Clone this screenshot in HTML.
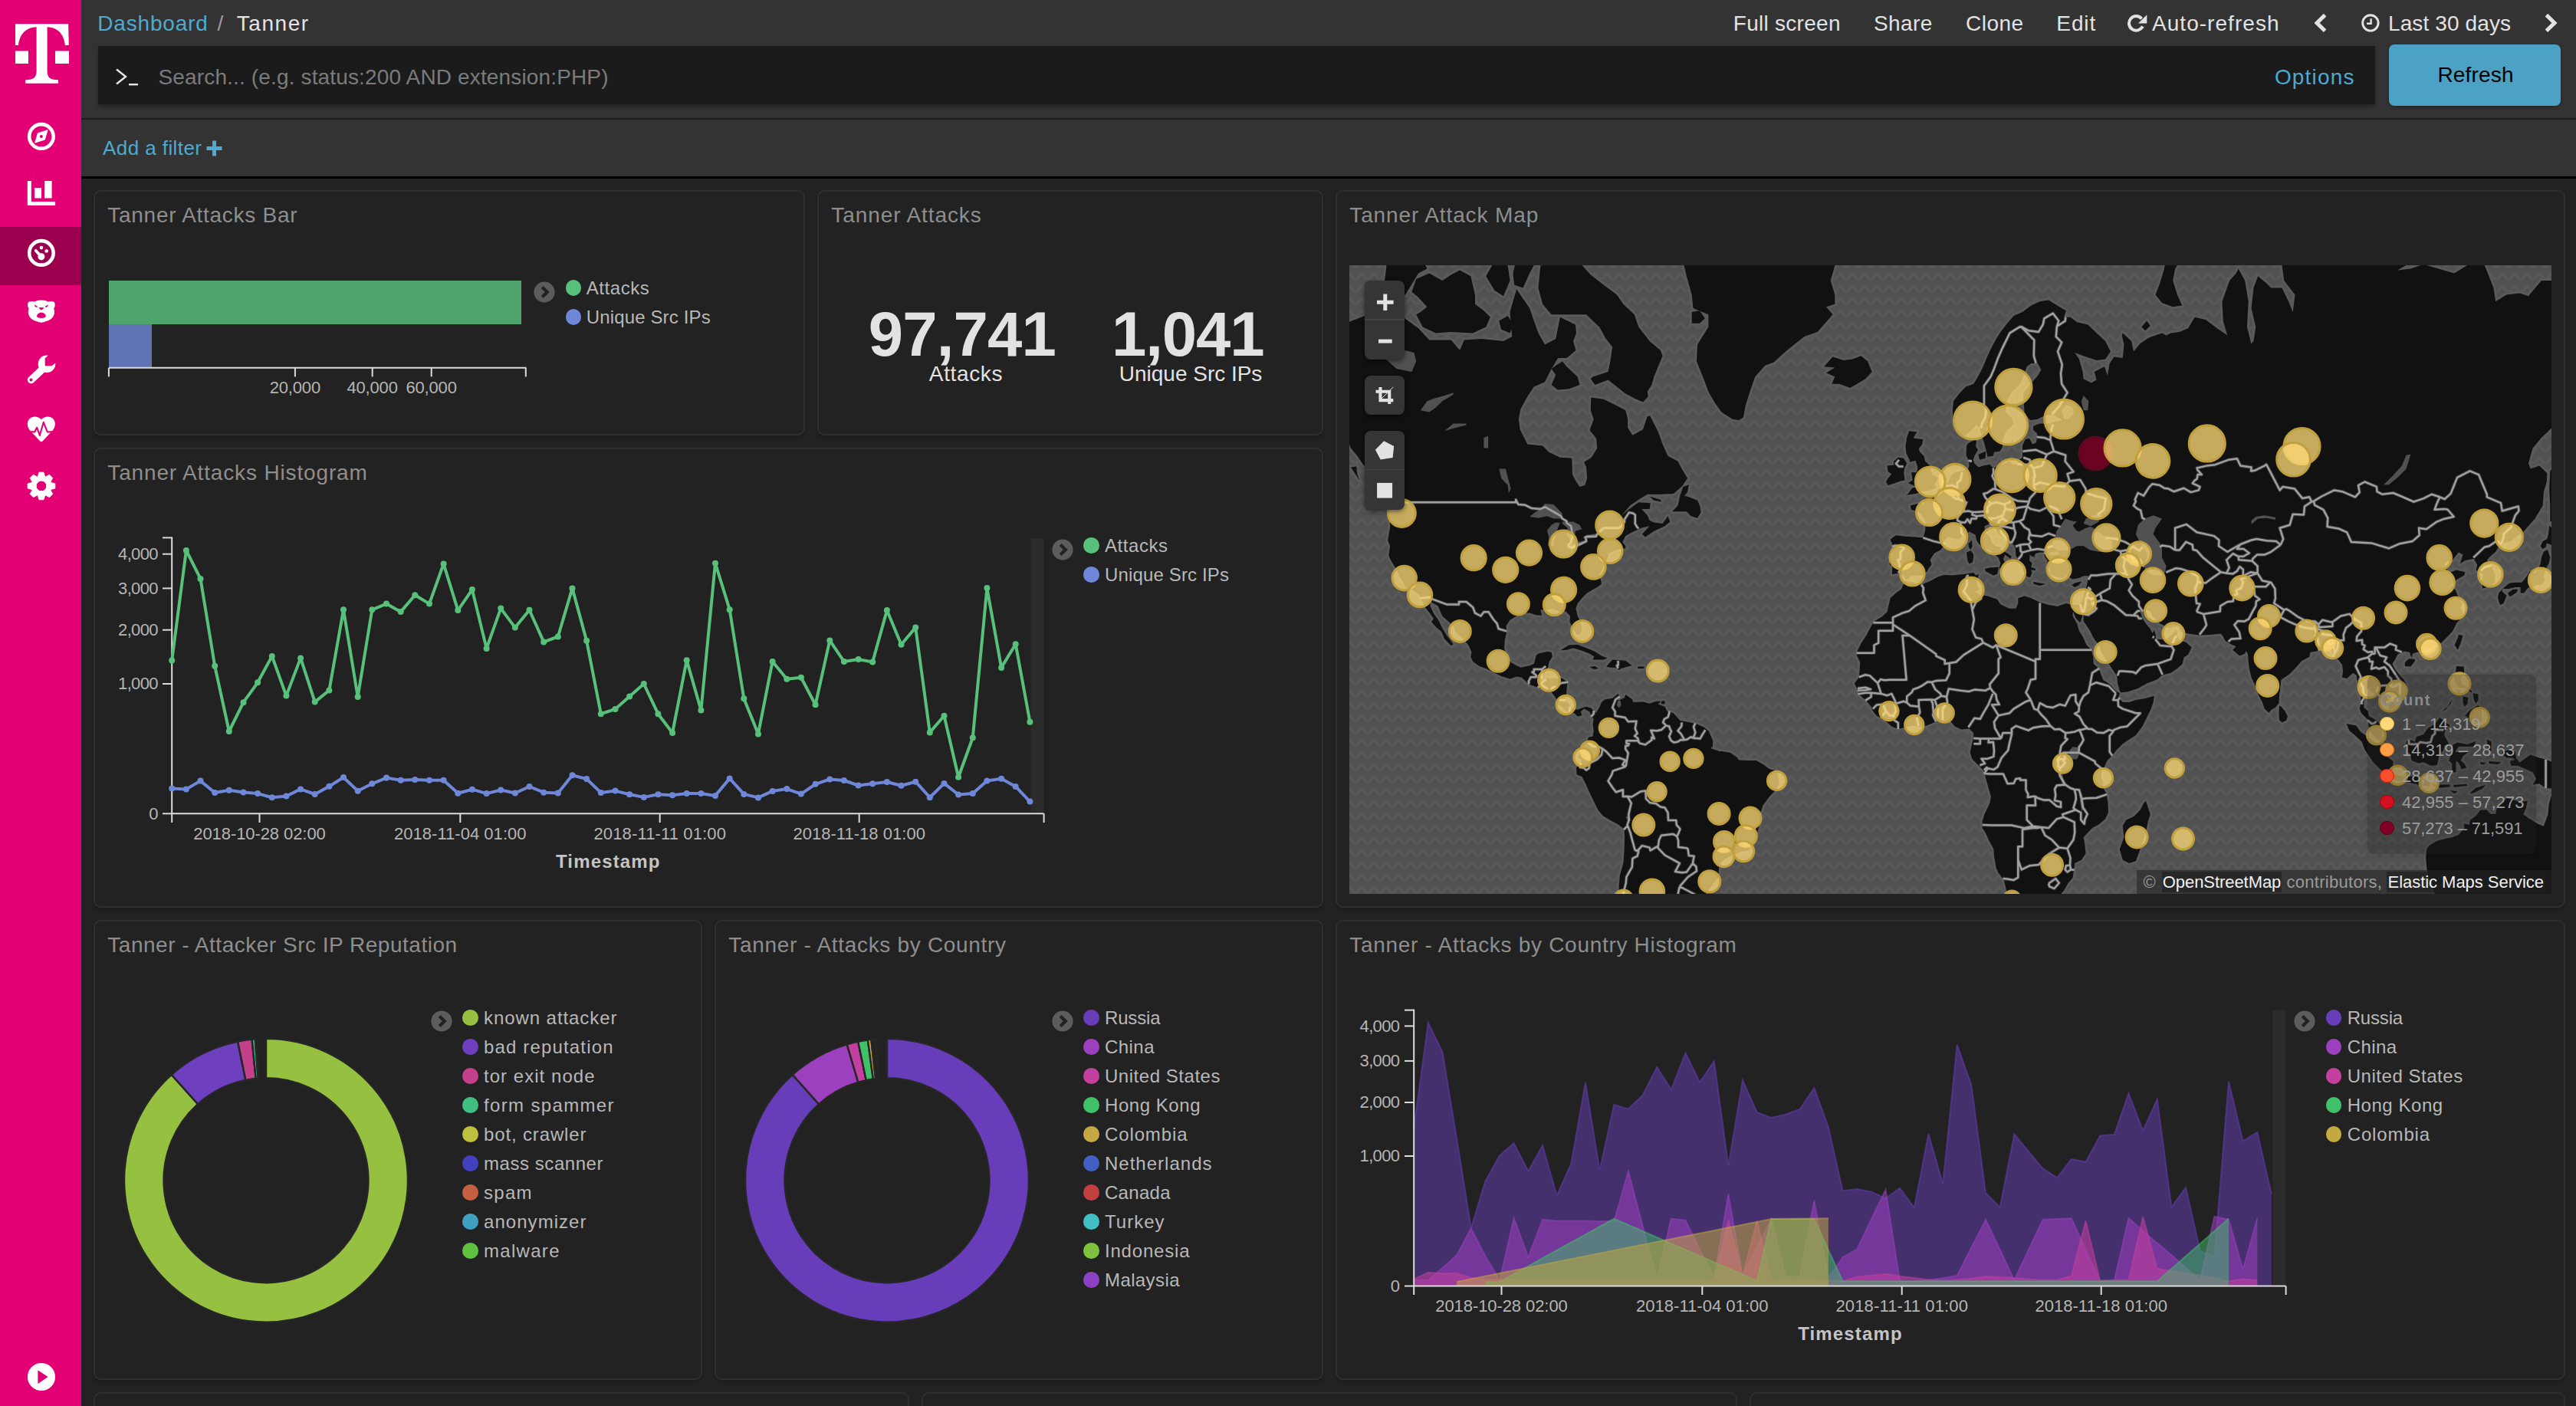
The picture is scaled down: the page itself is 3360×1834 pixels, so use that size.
<!DOCTYPE html>
<html><head><meta charset="utf-8"><title>Tanner - Kibana</title>
<style>
html,body{margin:0;padding:0;background:#222;}
body{width:3360px;height:1834px;overflow:hidden;position:relative;font-family:"Liberation Sans", sans-serif;}
div{box-sizing:content-box;}
</style></head><body>
<div style="position:absolute;left:0px;top:0px;width:106px;height:1834px;background:#e20074;"></div>
<div style="position:absolute;left:0px;top:296px;width:106px;height:75.8px;background:#9b004f;"></div>
<svg style="position:absolute;left:0;top:0" width="3360" height="1834" viewBox="0 0 3360 1834"><path d="M20,31.2 H89.1 L89.8,58.8 L85,59.3 C83.5,46 77,36 61.6,35.3 V92 C61.6,100 64,104.3 76,104.3 V108.8 H33.1 V104.3 C45,104.3 47.6,100 47.6,92 V35.3 C32,36 25.5,46 23.9,59.3 L20,58.8 Z" fill="#fff"/><path d="M20,66.6 h17 v16.3 h-17z M72,66.6 h18 v16.3 h-18z" fill="#fff"/><circle cx="53.9" cy="177.9" r="15.75" fill="none" stroke="#fff" stroke-width="4.6"/><path d="M62.8,169 L58.7,182.4 L45.1,186.8 L49,173.6 Z M53.9,175.9 a2,2 0 1 0 0.01,0Z" fill="#fff" fill-rule="evenodd"/><path d="M35.8,236 h5 v27 h31.3 v4.9 h-36.3z M45.1,244.9 h8.9 v13.5 h-8.9z M58.2,236 h9.4 v22.4 h-9.4z" fill="#fff"/><circle cx="53.9" cy="329.9" r="15.75" fill="none" stroke="#fff" stroke-width="4.6"/><circle cx="53.9" cy="334.7" r="4.5" fill="#fff"/><path d="M53.9,334.7 L46.7,327" stroke="#fff" stroke-width="3.8" stroke-linecap="round"/><circle cx="53.9" cy="323.1" r="2.3" fill="#fff"/><circle cx="60.7" cy="327.5" r="2.3" fill="#fff"/><path d="M53.9,391.5 C50,391.5 47,392.3 45,393.6 C42.5,392.6 39,392.8 36.8,394.2 C35.5,397 36.2,400.5 37.6,402.5 C36.2,406 36.5,410 38.5,413 C41,417 45,418.5 48.5,419.3 C50,420.3 52,420.7 53.9,420.7 C55.8,420.7 57.8,420.3 59.3,419.3 C62.8,418.5 66.8,417 69.3,413 C71.3,410 71.6,406 70.2,402.5 C71.6,400.5 72.3,397 71,394.2 C68.8,392.8 65.3,392.6 62.8,393.6 C60.8,392.3 57.8,391.5 53.9,391.5 Z" fill="#fff"/><path d="M44.9,397.6 L48.9,399.5 L48.3,400.9 L45.6,399.9 Z M62.9,397.6 L58.9,399.5 L59.5,400.9 L62.2,399.9 Z" fill="#e20074"/><path d="M50.5,401.3 Q53.9,400.6 57.3,401.3 Q56.5,403.8 53.9,404.6 Q51.3,403.8 50.5,401.3Z" fill="#e20074"/><path d="M48.1,412.3 C48.3,409.5 51,407.8 53.9,407.8 C56.8,407.8 59.5,409.5 59.7,412.3 C59.8,414 57.5,414.9 53.9,414.9 C50.3,414.9 48,414 48.1,412.3Z" fill="#e20074"/><path d="M40.6,495.4 L57,480" stroke="#fff" stroke-width="9.6" stroke-linecap="round"/><circle cx="61" cy="474.7" r="11.3" fill="#fff"/><path d="M58.7,477.3 V467.6 L62.9,463.2 L76,460 V470 L71.9,473.7 L67.5,477.3Z" fill="#e20074"/><circle cx="40.5" cy="495.5" r="2" fill="#e20074"/><path d="M53.9,547.3 C51.5,544.5 48.5,543.4 45.5,543.4 C40,543.4 35.8,547.5 35.8,553 C35.8,557.5 38,560.5 41,563.5 L52.3,575.4 C53.2,576.4 54.6,576.4 55.5,575.4 L66.8,563.5 C69.8,560.5 71.9,557.5 71.9,553 C71.9,547.5 67.8,543.4 62.3,543.4 C59.3,543.4 56.3,544.5 53.9,547.3 Z" fill="#fff"/><path d="M33,563.4 H45.2 L48.2,557.6 L51.8,568 L56.8,550.8 L61.8,563.4 H75" fill="none" stroke="#e20074" stroke-width="2.1" stroke-linejoin="round"/><path d="M49.43,621.46L51.06,616.15L56.90,616.15L58.53,621.46L59.60,621.91L64.51,619.30L68.64,623.43L66.03,628.34L66.48,629.41L71.79,631.04L71.79,636.88L66.48,638.51L66.03,639.58L68.64,644.49L64.51,648.62L59.60,646.01L58.53,646.46L56.90,651.77L51.06,651.77L49.43,646.46L48.36,646.01L43.45,648.62L39.32,644.49L41.93,639.58L41.48,638.51L36.17,636.88L36.17,631.04L41.48,629.41L41.93,628.34L39.32,623.43L43.45,619.30L48.36,621.91Z M47.13,633.96 a6.85,6.85 0 1 0 13.70,0 a6.85,6.85 0 1 0 -13.70,0Z" fill="#fff" fill-rule="evenodd" stroke="#fff" stroke-width="1" stroke-linejoin="round"/><circle cx="53.98" cy="1796" r="18.05" fill="#fff"/><path d="M49.4,1787.2 V1804.9 L62.6,1796Z" fill="#e20074"/></svg>
<div style="position:absolute;left:106px;top:0px;width:3254px;height:230px;background:#333;"></div>
<div style="position:absolute;left:106px;top:153.5px;width:3254px;height:2.5px;background:#1d1d1d;"></div>
<div style="position:absolute;left:106px;top:229.5px;width:3254px;height:3px;background:#000;"></div>
<div id="t1" style="position:absolute;top:16.7px;font-size:28px;line-height:28px;color:#4eaad0;white-space:nowrap;letter-spacing:0.814px;left:127.3px;">Dashboard</div>
<div id="t2" style="position:absolute;top:16.7px;font-size:28px;line-height:28px;color:#9a9a9a;white-space:nowrap;left:283.5px;">/</div>
<div id="t3" style="position:absolute;top:16.7px;font-size:28px;line-height:28px;color:#e4e4e4;white-space:nowrap;letter-spacing:1.576px;left:308.7px;">Tanner</div>
<div id="t4" style="position:absolute;top:16.6px;font-size:28px;line-height:28px;color:#e2e2e2;white-space:nowrap;letter-spacing:0.275px;left:2260.8px;">Full screen</div>
<div id="t5" style="position:absolute;top:16.6px;font-size:28px;line-height:28px;color:#e2e2e2;white-space:nowrap;letter-spacing:0.396px;left:2444.0px;">Share</div>
<div id="t6" style="position:absolute;top:16.6px;font-size:28px;line-height:28px;color:#e2e2e2;white-space:nowrap;letter-spacing:0.532px;left:2563.9px;">Clone</div>
<div id="t7" style="position:absolute;top:16.6px;font-size:28px;line-height:28px;color:#e2e2e2;white-space:nowrap;letter-spacing:0.915px;left:2682.3px;">Edit</div>
<div id="t8" style="position:absolute;top:16.6px;font-size:28px;line-height:28px;color:#e2e2e2;white-space:nowrap;letter-spacing:1.039px;left:2807.0px;">Auto-refresh</div>
<div id="t9" style="position:absolute;top:16.6px;font-size:28px;line-height:28px;color:#e2e2e2;white-space:nowrap;letter-spacing:0.111px;left:3115.0px;">Last 30 days</div>
<svg style="position:absolute;left:0;top:0" width="3360" height="1834" viewBox="0 0 3360 1834"><path d="M2793.42,24.42 A9.3,9.3 0 1 0 2794.73,34.33" fill="none" stroke="#e2e2e2" stroke-width="4"/><path d="M2800.3,19.2 V30.6 H2788.9 Z" fill="#e2e2e2"/><path d="M3032.6,19.6 L3022,29.9 L3032.6,40.2" fill="none" stroke="#e2e2e2" stroke-width="5"/><path d="M3321.4,19.6 L3332,29.9 L3321.4,40.2" fill="none" stroke="#e2e2e2" stroke-width="5"/><circle cx="3091.9" cy="29.9" r="10.2" fill="none" stroke="#e2e2e2" stroke-width="2.9"/><path d="M3092.6,24.2 V30.8 H3087" fill="none" stroke="#e2e2e2" stroke-width="2.4"/></svg>
<div style="position:absolute;left:128px;top:60px;width:2969.5px;height:75.5px;background:#1b1b1b;box-shadow:0 3px 5px rgba(0,0,0,0.35);"></div>
<svg style="position:absolute;left:150px;top:88px" width="34" height="26" viewBox="0 0 34 26"><path d="M2,2.5 L14,12 L2,21.5" fill="none" stroke="#e6e6e6" stroke-width="2.4"/><path d="M18,22.2 L30,22.2" stroke="#e6e6e6" stroke-width="2.4"/></svg>
<div id="t10" style="position:absolute;top:86.5px;font-size:28px;line-height:28px;color:#7b7b7b;white-space:nowrap;letter-spacing:0.148px;left:206.5px;">Search... (e.g. status:200 AND extension:PHP)</div>
<div id="t11" style="position:absolute;top:86.5px;font-size:28px;line-height:28px;color:#4eaad0;white-space:nowrap;letter-spacing:1.166px;left:2966.9px;">Options</div>
<div style="position:absolute;left:3116px;top:57.5px;width:224px;height:80px;background:#4ba2c4;border-radius:7px;box-shadow:0 2px 4px rgba(0,0,0,0.3);"></div>
<div id="t12" style="position:absolute;top:84.3px;font-size:28px;line-height:28px;color:#000;white-space:nowrap;letter-spacing:0.175px;left:3179.4px;">Refresh</div>
<div id="t13" style="position:absolute;top:180.0px;font-size:26px;line-height:26px;color:#4eaad0;white-space:nowrap;letter-spacing:0.427px;left:134.0px;">Add a filter</div>
<svg style="position:absolute;left:268.5px;top:182.5px" width="21" height="21" viewBox="0 0 21 21"><path d="M8,0.5h5v7.5h7.5v5h-7.5v7.5h-5v-7.5h-7.5v-5h7.5z" fill="#4eaad0"/></svg>
<div style="position:absolute;left:106px;top:232.5px;width:3254px;height:1602px;background:#222;"></div>
<div style="position:absolute;left:122px;top:248px;width:924px;height:316px;border:2px solid #2f2f2f;border-radius:9px;background:#222;box-shadow:0 2px 4px rgba(0,0,0,0.25);"></div><div id="t14" style="position:absolute;top:266.7px;font-size:28px;line-height:28px;color:#8e8e8e;white-space:nowrap;letter-spacing:0.717px;left:140.3px;">Tanner Attacks Bar</div>
<div style="position:absolute;left:1066px;top:248px;width:656px;height:316px;border:2px solid #2f2f2f;border-radius:9px;background:#222;box-shadow:0 2px 4px rgba(0,0,0,0.25);"></div><div id="t15" style="position:absolute;top:266.7px;font-size:28px;line-height:28px;color:#8e8e8e;white-space:nowrap;letter-spacing:0.910px;left:1084.3px;">Tanner Attacks</div>
<div style="position:absolute;left:1742px;top:248px;width:1600px;height:932px;border:2px solid #2f2f2f;border-radius:9px;background:#222;box-shadow:0 2px 4px rgba(0,0,0,0.25);"></div><div id="t16" style="position:absolute;top:266.7px;font-size:28px;line-height:28px;color:#8e8e8e;white-space:nowrap;letter-spacing:0.875px;left:1760.3px;">Tanner Attack Map</div>
<div style="position:absolute;left:122px;top:584px;width:1600px;height:596px;border:2px solid #2f2f2f;border-radius:9px;background:#222;box-shadow:0 2px 4px rgba(0,0,0,0.25);"></div><div id="t17" style="position:absolute;top:602.7px;font-size:28px;line-height:28px;color:#8e8e8e;white-space:nowrap;letter-spacing:0.847px;left:140.3px;">Tanner Attacks Histogram</div>
<div style="position:absolute;left:122px;top:1200px;width:790px;height:596px;border:2px solid #2f2f2f;border-radius:9px;background:#222;box-shadow:0 2px 4px rgba(0,0,0,0.25);"></div><div id="t18" style="position:absolute;top:1218.7px;font-size:28px;line-height:28px;color:#8e8e8e;white-space:nowrap;letter-spacing:0.512px;left:140.3px;">Tanner - Attacker Src IP Reputation</div>
<div style="position:absolute;left:932px;top:1200px;width:790px;height:596px;border:2px solid #2f2f2f;border-radius:9px;background:#222;box-shadow:0 2px 4px rgba(0,0,0,0.25);"></div><div id="t19" style="position:absolute;top:1218.7px;font-size:28px;line-height:28px;color:#8e8e8e;white-space:nowrap;letter-spacing:0.687px;left:950.3px;">Tanner - Attacks by Country</div>
<div style="position:absolute;left:1742px;top:1200px;width:1600px;height:596px;border:2px solid #2f2f2f;border-radius:9px;background:#222;box-shadow:0 2px 4px rgba(0,0,0,0.25);"></div><div id="t20" style="position:absolute;top:1218.7px;font-size:28px;line-height:28px;color:#8e8e8e;white-space:nowrap;letter-spacing:0.700px;left:1760.3px;">Tanner - Attacks by Country Histogram</div>
<div style="position:absolute;left:122px;top:1816px;width:1060px;height:100px;border:2px solid #2f2f2f;border-radius:9px;background:#222;"></div>
<div style="position:absolute;left:1202px;top:1816px;width:1060px;height:100px;border:2px solid #2f2f2f;border-radius:9px;background:#222;"></div>
<div style="position:absolute;left:2282px;top:1816px;width:1060px;height:100px;border:2px solid #2f2f2f;border-radius:9px;background:#222;"></div>
<div style="position:absolute;left:141.9px;top:365.8px;width:538.1px;height:57.3px;background:#4ea46b;"></div>
<div style="position:absolute;left:141.9px;top:423.1px;width:55.8px;height:56.1px;background:#6073b4;"></div>
<svg style="position:absolute;left:0;top:0" width="3360" height="1834" viewBox="0 0 3360 1834"><g stroke="#dcdcdc" stroke-width="2" fill="none"><path d="M141.9,479.8 H686.4"/><path d="M141.9,479.8 V491.4"/><path d="M384.9,479.8 V491.4"/><path d="M485.7,479.8 V491.4"/><path d="M562.7,479.8 V491.4"/><path d="M685.8,479.8 V491.4"/></g><g stroke="#dcdcdc" stroke-width="2" fill="none"><path d="M224.2,700.4 V1061.3 H1361.6"/><path d="M212,701.4 H224.2"/><path d="M212,722.7 H224.2"/><path d="M212,767.4 H224.2"/><path d="M212,821.7 H224.2"/><path d="M212,892.0 H224.2"/><path d="M212,1061.3 H224.2"/><path d="M224.2,1061.3 V1073"/><path d="M338.5,1061.3 V1073"/><path d="M600.3,1061.3 V1073"/><path d="M860.7,1061.3 V1073"/><path d="M1120.7,1061.3 V1073"/><path d="M1361.6,1061.3 V1073"/></g><rect x="1344.5" y="702" width="17.1" height="358" fill="#2b2b2b"/><path d="M224.2,861.5 L242.9,717.9 L261.5,754.9 L280.2,868.7 L298.8,954.0 L317.5,916.2 L336.1,890.3 L354.8,855.9 L373.4,907.6 L392.1,858.4 L410.7,915.6 L429.4,900.5 L448.0,795.3 L466.7,909.0 L485.3,795.3 L504.0,787.6 L522.7,798.1 L541.3,776.2 L560.0,787.6 L578.6,735.5 L597.3,796.1 L615.9,769.1 L634.6,845.9 L653.2,793.6 L671.9,818.6 L690.5,795.8 L709.2,837.4 L727.8,830.5 L746.5,767.4 L765.1,835.7 L783.8,931.2 L802.5,925.0 L821.1,908.5 L839.8,892.0 L858.4,931.2 L877.1,956.0 L895.7,861.2 L914.4,926.4 L933.0,734.7 L951.7,795.2 L970.3,911.3 L989.0,957.4 L1007.6,862.9 L1026.3,885.7 L1044.9,883.7 L1063.6,919.3 L1082.3,835.4 L1100.9,862.9 L1119.6,860.1 L1138.2,863.5 L1156.9,796.1 L1175.5,840.8 L1194.2,818.6 L1212.8,955.4 L1231.5,933.8 L1250.1,1013.7 L1268.8,962.2 L1287.4,767.1 L1306.1,870.9 L1324.7,840.2 L1343.4,941.7" fill="none" stroke="#57c17b" stroke-width="4" stroke-linejoin="round"/><path d="M224.2,1028.5 L242.9,1029.4 L261.5,1018.6 L280.2,1034.0 L298.8,1030.8 L317.5,1033.4 L336.1,1035.1 L354.8,1040.2 L373.4,1038.5 L392.1,1029.4 L410.7,1036.0 L429.4,1025.7 L448.0,1014.0 L466.7,1031.7 L485.3,1022.3 L504.0,1014.6 L522.7,1017.7 L541.3,1016.9 L560.0,1017.7 L578.6,1017.7 L597.3,1034.8 L615.9,1029.7 L634.6,1035.1 L653.2,1030.5 L671.9,1034.5 L690.5,1026.0 L709.2,1033.7 L727.8,1034.5 L746.5,1011.2 L765.1,1016.0 L783.8,1033.9 L802.5,1031.6 L821.1,1036.2 L839.8,1039.9 L858.4,1036.2 L877.1,1037.3 L895.7,1035.0 L914.4,1035.0 L933.0,1037.9 L951.7,1015.4 L970.3,1035.9 L989.0,1040.4 L1007.6,1031.9 L1026.3,1029.1 L1044.9,1035.6 L1063.6,1022.8 L1082.3,1016.5 L1100.9,1018.0 L1119.6,1024.5 L1138.2,1022.2 L1156.9,1020.0 L1175.5,1024.8 L1194.2,1019.7 L1212.8,1040.2 L1231.5,1021.9 L1250.1,1036.5 L1268.8,1035.0 L1287.4,1018.5 L1306.1,1015.7 L1324.7,1025.9 L1343.4,1045.6" fill="none" stroke="#6f87d8" stroke-width="4" stroke-linejoin="round"/><circle cx="224.2" cy="861.5" r="4" fill="#57c17b"/><circle cx="242.9" cy="717.9" r="4" fill="#57c17b"/><circle cx="261.5" cy="754.9" r="4" fill="#57c17b"/><circle cx="280.2" cy="868.7" r="4" fill="#57c17b"/><circle cx="298.8" cy="954.0" r="4" fill="#57c17b"/><circle cx="317.5" cy="916.2" r="4" fill="#57c17b"/><circle cx="336.1" cy="890.3" r="4" fill="#57c17b"/><circle cx="354.8" cy="855.9" r="4" fill="#57c17b"/><circle cx="373.4" cy="907.6" r="4" fill="#57c17b"/><circle cx="392.1" cy="858.4" r="4" fill="#57c17b"/><circle cx="410.7" cy="915.6" r="4" fill="#57c17b"/><circle cx="429.4" cy="900.5" r="4" fill="#57c17b"/><circle cx="448.0" cy="795.3" r="4" fill="#57c17b"/><circle cx="466.7" cy="909.0" r="4" fill="#57c17b"/><circle cx="485.3" cy="795.3" r="4" fill="#57c17b"/><circle cx="504.0" cy="787.6" r="4" fill="#57c17b"/><circle cx="522.7" cy="798.1" r="4" fill="#57c17b"/><circle cx="541.3" cy="776.2" r="4" fill="#57c17b"/><circle cx="560.0" cy="787.6" r="4" fill="#57c17b"/><circle cx="578.6" cy="735.5" r="4" fill="#57c17b"/><circle cx="597.3" cy="796.1" r="4" fill="#57c17b"/><circle cx="615.9" cy="769.1" r="4" fill="#57c17b"/><circle cx="634.6" cy="845.9" r="4" fill="#57c17b"/><circle cx="653.2" cy="793.6" r="4" fill="#57c17b"/><circle cx="671.9" cy="818.6" r="4" fill="#57c17b"/><circle cx="690.5" cy="795.8" r="4" fill="#57c17b"/><circle cx="709.2" cy="837.4" r="4" fill="#57c17b"/><circle cx="727.8" cy="830.5" r="4" fill="#57c17b"/><circle cx="746.5" cy="767.4" r="4" fill="#57c17b"/><circle cx="765.1" cy="835.7" r="4" fill="#57c17b"/><circle cx="783.8" cy="931.2" r="4" fill="#57c17b"/><circle cx="802.5" cy="925.0" r="4" fill="#57c17b"/><circle cx="821.1" cy="908.5" r="4" fill="#57c17b"/><circle cx="839.8" cy="892.0" r="4" fill="#57c17b"/><circle cx="858.4" cy="931.2" r="4" fill="#57c17b"/><circle cx="877.1" cy="956.0" r="4" fill="#57c17b"/><circle cx="895.7" cy="861.2" r="4" fill="#57c17b"/><circle cx="914.4" cy="926.4" r="4" fill="#57c17b"/><circle cx="933.0" cy="734.7" r="4" fill="#57c17b"/><circle cx="951.7" cy="795.2" r="4" fill="#57c17b"/><circle cx="970.3" cy="911.3" r="4" fill="#57c17b"/><circle cx="989.0" cy="957.4" r="4" fill="#57c17b"/><circle cx="1007.6" cy="862.9" r="4" fill="#57c17b"/><circle cx="1026.3" cy="885.7" r="4" fill="#57c17b"/><circle cx="1044.9" cy="883.7" r="4" fill="#57c17b"/><circle cx="1063.6" cy="919.3" r="4" fill="#57c17b"/><circle cx="1082.3" cy="835.4" r="4" fill="#57c17b"/><circle cx="1100.9" cy="862.9" r="4" fill="#57c17b"/><circle cx="1119.6" cy="860.1" r="4" fill="#57c17b"/><circle cx="1138.2" cy="863.5" r="4" fill="#57c17b"/><circle cx="1156.9" cy="796.1" r="4" fill="#57c17b"/><circle cx="1175.5" cy="840.8" r="4" fill="#57c17b"/><circle cx="1194.2" cy="818.6" r="4" fill="#57c17b"/><circle cx="1212.8" cy="955.4" r="4" fill="#57c17b"/><circle cx="1231.5" cy="933.8" r="4" fill="#57c17b"/><circle cx="1250.1" cy="1013.7" r="4" fill="#57c17b"/><circle cx="1268.8" cy="962.2" r="4" fill="#57c17b"/><circle cx="1287.4" cy="767.1" r="4" fill="#57c17b"/><circle cx="1306.1" cy="870.9" r="4" fill="#57c17b"/><circle cx="1324.7" cy="840.2" r="4" fill="#57c17b"/><circle cx="1343.4" cy="941.7" r="4" fill="#57c17b"/><circle cx="224.2" cy="1028.5" r="4" fill="#6f87d8"/><circle cx="242.9" cy="1029.4" r="4" fill="#6f87d8"/><circle cx="261.5" cy="1018.6" r="4" fill="#6f87d8"/><circle cx="280.2" cy="1034.0" r="4" fill="#6f87d8"/><circle cx="298.8" cy="1030.8" r="4" fill="#6f87d8"/><circle cx="317.5" cy="1033.4" r="4" fill="#6f87d8"/><circle cx="336.1" cy="1035.1" r="4" fill="#6f87d8"/><circle cx="354.8" cy="1040.2" r="4" fill="#6f87d8"/><circle cx="373.4" cy="1038.5" r="4" fill="#6f87d8"/><circle cx="392.1" cy="1029.4" r="4" fill="#6f87d8"/><circle cx="410.7" cy="1036.0" r="4" fill="#6f87d8"/><circle cx="429.4" cy="1025.7" r="4" fill="#6f87d8"/><circle cx="448.0" cy="1014.0" r="4" fill="#6f87d8"/><circle cx="466.7" cy="1031.7" r="4" fill="#6f87d8"/><circle cx="485.3" cy="1022.3" r="4" fill="#6f87d8"/><circle cx="504.0" cy="1014.6" r="4" fill="#6f87d8"/><circle cx="522.7" cy="1017.7" r="4" fill="#6f87d8"/><circle cx="541.3" cy="1016.9" r="4" fill="#6f87d8"/><circle cx="560.0" cy="1017.7" r="4" fill="#6f87d8"/><circle cx="578.6" cy="1017.7" r="4" fill="#6f87d8"/><circle cx="597.3" cy="1034.8" r="4" fill="#6f87d8"/><circle cx="615.9" cy="1029.7" r="4" fill="#6f87d8"/><circle cx="634.6" cy="1035.1" r="4" fill="#6f87d8"/><circle cx="653.2" cy="1030.5" r="4" fill="#6f87d8"/><circle cx="671.9" cy="1034.5" r="4" fill="#6f87d8"/><circle cx="690.5" cy="1026.0" r="4" fill="#6f87d8"/><circle cx="709.2" cy="1033.7" r="4" fill="#6f87d8"/><circle cx="727.8" cy="1034.5" r="4" fill="#6f87d8"/><circle cx="746.5" cy="1011.2" r="4" fill="#6f87d8"/><circle cx="765.1" cy="1016.0" r="4" fill="#6f87d8"/><circle cx="783.8" cy="1033.9" r="4" fill="#6f87d8"/><circle cx="802.5" cy="1031.6" r="4" fill="#6f87d8"/><circle cx="821.1" cy="1036.2" r="4" fill="#6f87d8"/><circle cx="839.8" cy="1039.9" r="4" fill="#6f87d8"/><circle cx="858.4" cy="1036.2" r="4" fill="#6f87d8"/><circle cx="877.1" cy="1037.3" r="4" fill="#6f87d8"/><circle cx="895.7" cy="1035.0" r="4" fill="#6f87d8"/><circle cx="914.4" cy="1035.0" r="4" fill="#6f87d8"/><circle cx="933.0" cy="1037.9" r="4" fill="#6f87d8"/><circle cx="951.7" cy="1015.4" r="4" fill="#6f87d8"/><circle cx="970.3" cy="1035.9" r="4" fill="#6f87d8"/><circle cx="989.0" cy="1040.4" r="4" fill="#6f87d8"/><circle cx="1007.6" cy="1031.9" r="4" fill="#6f87d8"/><circle cx="1026.3" cy="1029.1" r="4" fill="#6f87d8"/><circle cx="1044.9" cy="1035.6" r="4" fill="#6f87d8"/><circle cx="1063.6" cy="1022.8" r="4" fill="#6f87d8"/><circle cx="1082.3" cy="1016.5" r="4" fill="#6f87d8"/><circle cx="1100.9" cy="1018.0" r="4" fill="#6f87d8"/><circle cx="1119.6" cy="1024.5" r="4" fill="#6f87d8"/><circle cx="1138.2" cy="1022.2" r="4" fill="#6f87d8"/><circle cx="1156.9" cy="1020.0" r="4" fill="#6f87d8"/><circle cx="1175.5" cy="1024.8" r="4" fill="#6f87d8"/><circle cx="1194.2" cy="1019.7" r="4" fill="#6f87d8"/><circle cx="1212.8" cy="1040.2" r="4" fill="#6f87d8"/><circle cx="1231.5" cy="1021.9" r="4" fill="#6f87d8"/><circle cx="1250.1" cy="1036.5" r="4" fill="#6f87d8"/><circle cx="1268.8" cy="1035.0" r="4" fill="#6f87d8"/><circle cx="1287.4" cy="1018.5" r="4" fill="#6f87d8"/><circle cx="1306.1" cy="1015.7" r="4" fill="#6f87d8"/><circle cx="1324.7" cy="1025.9" r="4" fill="#6f87d8"/><circle cx="1343.4" cy="1045.6" r="4" fill="#6f87d8"/><path d="M347.00,1354.70 A185.0,185.0 0 1 1 223.69,1401.79 L258.08,1440.25 A133.4,133.4 0 1 0 347.00,1406.30 Z" fill="#96c040" stroke="#262626" stroke-width="2.5"/><path d="M223.69,1401.79 A185.0,185.0 0 0 1 310.12,1358.41 L320.40,1408.98 A133.4,133.4 0 0 0 258.08,1440.25 Z" fill="#6e40c0" stroke="#262626" stroke-width="2.5"/><path d="M310.12,1358.41 A185.0,185.0 0 0 1 328.63,1355.61 L333.75,1406.96 A133.4,133.4 0 0 0 320.40,1408.98 Z" fill="#c4408a" stroke="#262626" stroke-width="2.5"/><path d="M328.63,1355.61 A185.0,185.0 0 0 1 332.81,1355.25 L336.77,1406.69 A133.4,133.4 0 0 0 333.75,1406.96 Z" fill="#40c080" stroke="#262626" stroke-width="2.5"/><path d="M332.81,1355.25 A185.0,185.0 0 0 1 334.10,1355.15 L337.69,1406.62 A133.4,133.4 0 0 0 336.77,1406.69 Z" fill="#c0c040" stroke="#262626" stroke-width="2.5"/><path d="M1157.00,1354.70 A185.0,185.0 0 1 1 1033.69,1401.79 L1068.08,1440.25 A133.4,133.4 0 1 0 1157.00,1406.30 Z" fill="#673db9" stroke="#262626" stroke-width="2.5"/><path d="M1033.69,1401.79 A185.0,185.0 0 0 1 1104.77,1362.23 L1119.34,1411.73 A133.4,133.4 0 0 0 1068.08,1440.25 Z" fill="#9c40c0" stroke="#262626" stroke-width="2.5"/><path d="M1104.77,1362.23 A185.0,185.0 0 0 1 1119.17,1358.61 L1129.72,1409.12 A133.4,133.4 0 0 0 1119.34,1411.73 Z" fill="#c440a0" stroke="#262626" stroke-width="2.5"/><path d="M1119.17,1358.61 A185.0,185.0 0 0 1 1131.89,1356.41 L1138.90,1407.53 A133.4,133.4 0 0 0 1129.72,1409.12 Z" fill="#40c068" stroke="#262626" stroke-width="2.5"/><path d="M1131.89,1356.41 A185.0,185.0 0 0 1 1136.38,1355.85 L1142.13,1407.13 A133.4,133.4 0 0 0 1138.90,1407.53 Z" fill="#c4a840" stroke="#262626" stroke-width="2.5"/><path d="M1136.38,1355.85 A185.0,185.0 0 0 1 1140.55,1355.43 L1145.14,1406.83 A133.4,133.4 0 0 0 1142.13,1407.13 Z" fill="#222" stroke="#262626" stroke-width="2.5"/><path d="M1140.55,1355.43 A185.0,185.0 0 0 1 1142.49,1355.27 L1146.53,1406.71 A133.4,133.4 0 0 0 1145.14,1406.83 Z" fill="#4060c4" stroke="#262626" stroke-width="2.5"/><rect x="2964.5" y="1317.6" width="17.1" height="358.5" fill="#2b2b2b"/><path d="M1844.2,1677.5 L1844.2,1470.7 L1862.8,1333.6 L1881.5,1372.0 L1900.1,1484.9 L1918.8,1601.5 L1937.4,1540.4 L1956.1,1507.1 L1974.7,1491.1 L1993.4,1527.6 L2012.0,1494.0 L2030.7,1559.4 L2049.3,1517.6 L2067.9,1411.8 L2086.6,1526.1 L2105.2,1441.1 L2123.9,1446.5 L2142.5,1428.6 L2161.2,1391.9 L2179.8,1420.9 L2198.5,1373.4 L2217.1,1411.5 L2235.8,1383.9 L2254.4,1520.4 L2273.0,1408.7 L2291.7,1450.8 L2310.3,1457.9 L2329.0,1453.6 L2347.6,1446.8 L2366.3,1418.9 L2384.9,1470.1 L2403.6,1553.2 L2422.2,1550.9 L2440.9,1554.6 L2459.5,1563.1 L2478.1,1549.7 L2496.8,1575.3 L2515.4,1478.6 L2534.1,1544.1 L2552.7,1362.6 L2571.4,1415.2 L2590.0,1556.0 L2608.7,1574.5 L2627.3,1479.2 L2646.0,1502.0 L2664.6,1524.1 L2683.2,1536.1 L2701.9,1511.9 L2720.5,1515.6 L2739.2,1481.5 L2757.8,1479.8 L2776.5,1426.0 L2795.1,1474.9 L2813.8,1433.7 L2832.4,1574.5 L2851.1,1548.9 L2869.7,1631.4 L2888.3,1639.9 L2907.0,1410.4 L2925.6,1488.3 L2944.3,1476.9 L2962.9,1557.4 L2962.9,1677.5 Z" fill="#673db9" fill-opacity="0.5"/><path d="M1844.2,1470.7 L1862.8,1333.6 L1881.5,1372.0 L1900.1,1484.9 L1918.8,1601.5 L1937.4,1540.4 L1956.1,1507.1 L1974.7,1491.1 L1993.4,1527.6 L2012.0,1494.0 L2030.7,1559.4 L2049.3,1517.6 L2067.9,1411.8 L2086.6,1526.1 L2105.2,1441.1 L2123.9,1446.5 L2142.5,1428.6 L2161.2,1391.9 L2179.8,1420.9 L2198.5,1373.4 L2217.1,1411.5 L2235.8,1383.9 L2254.4,1520.4 L2273.0,1408.7 L2291.7,1450.8 L2310.3,1457.9 L2329.0,1453.6 L2347.6,1446.8 L2366.3,1418.9 L2384.9,1470.1 L2403.6,1553.2 L2422.2,1550.9 L2440.9,1554.6 L2459.5,1563.1 L2478.1,1549.7 L2496.8,1575.3 L2515.4,1478.6 L2534.1,1544.1 L2552.7,1362.6 L2571.4,1415.2 L2590.0,1556.0 L2608.7,1574.5 L2627.3,1479.2 L2646.0,1502.0 L2664.6,1524.1 L2683.2,1536.1 L2701.9,1511.9 L2720.5,1515.6 L2739.2,1481.5 L2757.8,1479.8 L2776.5,1426.0 L2795.1,1474.9 L2813.8,1433.7 L2832.4,1574.5 L2851.1,1548.9 L2869.7,1631.4 L2888.3,1639.9 L2907.0,1410.4 L2925.6,1488.3 L2944.3,1476.9 L2962.9,1557.4" fill="none" stroke="#673db9" stroke-opacity="0.5" stroke-width="2"/><path d="M1844.2,1677.5 L1844.2,1669.8 L1862.8,1669.8 L1881.5,1654.1 L1900.1,1637.1 L1918.8,1602.1 L1937.4,1638.5 L1956.1,1669.8 L1974.7,1588.7 L1993.4,1639.9 L2012.0,1590.7 L2030.7,1592.4 L2049.3,1592.4 L2067.9,1592.4 L2086.6,1593.0 L2105.2,1593.0 L2123.9,1527.6 L2142.5,1598.7 L2161.2,1668.4 L2179.8,1589.6 L2198.5,1591.8 L2217.1,1629.4 L2235.8,1666.9 L2254.4,1557.4 L2273.0,1664.1 L2291.7,1627.1 L2310.3,1590.1 L2329.0,1665.5 L2347.6,1665.5 L2366.3,1566.0 L2384.9,1666.9 L2403.6,1639.9 L2422.2,1629.4 L2440.9,1590.1 L2459.5,1551.7 L2478.1,1671.2 L2496.8,1671.2 L2515.4,1669.8 L2534.1,1666.9 L2552.7,1664.1 L2571.4,1627.1 L2590.0,1590.7 L2608.7,1630.0 L2627.3,1669.8 L2646.0,1630.0 L2664.6,1590.7 L2683.2,1590.1 L2701.9,1589.3 L2720.5,1630.0 L2739.2,1671.2 L2757.8,1669.8 L2776.5,1588.7 L2795.1,1605.8 L2813.8,1621.4 L2832.4,1637.1 L2851.1,1654.1 L2869.7,1669.8 L2888.3,1586.7 L2907.0,1590.7 L2925.6,1655.6 L2944.3,1588.7 L2944.3,1677.5 Z" fill="#9c40c0" fill-opacity="0.55"/><path d="M1844.2,1669.8 L1862.8,1669.8 L1881.5,1654.1 L1900.1,1637.1 L1918.8,1602.1 L1937.4,1638.5 L1956.1,1669.8 L1974.7,1588.7 L1993.4,1639.9 L2012.0,1590.7 L2030.7,1592.4 L2049.3,1592.4 L2067.9,1592.4 L2086.6,1593.0 L2105.2,1593.0 L2123.9,1527.6 L2142.5,1598.7 L2161.2,1668.4 L2179.8,1589.6 L2198.5,1591.8 L2217.1,1629.4 L2235.8,1666.9 L2254.4,1557.4 L2273.0,1664.1 L2291.7,1627.1 L2310.3,1590.1 L2329.0,1665.5 L2347.6,1665.5 L2366.3,1566.0 L2384.9,1666.9 L2403.6,1639.9 L2422.2,1629.4 L2440.9,1590.1 L2459.5,1551.7 L2478.1,1671.2 L2496.8,1671.2 L2515.4,1669.8 L2534.1,1666.9 L2552.7,1664.1 L2571.4,1627.1 L2590.0,1590.7 L2608.7,1630.0 L2627.3,1669.8 L2646.0,1630.0 L2664.6,1590.7 L2683.2,1590.1 L2701.9,1589.3 L2720.5,1630.0 L2739.2,1671.2 L2757.8,1669.8 L2776.5,1588.7 L2795.1,1605.8 L2813.8,1621.4 L2832.4,1637.1 L2851.1,1654.1 L2869.7,1669.8 L2888.3,1586.7 L2907.0,1590.7 L2925.6,1655.6 L2944.3,1588.7" fill="none" stroke="#9c40c0" stroke-opacity="0.5" stroke-width="2"/><path d="M1844.2,1677.5 L1844.2,1668.4 L1862.8,1659.8 L1881.5,1661.2 L1900.1,1660.4 L1918.8,1666.9 L1937.4,1668.9 L1956.1,1669.2 L1974.7,1669.2 L1993.4,1669.2 L2012.0,1669.2 L2030.7,1669.2 L2049.3,1669.2 L2067.9,1669.2 L2086.6,1669.2 L2105.2,1669.2 L2123.9,1669.2 L2142.5,1669.2 L2161.2,1669.2 L2179.8,1669.2 L2198.5,1669.2 L2217.1,1669.2 L2235.8,1669.8 L2254.4,1591.6 L2273.0,1664.1 L2291.7,1592.4 L2310.3,1669.8 L2329.0,1669.2 L2347.6,1669.2 L2366.3,1669.2 L2384.9,1669.8 L2403.6,1671.2 L2422.2,1665.5 L2440.9,1663.5 L2459.5,1661.8 L2478.1,1664.7 L2496.8,1666.9 L2515.4,1669.2 L2534.1,1670.3 L2552.7,1669.2 L2571.4,1667.8 L2590.0,1664.9 L2608.7,1665.8 L2627.3,1666.9 L2646.0,1668.4 L2664.6,1669.8 L2683.2,1669.8 L2701.9,1664.1 L2720.5,1592.4 L2739.2,1670.3 L2757.8,1669.8 L2776.5,1669.2 L2795.1,1587.3 L2813.8,1655.0 L2832.4,1657.8 L2851.1,1660.7 L2869.7,1663.5 L2888.3,1666.9 L2907.0,1671.2 L2925.6,1668.4 L2944.3,1669.8 L2944.3,1677.5 Z" fill="#c440a0" fill-opacity="0.55"/><path d="M1844.2,1668.4 L1862.8,1659.8 L1881.5,1661.2 L1900.1,1660.4 L1918.8,1666.9 L1937.4,1668.9 L1956.1,1669.2 L1974.7,1669.2 L1993.4,1669.2 L2012.0,1669.2 L2030.7,1669.2 L2049.3,1669.2 L2067.9,1669.2 L2086.6,1669.2 L2105.2,1669.2 L2123.9,1669.2 L2142.5,1669.2 L2161.2,1669.2 L2179.8,1669.2 L2198.5,1669.2 L2217.1,1669.2 L2235.8,1669.8 L2254.4,1591.6 L2273.0,1664.1 L2291.7,1592.4 L2310.3,1669.8 L2329.0,1669.2 L2347.6,1669.2 L2366.3,1669.2 L2384.9,1669.8 L2403.6,1671.2 L2422.2,1665.5 L2440.9,1663.5 L2459.5,1661.8 L2478.1,1664.7 L2496.8,1666.9 L2515.4,1669.2 L2534.1,1670.3 L2552.7,1669.2 L2571.4,1667.8 L2590.0,1664.9 L2608.7,1665.8 L2627.3,1666.9 L2646.0,1668.4 L2664.6,1669.8 L2683.2,1669.8 L2701.9,1664.1 L2720.5,1592.4 L2739.2,1670.3 L2757.8,1669.8 L2776.5,1669.2 L2795.1,1587.3 L2813.8,1655.0 L2832.4,1657.8 L2851.1,1660.7 L2869.7,1663.5 L2888.3,1666.9 L2907.0,1671.2 L2925.6,1668.4 L2944.3,1669.8" fill="none" stroke="#c440a0" stroke-opacity="0.5" stroke-width="2"/><path d="M1937.4,1677.5 L1937.4,1672.1 L1956.1,1672.1 L2105.2,1589.6 L2291.7,1670.6 L2310.3,1590.1 L2366.3,1590.1 L2403.6,1671.2 L2813.8,1671.2 L2907.0,1589.6 L2907.0,1677.5 Z" fill="#40c068" fill-opacity="0.5"/><path d="M1937.4,1672.1 L1956.1,1672.1 L2105.2,1589.6 L2291.7,1670.6 L2310.3,1590.1 L2366.3,1590.1 L2403.6,1671.2 L2813.8,1671.2 L2907.0,1589.6" fill="none" stroke="#40c068" stroke-opacity="0.5" stroke-width="2"/><path d="M1900.1,1677.5 L1900.1,1672.1 L2310.3,1590.1 L2384.9,1589.3 L2384.9,1677.5 Z" fill="#c4a840" fill-opacity="0.52"/><path d="M1900.1,1672.1 L2310.3,1590.1 L2384.9,1589.3" fill="none" stroke="#c4a840" stroke-opacity="0.5" stroke-width="2"/><g stroke="#dcdcdc" stroke-width="2" fill="none"><path d="M1844.2,1316.6 V1677.5 H2981.6"/><path d="M1832,1317.6 H1844.2"/><path d="M1832,1338.4 H1844.2"/><path d="M1832,1383.9 H1844.2"/><path d="M1832,1438.0 H1844.2"/><path d="M1832,1508.0 H1844.2"/><path d="M1832,1677.5 H1844.2"/><path d="M1844.2,1677.5 V1689"/><path d="M1958.5,1677.5 V1689"/><path d="M2220.3,1677.5 V1689"/><path d="M2480.7,1677.5 V1689"/><path d="M2740.7,1677.5 V1689"/><path d="M2981.6,1677.5 V1689"/></g></svg>
<div id="t21" style="position:absolute;top:494.7px;font-size:22px;line-height:22px;color:#b5b5b5;white-space:nowrap;letter-spacing:-0.159px;left:384.8px;transform:translateX(-50%);">20,000</div>
<div id="t22" style="position:absolute;top:494.7px;font-size:22px;line-height:22px;color:#b5b5b5;white-space:nowrap;letter-spacing:-0.159px;left:485.6px;transform:translateX(-50%);">40,000</div>
<div id="t23" style="position:absolute;top:494.7px;font-size:22px;line-height:22px;color:#b5b5b5;white-space:nowrap;letter-spacing:-0.159px;left:562.6px;transform:translateX(-50%);">60,000</div>
<svg style="position:absolute;left:696.0px;top:366.9px" width="28" height="28" viewBox="0 0 28 28"><circle cx="14" cy="14" r="13.6" fill="#5c5c5c"/><path d="M11.2,7.6 L17.8,14 L11.2,20.4" fill="none" stroke="#222" stroke-width="4.2" stroke-linejoin="miter"/></svg>
<div style="position:absolute;left:737.7px;top:365.1px;width:20.6px;height:20.6px;border-radius:50%;background:#57c17b;"></div><div id="t24" style="position:absolute;top:363.9px;font-size:24px;line-height:24px;color:#b8b8b8;white-space:nowrap;letter-spacing:0.566px;left:764.7px;">Attacks</div><div style="position:absolute;left:737.7px;top:403.1px;width:20.6px;height:20.6px;border-radius:50%;background:#6f87d8;"></div><div id="t25" style="position:absolute;top:401.9px;font-size:24px;line-height:24px;color:#b8b8b8;white-space:nowrap;letter-spacing:0.149px;left:764.7px;">Unique Src IPs</div>
<div id="t26" style="position:absolute;top:395.3px;font-size:81.5px;line-height:81.5px;color:#e2e2e2;white-space:nowrap;font-weight:bold;letter-spacing:-0.856px;left:1254.8px;transform:translateX(-50%);">97,741</div>
<div id="t27" style="position:absolute;top:474.4px;font-size:28px;line-height:28px;color:#e2e2e2;white-space:nowrap;letter-spacing:0.648px;left:1260.0px;transform:translateX(-50%);">Attacks</div>
<div id="t28" style="position:absolute;top:395.3px;font-size:81.5px;line-height:81.5px;color:#e2e2e2;white-space:nowrap;font-weight:bold;letter-spacing:-1.114px;left:1549.3px;transform:translateX(-50%);">1,041</div>
<div id="t29" style="position:absolute;top:474.4px;font-size:28px;line-height:28px;color:#e2e2e2;white-space:nowrap;letter-spacing:-0.019px;left:1553.1px;transform:translateX(-50%);">Unique Src IPs</div>
<div id="t30" style="position:absolute;top:711.9px;font-size:22px;line-height:22px;color:#b5b5b5;white-space:nowrap;letter-spacing:-0.641px;right:3154.1px;">4,000</div>
<div id="t31" style="position:absolute;top:756.6px;font-size:22px;line-height:22px;color:#b5b5b5;white-space:nowrap;letter-spacing:-0.641px;right:3154.1px;">3,000</div>
<div id="t32" style="position:absolute;top:810.9px;font-size:22px;line-height:22px;color:#b5b5b5;white-space:nowrap;letter-spacing:-0.641px;right:3154.1px;">2,000</div>
<div id="t33" style="position:absolute;top:881.2px;font-size:22px;line-height:22px;color:#b5b5b5;white-space:nowrap;letter-spacing:-0.641px;right:3154.1px;">1,000</div>
<div id="t34" style="position:absolute;top:1050.5px;font-size:22px;line-height:22px;color:#b5b5b5;white-space:nowrap;right:3153.5px;">0</div>
<div id="t35" style="position:absolute;top:1077.0px;font-size:22px;line-height:22px;color:#b5b5b5;white-space:nowrap;letter-spacing:-0.080px;left:338.5px;transform:translateX(-50%);">2018-10-28 02:00</div>
<div id="t36" style="position:absolute;top:1077.0px;font-size:22px;line-height:22px;color:#b5b5b5;white-space:nowrap;letter-spacing:0.028px;left:600.3px;transform:translateX(-50%);">2018-11-04 01:00</div>
<div id="t37" style="position:absolute;top:1077.0px;font-size:22px;line-height:22px;color:#b5b5b5;white-space:nowrap;letter-spacing:0.137px;left:860.8px;transform:translateX(-50%);">2018-11-11 01:00</div>
<div id="t38" style="position:absolute;top:1077.0px;font-size:22px;line-height:22px;color:#b5b5b5;white-space:nowrap;letter-spacing:0.028px;left:1120.7px;transform:translateX(-50%);">2018-11-18 01:00</div>
<div id="t39" style="position:absolute;top:1112.2px;font-size:24px;line-height:24px;color:#c4c4c4;white-space:nowrap;font-weight:bold;letter-spacing:1.153px;left:793.3px;transform:translateX(-50%);">Timestamp</div>
<svg style="position:absolute;left:1371.6px;top:702.6px" width="28" height="28" viewBox="0 0 28 28"><circle cx="14" cy="14" r="13.6" fill="#5c5c5c"/><path d="M11.2,7.6 L17.8,14 L11.2,20.4" fill="none" stroke="#222" stroke-width="4.2" stroke-linejoin="miter"/></svg>
<div style="position:absolute;left:1413.3px;top:701.2px;width:20.6px;height:20.6px;border-radius:50%;background:#57c17b;"></div><div id="t40" style="position:absolute;top:700.0px;font-size:24px;line-height:24px;color:#b8b8b8;white-space:nowrap;letter-spacing:0.566px;left:1441.0px;">Attacks</div><div style="position:absolute;left:1413.3px;top:739.2px;width:20.6px;height:20.6px;border-radius:50%;background:#6f87d8;"></div><div id="t41" style="position:absolute;top:738.0px;font-size:24px;line-height:24px;color:#b8b8b8;white-space:nowrap;letter-spacing:0.149px;left:1441.0px;">Unique Src IPs</div>
<svg style="position:absolute;left:562.2px;top:1318.4px" width="28" height="28" viewBox="0 0 28 28"><circle cx="14" cy="14" r="13.6" fill="#5c5c5c"/><path d="M11.2,7.6 L17.8,14 L11.2,20.4" fill="none" stroke="#222" stroke-width="4.2" stroke-linejoin="miter"/></svg>
<div style="position:absolute;left:603.3px;top:1317px;width:20.6px;height:20.6px;border-radius:50%;background:#96c040;"></div><div id="t42" style="position:absolute;top:1315.8px;font-size:24px;line-height:24px;color:#b8b8b8;white-space:nowrap;letter-spacing:0.930px;left:631.0px;">known attacker</div><div style="position:absolute;left:603.3px;top:1355px;width:20.6px;height:20.6px;border-radius:50%;background:#6e40c0;"></div><div id="t43" style="position:absolute;top:1353.8px;font-size:24px;line-height:24px;color:#b8b8b8;white-space:nowrap;letter-spacing:1.156px;left:631.0px;">bad reputation</div><div style="position:absolute;left:603.3px;top:1393px;width:20.6px;height:20.6px;border-radius:50%;background:#c4408a;"></div><div id="t44" style="position:absolute;top:1391.8px;font-size:24px;line-height:24px;color:#b8b8b8;white-space:nowrap;letter-spacing:1.034px;left:631.0px;">tor exit node</div><div style="position:absolute;left:603.3px;top:1431px;width:20.6px;height:20.6px;border-radius:50%;background:#40c080;"></div><div id="t45" style="position:absolute;top:1429.8px;font-size:24px;line-height:24px;color:#b8b8b8;white-space:nowrap;letter-spacing:1.346px;left:631.0px;">form spammer</div><div style="position:absolute;left:603.3px;top:1469px;width:20.6px;height:20.6px;border-radius:50%;background:#c0c040;"></div><div id="t46" style="position:absolute;top:1467.8px;font-size:24px;line-height:24px;color:#b8b8b8;white-space:nowrap;letter-spacing:0.859px;left:631.0px;">bot, crawler</div><div style="position:absolute;left:603.3px;top:1507px;width:20.6px;height:20.6px;border-radius:50%;background:#4040c0;"></div><div id="t47" style="position:absolute;top:1505.8px;font-size:24px;line-height:24px;color:#b8b8b8;white-space:nowrap;letter-spacing:0.554px;left:631.0px;">mass scanner</div><div style="position:absolute;left:603.3px;top:1545px;width:20.6px;height:20.6px;border-radius:50%;background:#c46040;"></div><div id="t48" style="position:absolute;top:1543.8px;font-size:24px;line-height:24px;color:#b8b8b8;white-space:nowrap;letter-spacing:1.270px;left:631.0px;">spam</div><div style="position:absolute;left:603.3px;top:1583px;width:20.6px;height:20.6px;border-radius:50%;background:#40a0c0;"></div><div id="t49" style="position:absolute;top:1581.8px;font-size:24px;line-height:24px;color:#b8b8b8;white-space:nowrap;letter-spacing:1.049px;left:631.0px;">anonymizer</div><div style="position:absolute;left:603.3px;top:1621px;width:20.6px;height:20.6px;border-radius:50%;background:#60c040;"></div><div id="t50" style="position:absolute;top:1619.8px;font-size:24px;line-height:24px;color:#b8b8b8;white-space:nowrap;letter-spacing:1.299px;left:631.0px;">malware</div>
<svg style="position:absolute;left:1371.6px;top:1318.4px" width="28" height="28" viewBox="0 0 28 28"><circle cx="14" cy="14" r="13.6" fill="#5c5c5c"/><path d="M11.2,7.6 L17.8,14 L11.2,20.4" fill="none" stroke="#222" stroke-width="4.2" stroke-linejoin="miter"/></svg>
<div style="position:absolute;left:1413.3px;top:1317px;width:20.6px;height:20.6px;border-radius:50%;background:#673db9;"></div><div id="t51" style="position:absolute;top:1315.8px;font-size:24px;line-height:24px;color:#b8b8b8;white-space:nowrap;letter-spacing:-0.172px;left:1441.0px;">Russia</div><div style="position:absolute;left:1413.3px;top:1355px;width:20.6px;height:20.6px;border-radius:50%;background:#9c40c0;"></div><div id="t52" style="position:absolute;top:1353.8px;font-size:24px;line-height:24px;color:#b8b8b8;white-space:nowrap;letter-spacing:0.447px;left:1441.0px;">China</div><div style="position:absolute;left:1413.3px;top:1393px;width:20.6px;height:20.6px;border-radius:50%;background:#c440a0;"></div><div id="t53" style="position:absolute;top:1391.8px;font-size:24px;line-height:24px;color:#b8b8b8;white-space:nowrap;letter-spacing:0.534px;left:1441.0px;">United States</div><div style="position:absolute;left:1413.3px;top:1431px;width:20.6px;height:20.6px;border-radius:50%;background:#40c068;"></div><div id="t54" style="position:absolute;top:1429.8px;font-size:24px;line-height:24px;color:#b8b8b8;white-space:nowrap;letter-spacing:0.550px;left:1441.0px;">Hong Kong</div><div style="position:absolute;left:1413.3px;top:1469px;width:20.6px;height:20.6px;border-radius:50%;background:#c4a840;"></div><div id="t55" style="position:absolute;top:1467.8px;font-size:24px;line-height:24px;color:#b8b8b8;white-space:nowrap;letter-spacing:0.873px;left:1441.0px;">Colombia</div><div style="position:absolute;left:1413.3px;top:1507px;width:20.6px;height:20.6px;border-radius:50%;background:#4060c4;"></div><div id="t56" style="position:absolute;top:1505.8px;font-size:24px;line-height:24px;color:#b8b8b8;white-space:nowrap;letter-spacing:1.009px;left:1441.0px;">Netherlands</div><div style="position:absolute;left:1413.3px;top:1545px;width:20.6px;height:20.6px;border-radius:50%;background:#c44040;"></div><div id="t57" style="position:absolute;top:1543.8px;font-size:24px;line-height:24px;color:#b8b8b8;white-space:nowrap;letter-spacing:0.284px;left:1441.0px;">Canada</div><div style="position:absolute;left:1413.3px;top:1583px;width:20.6px;height:20.6px;border-radius:50%;background:#40c0c4;"></div><div id="t58" style="position:absolute;top:1581.8px;font-size:24px;line-height:24px;color:#b8b8b8;white-space:nowrap;letter-spacing:1.006px;left:1441.0px;">Turkey</div><div style="position:absolute;left:1413.3px;top:1621px;width:20.6px;height:20.6px;border-radius:50%;background:#80c040;"></div><div id="t59" style="position:absolute;top:1619.8px;font-size:24px;line-height:24px;color:#b8b8b8;white-space:nowrap;letter-spacing:0.802px;left:1441.0px;">Indonesia</div><div style="position:absolute;left:1413.3px;top:1659px;width:20.6px;height:20.6px;border-radius:50%;background:#8c40c4;"></div><div id="t60" style="position:absolute;top:1657.8px;font-size:24px;line-height:24px;color:#b8b8b8;white-space:nowrap;letter-spacing:0.399px;left:1441.0px;">Malaysia</div>
<div id="t61" style="position:absolute;top:1327.6px;font-size:22px;line-height:22px;color:#b5b5b5;white-space:nowrap;letter-spacing:-0.641px;right:1534.6px;">4,000</div>
<div id="t62" style="position:absolute;top:1373.1px;font-size:22px;line-height:22px;color:#b5b5b5;white-space:nowrap;letter-spacing:-0.641px;right:1534.6px;">3,000</div>
<div id="t63" style="position:absolute;top:1427.2px;font-size:22px;line-height:22px;color:#b5b5b5;white-space:nowrap;letter-spacing:-0.641px;right:1534.6px;">2,000</div>
<div id="t64" style="position:absolute;top:1497.2px;font-size:22px;line-height:22px;color:#b5b5b5;white-space:nowrap;letter-spacing:-0.641px;right:1534.6px;">1,000</div>
<div id="t65" style="position:absolute;top:1666.7px;font-size:22px;line-height:22px;color:#b5b5b5;white-space:nowrap;right:1534.0px;">0</div>
<div id="t66" style="position:absolute;top:1693.0px;font-size:22px;line-height:22px;color:#b5b5b5;white-space:nowrap;letter-spacing:-0.080px;left:1958.5px;transform:translateX(-50%);">2018-10-28 02:00</div>
<div id="t67" style="position:absolute;top:1693.0px;font-size:22px;line-height:22px;color:#b5b5b5;white-space:nowrap;letter-spacing:0.028px;left:2220.3px;transform:translateX(-50%);">2018-11-04 01:00</div>
<div id="t68" style="position:absolute;top:1693.0px;font-size:22px;line-height:22px;color:#b5b5b5;white-space:nowrap;letter-spacing:0.137px;left:2480.8px;transform:translateX(-50%);">2018-11-11 01:00</div>
<div id="t69" style="position:absolute;top:1693.0px;font-size:22px;line-height:22px;color:#b5b5b5;white-space:nowrap;letter-spacing:0.028px;left:2740.7px;transform:translateX(-50%);">2018-11-18 01:00</div>
<div id="t70" style="position:absolute;top:1728.2px;font-size:24px;line-height:24px;color:#c4c4c4;white-space:nowrap;font-weight:bold;letter-spacing:1.153px;left:2413.5px;transform:translateX(-50%);">Timestamp</div>
<svg style="position:absolute;left:2992.2px;top:1318.4px" width="28" height="28" viewBox="0 0 28 28"><circle cx="14" cy="14" r="13.6" fill="#5c5c5c"/><path d="M11.2,7.6 L17.8,14 L11.2,20.4" fill="none" stroke="#222" stroke-width="4.2" stroke-linejoin="miter"/></svg>
<div style="position:absolute;left:3033.9px;top:1317px;width:20.6px;height:20.6px;border-radius:50%;background:#673db9;"></div><div id="t71" style="position:absolute;top:1315.8px;font-size:24px;line-height:24px;color:#b8b8b8;white-space:nowrap;letter-spacing:-0.172px;left:3061.7px;">Russia</div><div style="position:absolute;left:3033.9px;top:1355px;width:20.6px;height:20.6px;border-radius:50%;background:#9c40c0;"></div><div id="t72" style="position:absolute;top:1353.8px;font-size:24px;line-height:24px;color:#b8b8b8;white-space:nowrap;letter-spacing:0.447px;left:3061.7px;">China</div><div style="position:absolute;left:3033.9px;top:1393px;width:20.6px;height:20.6px;border-radius:50%;background:#c440a0;"></div><div id="t73" style="position:absolute;top:1391.8px;font-size:24px;line-height:24px;color:#b8b8b8;white-space:nowrap;letter-spacing:0.534px;left:3061.7px;">United States</div><div style="position:absolute;left:3033.9px;top:1431px;width:20.6px;height:20.6px;border-radius:50%;background:#40c068;"></div><div id="t74" style="position:absolute;top:1429.8px;font-size:24px;line-height:24px;color:#b8b8b8;white-space:nowrap;letter-spacing:0.550px;left:3061.7px;">Hong Kong</div><div style="position:absolute;left:3033.9px;top:1469px;width:20.6px;height:20.6px;border-radius:50%;background:#c4a840;"></div><div id="t75" style="position:absolute;top:1467.8px;font-size:24px;line-height:24px;color:#b8b8b8;white-space:nowrap;letter-spacing:0.873px;left:3061.7px;">Colombia</div>
<svg width="1568" height="820" viewBox="0 0 1568 820" style="position:absolute;left:1760px;top:346px;overflow:hidden;background:#515151">
<defs><pattern id="wv" width="16" height="16" patternUnits="userSpaceOnUse" x="8" y="7"><path d="M-1,10.4 L2.8,10.4 L8,3 L13.1,10.4 L17,10.4" fill="none" stroke="#585858" stroke-width="3.2" stroke-linejoin="round"/></pattern></defs>
<rect width="1568" height="820" fill="url(#wv)"/>
<path d="M-43.6,70.9L-15.2,82.2L-1.0,74.2L24.6,64.3L47.4,74.2L70.1,67.7L90.1,82.2L104.3,97.6L132.7,97.6L144.1,111.0L149.8,97.6L172.5,96.1L201.0,99.1L212.4,93.1L209.5,61.0L218.1,31.2L235.1,55.9L240.8,72.6L246.5,88.4L255.0,103.6L269.3,96.1L274.9,67.7L294.9,77.4L296.0,88.4L292.0,99.1L295.4,111.0L283.5,121.0L272.1,121.0L263.6,134.9L255.0,152.2L240.8,158.6L232.3,171.2L223.2,188.0L220.9,200.7L222.6,214.2L232.3,233.4L252.2,235.5L260.2,243.7L274.9,250.8L290.3,251.8L290.9,273.1L294.9,280.6L300.5,288.9L307.4,287.1L310.2,277.8L309.1,263.6L306.2,256.7L315.9,250.8L323.3,238.6L322.2,226.0L313.6,215.2L318.7,200.7L314.8,189.2L315.3,172.4L331.8,174.8L348.9,183.3L360.3,189.2L363.1,200.7L363.1,211.9L369.4,221.8L383.0,214.2L388.7,197.3L392.1,196.2L402.9,217.4L408.6,233.4L415.5,248.8L428.5,255.8L434.2,266.5L441.1,277.8L434.2,288.0L422.9,297.9L405.8,298.8L388.7,298.8L377.3,305.8L366.0,313.6L354.6,327.2L363.1,319.6L377.3,309.3L392.7,310.2L391.6,317.9L381.3,317.9L388.7,326.3L391.6,333.0L397.3,335.4L408.6,337.1L415.5,327.2L418.3,334.6L411.5,340.3L397.3,346.7L385.9,354.6L381.9,350.7L391.6,340.3L383.0,341.9L377.3,344.3L368.8,348.3L360.3,353.1L356.3,360.9L360.3,366.3L360.3,369.3L353.5,370.1L346.1,372.3L338.7,375.4L337.5,379.1L335.8,385.0L331.8,390.2L330.7,396.0L326.1,403.1L327.9,410.2L329.0,415.8L323.3,420.0L315.9,424.1L309.1,428.2L303.4,434.3L297.7,441.0L295.4,447.7L297.7,457.5L300.5,462.7L303.4,471.7L302.3,479.9L297.7,482.4L293.1,476.7L287.5,465.3L288.0,457.5L281.8,451.0L274.9,452.9L266.4,448.3L257.9,449.0L249.3,449.6L251.1,456.8L243.7,456.2L235.1,453.6L223.7,453.6L218.1,457.5L209.5,462.7L204.4,470.4L205.5,477.4L202.7,489.3L202.1,499.8L205.0,509.0L210.7,518.1L218.1,522.3L223.7,524.7L235.1,522.3L240.8,519.9L243.7,509.0L246.5,506.5L257.9,504.1L263.6,504.7L264.7,510.8L260.7,516.9L259.0,524.7L256.2,528.9L253.3,537.8L257.9,539.0L269.3,538.4L277.8,539.0L284.6,543.7L283.5,552.5L282.9,561.2L281.8,567.0L286.3,572.8L292.0,578.6L297.7,579.7L303.4,577.4L309.1,575.7L314.8,577.4L318.7,580.9L321.6,584.3L326.1,576.9L329.0,569.9L333.0,566.5L343.2,564.7L350.6,558.9L352.9,562.4L350.0,567.0L351.7,567.6L359.1,564.1L360.3,560.1L368.8,565.9L370.5,569.9L383.0,569.4L391.6,571.7L400.1,568.8L406.4,568.8L402.9,572.8L411.5,575.7L414.3,581.5L422.9,584.3L431.4,594.1L445.6,596.4L454.1,598.7L462.7,602.7L468.4,607.2L474.1,619.8L474.1,627.2L471.2,630.0L482.6,634.0L485.4,634.0L496.8,635.7L505.3,641.4L508.2,645.4L519.6,645.9L530.9,645.9L539.5,651.1L548.0,657.3L557.7,659.6L559.4,667.1L560.5,675.7L556.5,684.3L548.0,693.0L539.5,704.6L536.6,713.4L536.6,725.2L533.8,734.1L530.9,745.0L526.4,755.3L520.7,763.3L511.0,764.5L502.5,768.8L494.0,772.0L485.4,778.8L482.0,786.4L481.5,798.0L474.1,807.7L465.5,819.0L459.8,825.7L454.1,835.9L428.5,864.0L348.9,864.0L340.4,856.9L346.1,835.9L351.7,822.3L351.7,809.0L352.9,796.0L357.4,780.1L358.6,764.5L359.1,746.2L358.6,735.9L351.7,729.9L340.4,724.0L330.7,718.1L324.4,710.4L319.3,699.9L313.1,687.2L307.9,675.7L303.4,667.1L296.6,664.2L296.0,655.6L301.7,649.4L303.4,644.8L298.3,642.5L300.5,635.1L303.4,630.0L303.4,625.4L310.2,621.5L311.9,615.8L317.6,614.6L318.7,607.2L317.6,598.7L318.7,591.2L315.3,588.9L313.6,582.6L306.2,578.6L301.7,582.6L303.4,587.2L297.7,588.4L293.7,584.3L286.9,583.2L282.3,580.9L276.7,575.1L270.4,572.8L271.0,567.0L263.6,556.6L259.6,554.2L252.2,553.1L243.7,550.1L234.0,546.6L224.9,537.8L218.1,536.6L209.5,539.5L198.1,536.0L189.6,531.8L178.2,525.9L169.7,522.9L161.2,516.9L158.3,510.8L159.5,504.7L155.5,495.5L146.9,486.2L138.4,478.6L135.6,470.4L129.9,465.3L121.3,457.5L115.7,444.4L106.0,439.0L105.4,444.4L110.0,454.2L116.8,464.0L121.3,473.6L127.0,483.0L131.0,488.0L135.6,494.3L132.7,496.1L124.2,487.4L120.2,478.0L112.8,471.7L107.1,465.3L110.0,460.7L104.3,452.9L98.6,445.7L92.9,434.3L91.2,429.6L84.9,425.5L81.5,423.4L73.0,420.7L70.1,413.0L64.5,404.6L61.6,397.4L58.8,392.4L54.2,385.0L51.4,378.4L53.1,366.3L50.2,358.5L53.1,342.7L53.1,332.1L49.1,315.4L58.8,316.2L61.6,322.1L59.9,309.3L55.9,305.0L48.5,298.8L36.0,291.6L31.5,279.7L24.6,268.4L17.2,258.7L10.4,248.8L1.9,238.6L-3.8,222.8L-18.0,219.6L-37.9,203.0L-66.4,200.7L-66.4,67.7Z M57.1,314.5L44.5,311.1L28.6,294.3L36.0,293.4L47.4,300.6L55.9,311.1Z M13.3,280.6L1.9,263.6L9.3,262.6L10.4,273.1Z M44.5,29.4L55.9,45.5L73.0,38.4L90.1,10.4L101.4,4.6L92.9,-13.7L70.1,-20.1L50.2,-15.8L47.4,10.4Z M87.2,64.3L95.7,80.6L112.8,88.4L132.7,86.9L161.2,88.4L178.2,80.6L183.9,67.7L175.4,59.3L164.0,50.8L164.0,38.4L158.3,14.3L144.1,6.5L132.7,12.4L121.3,20.0L104.3,10.4L87.2,18.1L81.5,34.8L90.1,42.0L101.4,54.2L92.9,61.0Z M195.3,72.6L206.7,66.0L214.1,77.4L209.5,88.4L198.1,83.8Z M189.6,33.0L178.2,14.3L189.6,-5.5L206.7,0.6L209.5,20.0L201.0,40.2Z M215.2,25.7L226.6,29.4L235.1,10.4L243.7,-5.5L218.1,-9.6L213.5,10.4Z M383.0,178.5L389.9,171.2L388.7,164.9L394.4,156.1L397.3,145.6L408.6,118.2L405.8,111.0L391.6,99.1L377.3,80.6L371.7,64.3L357.4,50.8L348.9,38.4L331.8,25.7L314.8,12.4L300.5,-3.5L274.9,-5.5L249.3,0.6L246.5,29.4L252.2,50.8L263.6,64.3L274.9,64.3L292.0,64.3L309.1,64.3L317.6,72.6L326.1,80.6L334.7,96.1L343.2,106.6L340.4,125.3L337.5,139.0L317.6,145.6L314.8,148.3L320.5,156.1L337.5,149.6L348.9,158.6L360.3,167.4L371.7,173.6Z M263.6,134.9L277.8,125.3L283.5,132.2L297.7,145.6L300.5,156.1L286.3,161.2L272.1,162.4L263.6,156.1L269.3,143.0Z M421.1,321.3L428.5,313.6L431.4,300.6L435.4,288.9L442.8,286.2L441.1,296.1L437.1,300.6L442.8,302.3L454.1,306.7L457.0,313.6L458.7,322.1L454.1,329.7L445.6,327.2L439.9,321.3L431.4,321.3Z M391.6,301.5L405.8,305.8L406.9,308.5L397.3,306.7Z M434.2,-9.6L439.9,14.3L446.7,38.4L448.5,55.9L468.4,64.3L468.4,80.6L454.1,103.6L453.0,125.3L462.7,149.6L468.4,164.9L476.9,179.7L485.4,191.5L499.7,200.7L508.2,201.9L513.9,198.5L516.7,183.3L522.4,164.9L529.2,145.6L542.3,130.8L553.7,126.6L570.8,111.0L593.5,93.1L610.6,86.9L630.5,64.3L622.0,54.2L633.3,50.8L633.3,38.4L627.7,20.0L633.3,0.6L644.7,-20.1L644.7,-164.1L417.2,-164.1L428.5,-30.9Z M446.7,75.8L457.0,75.8L463.8,69.3L457.0,59.3L446.7,61.0Z M619.1,132.2L630.5,119.6L644.7,123.9L656.1,122.4L667.5,118.2L676.0,125.3L681.7,139.0L673.2,148.3L653.3,159.9L639.0,154.8L629.4,154.8L633.3,145.6L622.0,140.3L633.3,133.5Z M275.5,502.3L286.3,495.5L297.7,494.9L309.1,499.2L320.5,504.1L329.0,509.6L336.4,512.6L331.8,514.4L317.6,514.4L319.3,510.2L311.9,505.9L300.5,501.7L292.0,499.2L283.5,501.7Z M335.2,523.5L343.2,514.4L350.6,515.0L360.3,515.7L368.8,522.3L363.1,523.5L354.6,525.9L351.7,527.7L346.1,524.7L340.4,524.7Z M313.1,524.1L320.5,522.9L325.0,525.9L319.3,527.1Z M376.2,523.5L384.7,523.5L384.2,525.9L376.2,525.9Z M406.9,568.8L411.5,568.2L411.5,572.2L406.9,572.2Z M724.9,411.6L747.1,416.5L758.5,411.6L767.0,406.7L775.6,403.9L786.9,404.6L801.2,403.1L814.3,401.0L817.1,404.6L821.1,403.1L818.2,413.7L821.1,424.1L815.4,425.5L823.9,430.3L832.5,431.6L845.0,435.7L849.5,442.4L860.9,447.7L869.4,447.7L872.3,441.0L872.3,434.3L880.8,431.6L889.3,434.3L900.7,439.7L912.1,443.0L923.5,445.0L934.9,441.0L942.3,443.0L953.1,442.4L957.0,454.2L954.2,464.0L953.1,465.9L947.9,460.7L944.0,451.6L943.4,457.5L949.1,467.2L951.9,476.7L957.6,486.2L961.6,495.5L967.9,501.7L970.1,510.8L970.7,519.9L977.5,525.9L983.2,540.7L991.7,546.6L1000.3,555.4L1004.8,558.3L1003.1,564.1L1008.8,569.9L1017.3,569.9L1025.9,567.0L1037.3,565.3L1049.8,561.8L1048.6,569.9L1045.8,578.6L1040.1,590.1L1034.4,601.5L1025.9,612.9L1017.3,618.6L1008.8,624.3L1000.3,632.8L994.6,640.2L988.9,645.4L984.9,653.9L981.5,661.3L980.4,667.1L983.2,672.8L983.2,681.4L987.8,690.1L989.5,701.7L990.0,713.4L986.1,722.2L977.5,729.4L969.0,734.1L963.3,740.1L957.6,746.2L959.3,755.3L960.5,767.6L954.8,775.7L946.2,780.1L945.1,789.6L943.4,799.3L937.7,805.8L932.0,815.6L923.5,825.7L912.1,835.9L872.3,842.8L860.9,835.9L860.9,825.7L856.9,815.6L854.1,802.5L846.7,792.8L843.8,786.4L841.0,770.7L840.4,761.4L835.3,752.2L829.6,740.1L825.6,734.1L825.6,725.2L828.5,716.3L835.3,701.7L837.0,693.0L833.6,681.4L829.6,667.1L826.8,658.5L821.1,652.8L812.5,644.2L809.7,635.7L811.4,627.2L813.7,618.6L814.3,610.1L808.6,604.4L798.3,605.5L789.8,601.5L784.1,594.7L772.7,594.1L764.2,595.8L752.8,600.4L744.3,602.1L735.7,600.4L724.4,602.7L715.8,604.9L707.3,601.5L698.8,594.1L693.1,590.7L687.4,587.2L682.8,581.5L680.6,575.7L674.9,568.8L672.0,565.9L664.6,559.5L662.9,553.6L658.9,545.4L664.6,537.8L665.8,525.9L666.3,518.1L661.8,508.4L662.4,503.5L668.0,492.4L674.3,483.0L681.7,469.1L685.7,464.0L694.2,458.8L701.6,452.3L703.3,444.4L705.6,434.3L713.0,427.5L719.8,422.7Z M1039.0,698.8L1044.7,716.3L1041.8,725.2L1040.1,734.1L1036.1,749.2L1030.4,764.5L1025.9,777.0L1017.3,780.1L1008.8,775.7L1004.8,761.4L1010.5,746.2L1008.8,731.1L1013.4,723.4L1023.0,719.3L1031.6,710.4L1036.1,701.7Z M726.6,410.2L722.7,404.6L716.4,401.7L707.9,403.1L708.4,392.4L704.5,390.2L707.3,381.3L709.0,370.1L707.9,362.4L705.6,357.8L713.0,352.3L724.4,353.8L738.6,354.6L748.3,355.4L751.1,346.7L751.7,336.2L751.1,333.0L746.0,324.7L741.4,321.3L732.9,318.8L731.8,313.6L741.4,311.1L749.4,311.9L748.8,304.1L751.7,305.8L759.1,305.0L767.0,298.8L767.6,292.5L772.7,290.7L778.4,287.1L782.4,280.6L785.8,273.1L789.8,270.3L798.3,268.4L806.9,266.5L808.6,261.6L807.4,253.8L804.6,247.8L805.1,235.5L806.9,232.4L814.3,228.2L818.2,226.0L817.1,236.5L819.9,240.7L815.4,248.8L813.7,253.8L815.4,258.7L821.1,263.6L826.8,261.6L835.3,259.7L839.9,264.5L849.5,260.7L860.9,255.8L864.9,259.7L871.1,259.7L872.3,254.8L878.0,250.8L878.0,235.5L881.9,227.1L887.1,226.0L891.1,233.4L896.2,231.3L897.3,219.6L892.2,215.2L892.2,209.7L900.7,206.4L912.1,206.4L920.6,204.1L930.3,201.9L923.5,198.5L917.8,195.0L906.4,196.2L897.9,200.7L888.2,201.9L880.8,193.8L879.7,179.7L879.1,167.4L886.5,157.3L897.9,144.3L902.4,136.3L897.9,128.0L889.3,128.0L883.7,132.2L879.7,143.0L875.1,154.8L863.7,166.2L857.5,177.3L856.3,191.5L864.9,200.7L866.0,207.5L858.1,215.2L852.9,225.0L851.8,237.6L848.4,242.7L841.0,243.7L839.9,248.8L832.5,249.8L830.7,241.7L827.9,231.3L825.1,222.8L822.2,211.9L818.2,207.5L812.5,214.2L804.0,221.8L797.2,221.8L790.4,213.1L787.5,200.7L786.9,189.2L788.1,177.3L795.5,167.4L804.0,158.6L814.3,154.8L819.9,145.6L826.8,132.2L832.5,118.2L838.1,106.6L843.8,96.1L849.5,86.9L858.1,75.8L866.6,66.0L878.0,61.0L889.3,52.5L900.7,47.3L912.1,45.5L920.6,50.8L929.2,55.9L934.9,59.3L932.0,67.7L940.5,67.7L949.1,74.2L963.3,77.4L974.7,88.4L986.1,99.1L992.9,112.4L986.1,122.4L974.7,123.9L957.6,118.2L946.2,113.9L943.4,109.5L951.9,122.4L956.5,139.0L957.6,148.3L967.9,153.5L974.7,149.6L971.8,139.0L984.9,132.2L988.9,144.3L991.7,128.0L997.4,119.6L1008.8,121.0L1010.5,103.6L1007.7,91.5L1008.8,88.4L1020.2,99.1L1023.0,112.4L1031.6,102.1L1042.9,94.6L1060.0,88.4L1065.7,91.5L1071.4,88.4L1082.8,86.9L1094.1,82.2L1102.7,67.7L1116.9,70.9L1134.0,83.8L1145.3,91.5L1139.7,72.6L1138.5,47.3L1148.2,20.0L1156.7,10.4L1159.6,4.6L1168.1,20.0L1172.7,47.3L1170.9,80.6L1176.6,103.6L1162.4,118.2L1179.5,99.1L1182.3,80.6L1176.6,55.9L1179.5,29.4L1185.2,14.3L1196.5,23.8L1202.2,29.4L1216.5,29.4L1225.0,47.3L1230.7,61.0L1233.5,38.4L1219.3,20.0L1216.5,0.6L1247.7,-20.1L1327.4,-78.0L1401.3,-9.6L1384.3,-3.5L1367.2,6.5L1384.3,4.6L1401.3,-1.4L1407.0,0.6L1441.2,10.4L1463.9,-3.5L1481.0,0.6L1492.4,29.4L1495.2,47.3L1509.4,38.4L1526.5,36.6L1537.9,40.2L1554.9,20.0L1583.4,20.0L1611.8,64.3L1611.8,206.4L1572.0,208.6L1554.9,225.0L1543.6,238.6L1537.9,258.7L1540.7,265.5L1552.1,261.6L1562.3,271.2L1561.8,282.5L1557.8,296.1L1556.7,313.6L1546.4,330.5L1532.2,346.7L1515.1,360.1L1503.7,362.4L1500.9,364.0L1495.2,373.8L1486.7,381.3L1483.8,385.0L1489.5,392.4L1494.6,403.1L1494.1,413.7L1489.5,418.6L1478.1,421.4L1477.0,413.7L1478.7,403.1L1469.6,397.4L1471.3,390.9L1466.8,382.8L1455.4,385.0L1448.6,389.4L1452.5,377.6L1446.9,374.6L1438.3,385.0L1429.8,387.2L1428.1,392.4L1435.5,401.0L1444.0,397.4L1455.4,400.3L1454.3,404.6L1444.0,410.2L1437.2,417.2L1442.9,424.1L1446.9,434.3L1451.4,441.0L1449.7,447.7L1452.5,452.3L1449.7,460.7L1444.0,467.2L1439.5,476.7L1432.6,484.3L1424.1,492.4L1415.6,496.7L1407.0,499.2L1401.3,501.7L1392.8,504.7L1387.1,506.5L1385.4,512.0L1383.1,504.7L1375.7,503.5L1367.2,507.8L1364.4,513.8L1360.4,519.9L1364.4,527.7L1370.1,534.8L1375.7,540.7L1379.7,549.6L1380.3,558.3L1378.6,564.1L1370.1,569.9L1365.5,572.8L1364.4,576.9L1355.8,580.3L1355.3,572.8L1347.3,569.4L1343.3,563.0L1338.8,559.5L1333.1,557.2L1330.2,552.5L1327.4,553.6L1326.3,561.2L1323.4,569.9L1323.4,576.9L1328.5,581.5L1330.2,588.4L1335.9,591.2L1341.6,595.8L1346.2,601.5L1347.3,607.2L1347.3,614.1L1351.3,621.5L1347.3,622.6L1338.8,616.9L1334.8,612.9L1331.4,607.2L1329.1,598.7L1329.1,592.9L1325.7,590.1L1320.0,584.3L1317.7,578.6L1319.4,569.9L1319.4,561.2L1317.1,549.6L1314.3,540.7L1313.7,534.8L1309.2,531.8L1301.2,539.0L1295.0,537.8L1296.1,528.9L1295.0,521.1L1290.4,515.0L1283.6,507.8L1280.7,499.8L1273.3,498.6L1264.8,502.9L1253.4,504.7L1252.3,510.8L1242.1,516.3L1233.5,525.9L1226.7,533.0L1215.3,540.7L1214.2,552.5L1213.0,561.2L1212.5,571.1L1207.9,576.9L1203.4,579.2L1199.4,583.8L1193.7,578.6L1190.9,569.9L1186.3,561.2L1182.3,549.6L1176.6,537.8L1173.8,525.9L1172.7,516.9L1172.1,507.8L1169.8,502.9L1168.1,506.5L1161.3,509.6L1152.2,501.7L1156.7,497.3L1149.9,494.3L1142.5,489.9L1139.7,484.3L1136.8,480.5L1125.4,481.8L1108.4,482.4L1094.1,480.5L1084.5,478.0L1081.6,470.4L1069.7,473.6L1057.2,467.2L1048.6,458.8L1044.1,451.0L1037.3,448.3L1031.6,451.0L1034.4,460.7L1040.1,469.1L1044.1,473.6L1047.5,479.9L1049.8,476.1L1052.0,483.0L1051.5,487.4L1057.2,488.0L1065.7,488.0L1074.2,480.5L1078.8,474.8L1079.9,483.0L1082.8,489.3L1091.3,491.8L1098.7,498.6L1094.1,507.8L1088.5,511.4L1086.7,519.9L1079.9,525.9L1071.4,531.8L1060.0,534.8L1054.3,540.1L1040.1,545.4L1028.7,551.9L1014.5,556.6L1006.0,557.2L1004.3,553.6L1002.0,544.9L1001.4,536.0L994.6,525.9L988.9,516.9L981.5,505.9L977.5,495.5L970.7,486.2L966.1,476.7L957.6,464.0L957.6,454.2L953.6,442.4L957.0,434.3L958.7,427.5L962.2,417.2L963.3,410.2L964.4,405.3L957.6,405.3L951.9,408.1L943.4,409.5L934.9,404.6L932.0,408.1L923.5,406.7L917.8,404.6L913.8,403.1L913.8,396.0L909.3,392.4L911.0,385.0L907.5,381.3L906.4,376.9L909.3,374.6L900.7,374.6L895.0,376.1L893.3,379.8L895.0,381.3L889.3,379.1L887.6,377.6L887.1,385.0L890.5,388.7L889.3,393.8L895.0,396.0L895.0,398.1L889.3,397.4L890.5,401.0L888.2,406.7L885.4,406.7L881.9,404.6L879.1,397.4L880.8,393.8L876.8,390.2L873.4,385.0L869.4,379.1L868.9,370.1L866.6,364.7L860.9,360.9L852.4,354.6L846.7,350.7L843.8,344.3L839.9,340.3L836.4,342.7L836.4,337.1L828.5,340.3L829.0,348.3L835.3,353.8L838.1,362.4L843.8,367.0L849.5,367.0L849.5,370.8L858.1,375.4L863.7,379.8L862.6,382.8L855.2,377.6L852.9,383.6L855.8,388.7L852.4,392.4L849.5,396.7L847.8,394.5L849.5,388.7L846.7,381.3L841.0,376.9L835.3,372.3L828.5,368.5L821.1,363.2L818.2,358.5L816.5,351.5L808.6,347.5L804.0,351.5L801.2,352.3L795.5,357.8L788.1,356.2L781.3,354.6L776.1,358.5L776.7,364.7L771.0,371.6L763.1,375.4L757.4,384.3L759.6,390.2L755.1,396.0L753.9,398.9L747.1,404.6L733.5,405.3L728.3,409.5Z M726.1,299.7L738.6,297.9L747.1,295.2L758.5,293.4L766.5,289.8L763.1,287.1L768.2,276.9L760.2,273.1L758.5,267.4L757.4,261.6L751.1,255.8L749.4,248.8L744.3,243.7L742.6,239.6L747.1,233.4L748.3,227.1L738.6,226.0L735.7,225.0L740.3,217.4L730.1,216.3L727.2,225.0L725.5,235.5L726.6,245.8L730.6,253.8L731.2,256.7L738.6,254.8L741.4,263.6L740.3,270.3L732.9,270.3L734.0,275.0L734.6,280.6L728.9,284.3L735.7,287.1L741.4,288.9L734.0,290.7L728.9,297.9Z M724.4,280.6L723.2,270.3L724.4,263.6L727.2,258.7L723.2,251.8L715.8,250.8L710.1,255.8L710.1,260.7L701.6,261.6L702.7,269.3L707.3,272.2L702.7,277.8L699.9,282.5L702.7,287.1L711.3,284.3L718.7,281.6Z M829.0,396.0L835.3,394.5L847.2,393.8L845.0,403.1L839.9,404.6L829.6,398.9Z M805.1,374.6L810.8,372.3L814.3,377.6L813.1,387.2L808.6,389.4L806.3,385.0Z M807.4,363.2L812.0,358.5L812.5,366.3L810.8,370.8L808.0,368.5Z M892.2,413.0L900.7,414.4L908.1,415.8L900.7,417.9L892.8,415.8Z M942.3,417.2L946.2,414.4L955.3,412.3L951.9,417.2L946.2,420.0Z M820.5,246.8L830.2,242.7L829.6,251.8L822.2,253.8Z M862.0,233.4L866.6,223.9L865.5,230.3Z M1051.5,38.4L1060.0,49.0L1074.2,54.2L1086.2,52.5L1079.9,38.4L1074.2,20.0L1077.1,4.6L1088.5,-13.7L1099.8,-42.1L1071.4,-42.1L1062.9,4.6L1057.2,23.8Z M1033.3,80.6L1040.1,72.6L1044.7,79.0L1038.4,85.3Z M1499.2,427.5L1498.1,434.3L1500.9,443.0L1505.5,441.0L1509.4,430.9L1503.7,425.5L1503.7,422.0L1512.3,422.0L1520.8,420.0L1527.6,420.0L1527.6,427.5L1532.2,427.5L1537.3,420.7L1544.7,420.0L1548.1,417.2L1553.8,417.2L1556.1,415.8L1559.5,411.6L1558.4,404.6L1560.6,396.0L1564.6,388.7L1566.3,381.3L1562.9,370.8L1557.8,373.8L1554.9,381.3L1553.8,388.7L1551.0,396.0L1546.4,401.0L1539.6,399.6L1536.7,404.6L1532.2,410.2L1529.3,413.7L1520.8,413.7L1513.4,414.4L1506.6,420.0L1503.2,423.4Z M1511.1,427.5L1518.0,422.7L1524.2,422.7L1522.5,426.8L1516.3,430.9L1513.4,432.3Z M1556.1,370.1L1560.6,367.8L1561.8,362.4L1572.0,366.3L1583.4,357.0L1583.4,350.7L1572.0,346.7L1565.2,339.5L1564.0,350.7L1562.3,357.0L1556.7,360.1L1553.8,366.3Z M1566.3,334.6L1574.9,330.5L1572.0,309.3L1577.7,305.0L1572.0,282.5L1572.0,261.6L1566.3,268.4L1565.2,291.6L1566.3,313.6Z M1446.9,481.8L1452.5,483.0L1449.7,492.4L1445.7,501.7L1441.7,495.5L1445.7,486.2Z M1376.9,518.1L1382.0,513.2L1389.4,513.8L1390.0,516.3L1384.3,523.5L1376.9,522.9Z M1213.0,574.6L1215.3,575.7L1220.4,581.5L1223.9,588.4L1222.1,593.5L1216.5,596.4L1213.0,592.9L1212.5,584.3Z M1444.0,522.9L1453.7,523.5L1454.3,531.8L1449.7,537.8L1451.4,546.6L1455.4,548.4L1463.9,555.4L1463.9,557.7L1459.4,554.2L1453.7,551.3L1446.9,551.3L1444.6,546.6L1442.3,543.7L1440.6,536.6L1443.4,528.9Z M1452.5,590.1L1461.1,580.9L1472.5,574.0L1477.0,581.5L1477.0,592.9L1472.5,597.5L1463.9,592.9L1455.4,587.2Z M1452.5,562.4L1459.4,564.1L1458.2,572.8L1454.3,575.7L1452.5,569.9Z M1465.6,558.3L1472.5,559.5L1472.5,567.0L1469.6,571.7L1466.8,567.0Z M1443.4,553.1L1449.1,553.6L1448.6,559.5L1445.7,558.9Z M1425.2,582.0L1432.6,575.7L1438.3,565.9L1436.6,571.7L1429.8,579.7Z M1378.6,621.5L1382.0,618.6L1390.0,621.5L1391.7,615.2L1401.3,611.8L1407.0,603.8L1415.6,598.7L1422.4,590.1L1428.1,594.7L1435.5,600.4L1429.8,605.5L1428.1,612.9L1434.3,624.3L1428.7,626.0L1426.9,632.8L1421.3,638.5L1420.1,647.1L1418.4,652.2L1410.4,652.8L1401.3,648.2L1394.5,649.4L1385.4,645.9L1384.3,638.5L1378.6,632.8L1378.6,625.4Z M1300.7,598.1L1313.2,600.4L1318.9,608.4L1329.1,615.8L1335.9,620.3L1344.5,626.0L1349.0,632.8L1353.0,640.2L1361.5,647.1L1360.4,663.1L1353.0,663.1L1344.5,657.3L1335.9,648.8L1330.2,640.2L1324.5,631.7L1320.6,621.5L1313.2,614.6L1304.6,607.2Z M1357.0,668.8L1364.4,664.2L1375.7,667.6L1388.8,666.5L1399.1,669.3L1409.9,673.9L1409.3,679.7L1395.7,678.0L1381.4,674.5L1364.4,672.2Z M1439.5,625.4L1445.7,622.6L1458.2,624.9L1469.6,620.9L1466.8,627.7L1458.2,627.7L1446.9,627.7L1442.3,634.6L1448.6,635.7L1459.9,635.1L1452.5,640.2L1449.7,645.9L1454.3,649.9L1457.1,655.6L1450.8,657.3L1446.9,648.8L1443.4,647.1L1443.4,661.3L1438.3,661.3L1438.3,649.9L1434.3,645.9L1437.2,637.4Z M1412.7,676.8L1422.4,677.4L1435.5,677.4L1435.5,680.3L1424.1,681.4L1413.9,680.3Z M1440.0,678.0L1457.1,676.8L1458.2,679.1L1441.2,680.8Z M1461.1,688.9L1469.6,681.4L1482.1,678.0L1478.1,682.6L1466.8,688.3Z M1435.5,684.9L1445.7,686.6L1441.2,688.9Z M1483.8,618.6L1489.5,621.5L1489.5,634.6L1485.0,630.0Z M1486.7,647.1L1502.6,648.2L1498.1,651.1L1486.7,649.9Z M1475.3,648.2L1482.1,648.8L1479.9,651.6L1475.3,650.5Z M1503.7,634.6L1512.3,632.3L1520.8,634.6L1521.9,643.1L1526.5,648.8L1535.0,642.5L1540.7,638.5L1552.1,642.5L1560.6,644.8L1583.4,652.8L1589.1,681.4L1572.0,682.6L1560.6,682.0L1552.1,676.2L1543.6,677.4L1548.1,669.9L1543.6,661.3L1532.2,656.2L1523.7,652.8L1515.1,652.8L1514.0,647.1L1520.8,644.8L1516.8,642.5L1509.4,642.5L1503.7,638.0Z M1405.3,786.4L1404.2,773.8L1405.3,761.4L1408.2,757.1L1418.4,751.0L1429.8,748.0L1438.3,746.2L1446.9,743.1L1454.3,734.1L1453.7,728.2L1461.1,729.9L1461.6,724.0L1469.6,718.1L1475.3,710.4L1483.8,710.4L1488.4,715.7L1495.2,715.7L1496.9,707.5L1502.6,701.1L1509.4,695.3L1513.4,695.9L1518.0,697.6L1526.5,699.9L1536.7,698.8L1535.0,707.5L1531.1,716.3L1537.9,721.0L1549.3,728.2L1557.8,731.7L1563.5,716.3L1564.6,703.4L1567.5,693.0L1570.3,691.8L1589.1,734.1L1611.8,764.5L1611.8,864.0L1418.4,864.0L1416.7,822.3L1412.7,812.3L1407.0,796.0Z" fill="#111" stroke="#5a5a5a" stroke-width="6" stroke-linejoin="round"/>
<path d="M-43.6,70.9L-15.2,82.2L-1.0,74.2L24.6,64.3L47.4,74.2L70.1,67.7L90.1,82.2L104.3,97.6L132.7,97.6L144.1,111.0L149.8,97.6L172.5,96.1L201.0,99.1L212.4,93.1L209.5,61.0L218.1,31.2L235.1,55.9L240.8,72.6L246.5,88.4L255.0,103.6L269.3,96.1L274.9,67.7L294.9,77.4L296.0,88.4L292.0,99.1L295.4,111.0L283.5,121.0L272.1,121.0L263.6,134.9L255.0,152.2L240.8,158.6L232.3,171.2L223.2,188.0L220.9,200.7L222.6,214.2L232.3,233.4L252.2,235.5L260.2,243.7L274.9,250.8L290.3,251.8L290.9,273.1L294.9,280.6L300.5,288.9L307.4,287.1L310.2,277.8L309.1,263.6L306.2,256.7L315.9,250.8L323.3,238.6L322.2,226.0L313.6,215.2L318.7,200.7L314.8,189.2L315.3,172.4L331.8,174.8L348.9,183.3L360.3,189.2L363.1,200.7L363.1,211.9L369.4,221.8L383.0,214.2L388.7,197.3L392.1,196.2L402.9,217.4L408.6,233.4L415.5,248.8L428.5,255.8L434.2,266.5L441.1,277.8L434.2,288.0L422.9,297.9L405.8,298.8L388.7,298.8L377.3,305.8L366.0,313.6L354.6,327.2L363.1,319.6L377.3,309.3L392.7,310.2L391.6,317.9L381.3,317.9L388.7,326.3L391.6,333.0L397.3,335.4L408.6,337.1L415.5,327.2L418.3,334.6L411.5,340.3L397.3,346.7L385.9,354.6L381.9,350.7L391.6,340.3L383.0,341.9L377.3,344.3L368.8,348.3L360.3,353.1L356.3,360.9L360.3,366.3L360.3,369.3L353.5,370.1L346.1,372.3L338.7,375.4L337.5,379.1L335.8,385.0L331.8,390.2L330.7,396.0L326.1,403.1L327.9,410.2L329.0,415.8L323.3,420.0L315.9,424.1L309.1,428.2L303.4,434.3L297.7,441.0L295.4,447.7L297.7,457.5L300.5,462.7L303.4,471.7L302.3,479.9L297.7,482.4L293.1,476.7L287.5,465.3L288.0,457.5L281.8,451.0L274.9,452.9L266.4,448.3L257.9,449.0L249.3,449.6L251.1,456.8L243.7,456.2L235.1,453.6L223.7,453.6L218.1,457.5L209.5,462.7L204.4,470.4L205.5,477.4L202.7,489.3L202.1,499.8L205.0,509.0L210.7,518.1L218.1,522.3L223.7,524.7L235.1,522.3L240.8,519.9L243.7,509.0L246.5,506.5L257.9,504.1L263.6,504.7L264.7,510.8L260.7,516.9L259.0,524.7L256.2,528.9L253.3,537.8L257.9,539.0L269.3,538.4L277.8,539.0L284.6,543.7L283.5,552.5L282.9,561.2L281.8,567.0L286.3,572.8L292.0,578.6L297.7,579.7L303.4,577.4L309.1,575.7L314.8,577.4L318.7,580.9L321.6,584.3L326.1,576.9L329.0,569.9L333.0,566.5L343.2,564.7L350.6,558.9L352.9,562.4L350.0,567.0L351.7,567.6L359.1,564.1L360.3,560.1L368.8,565.9L370.5,569.9L383.0,569.4L391.6,571.7L400.1,568.8L406.4,568.8L402.9,572.8L411.5,575.7L414.3,581.5L422.9,584.3L431.4,594.1L445.6,596.4L454.1,598.7L462.7,602.7L468.4,607.2L474.1,619.8L474.1,627.2L471.2,630.0L482.6,634.0L485.4,634.0L496.8,635.7L505.3,641.4L508.2,645.4L519.6,645.9L530.9,645.9L539.5,651.1L548.0,657.3L557.7,659.6L559.4,667.1L560.5,675.7L556.5,684.3L548.0,693.0L539.5,704.6L536.6,713.4L536.6,725.2L533.8,734.1L530.9,745.0L526.4,755.3L520.7,763.3L511.0,764.5L502.5,768.8L494.0,772.0L485.4,778.8L482.0,786.4L481.5,798.0L474.1,807.7L465.5,819.0L459.8,825.7L454.1,835.9L428.5,864.0L348.9,864.0L340.4,856.9L346.1,835.9L351.7,822.3L351.7,809.0L352.9,796.0L357.4,780.1L358.6,764.5L359.1,746.2L358.6,735.9L351.7,729.9L340.4,724.0L330.7,718.1L324.4,710.4L319.3,699.9L313.1,687.2L307.9,675.7L303.4,667.1L296.6,664.2L296.0,655.6L301.7,649.4L303.4,644.8L298.3,642.5L300.5,635.1L303.4,630.0L303.4,625.4L310.2,621.5L311.9,615.8L317.6,614.6L318.7,607.2L317.6,598.7L318.7,591.2L315.3,588.9L313.6,582.6L306.2,578.6L301.7,582.6L303.4,587.2L297.7,588.4L293.7,584.3L286.9,583.2L282.3,580.9L276.7,575.1L270.4,572.8L271.0,567.0L263.6,556.6L259.6,554.2L252.2,553.1L243.7,550.1L234.0,546.6L224.9,537.8L218.1,536.6L209.5,539.5L198.1,536.0L189.6,531.8L178.2,525.9L169.7,522.9L161.2,516.9L158.3,510.8L159.5,504.7L155.5,495.5L146.9,486.2L138.4,478.6L135.6,470.4L129.9,465.3L121.3,457.5L115.7,444.4L106.0,439.0L105.4,444.4L110.0,454.2L116.8,464.0L121.3,473.6L127.0,483.0L131.0,488.0L135.6,494.3L132.7,496.1L124.2,487.4L120.2,478.0L112.8,471.7L107.1,465.3L110.0,460.7L104.3,452.9L98.6,445.7L92.9,434.3L91.2,429.6L84.9,425.5L81.5,423.4L73.0,420.7L70.1,413.0L64.5,404.6L61.6,397.4L58.8,392.4L54.2,385.0L51.4,378.4L53.1,366.3L50.2,358.5L53.1,342.7L53.1,332.1L49.1,315.4L58.8,316.2L61.6,322.1L59.9,309.3L55.9,305.0L48.5,298.8L36.0,291.6L31.5,279.7L24.6,268.4L17.2,258.7L10.4,248.8L1.9,238.6L-3.8,222.8L-18.0,219.6L-37.9,203.0L-66.4,200.7L-66.4,67.7Z M57.1,314.5L44.5,311.1L28.6,294.3L36.0,293.4L47.4,300.6L55.9,311.1Z M13.3,280.6L1.9,263.6L9.3,262.6L10.4,273.1Z M44.5,29.4L55.9,45.5L73.0,38.4L90.1,10.4L101.4,4.6L92.9,-13.7L70.1,-20.1L50.2,-15.8L47.4,10.4Z M87.2,64.3L95.7,80.6L112.8,88.4L132.7,86.9L161.2,88.4L178.2,80.6L183.9,67.7L175.4,59.3L164.0,50.8L164.0,38.4L158.3,14.3L144.1,6.5L132.7,12.4L121.3,20.0L104.3,10.4L87.2,18.1L81.5,34.8L90.1,42.0L101.4,54.2L92.9,61.0Z M195.3,72.6L206.7,66.0L214.1,77.4L209.5,88.4L198.1,83.8Z M189.6,33.0L178.2,14.3L189.6,-5.5L206.7,0.6L209.5,20.0L201.0,40.2Z M215.2,25.7L226.6,29.4L235.1,10.4L243.7,-5.5L218.1,-9.6L213.5,10.4Z M383.0,178.5L389.9,171.2L388.7,164.9L394.4,156.1L397.3,145.6L408.6,118.2L405.8,111.0L391.6,99.1L377.3,80.6L371.7,64.3L357.4,50.8L348.9,38.4L331.8,25.7L314.8,12.4L300.5,-3.5L274.9,-5.5L249.3,0.6L246.5,29.4L252.2,50.8L263.6,64.3L274.9,64.3L292.0,64.3L309.1,64.3L317.6,72.6L326.1,80.6L334.7,96.1L343.2,106.6L340.4,125.3L337.5,139.0L317.6,145.6L314.8,148.3L320.5,156.1L337.5,149.6L348.9,158.6L360.3,167.4L371.7,173.6Z M263.6,134.9L277.8,125.3L283.5,132.2L297.7,145.6L300.5,156.1L286.3,161.2L272.1,162.4L263.6,156.1L269.3,143.0Z M421.1,321.3L428.5,313.6L431.4,300.6L435.4,288.9L442.8,286.2L441.1,296.1L437.1,300.6L442.8,302.3L454.1,306.7L457.0,313.6L458.7,322.1L454.1,329.7L445.6,327.2L439.9,321.3L431.4,321.3Z M391.6,301.5L405.8,305.8L406.9,308.5L397.3,306.7Z M434.2,-9.6L439.9,14.3L446.7,38.4L448.5,55.9L468.4,64.3L468.4,80.6L454.1,103.6L453.0,125.3L462.7,149.6L468.4,164.9L476.9,179.7L485.4,191.5L499.7,200.7L508.2,201.9L513.9,198.5L516.7,183.3L522.4,164.9L529.2,145.6L542.3,130.8L553.7,126.6L570.8,111.0L593.5,93.1L610.6,86.9L630.5,64.3L622.0,54.2L633.3,50.8L633.3,38.4L627.7,20.0L633.3,0.6L644.7,-20.1L644.7,-164.1L417.2,-164.1L428.5,-30.9Z M446.7,75.8L457.0,75.8L463.8,69.3L457.0,59.3L446.7,61.0Z M619.1,132.2L630.5,119.6L644.7,123.9L656.1,122.4L667.5,118.2L676.0,125.3L681.7,139.0L673.2,148.3L653.3,159.9L639.0,154.8L629.4,154.8L633.3,145.6L622.0,140.3L633.3,133.5Z M275.5,502.3L286.3,495.5L297.7,494.9L309.1,499.2L320.5,504.1L329.0,509.6L336.4,512.6L331.8,514.4L317.6,514.4L319.3,510.2L311.9,505.9L300.5,501.7L292.0,499.2L283.5,501.7Z M335.2,523.5L343.2,514.4L350.6,515.0L360.3,515.7L368.8,522.3L363.1,523.5L354.6,525.9L351.7,527.7L346.1,524.7L340.4,524.7Z M313.1,524.1L320.5,522.9L325.0,525.9L319.3,527.1Z M376.2,523.5L384.7,523.5L384.2,525.9L376.2,525.9Z M406.9,568.8L411.5,568.2L411.5,572.2L406.9,572.2Z M724.9,411.6L747.1,416.5L758.5,411.6L767.0,406.7L775.6,403.9L786.9,404.6L801.2,403.1L814.3,401.0L817.1,404.6L821.1,403.1L818.2,413.7L821.1,424.1L815.4,425.5L823.9,430.3L832.5,431.6L845.0,435.7L849.5,442.4L860.9,447.7L869.4,447.7L872.3,441.0L872.3,434.3L880.8,431.6L889.3,434.3L900.7,439.7L912.1,443.0L923.5,445.0L934.9,441.0L942.3,443.0L953.1,442.4L957.0,454.2L954.2,464.0L953.1,465.9L947.9,460.7L944.0,451.6L943.4,457.5L949.1,467.2L951.9,476.7L957.6,486.2L961.6,495.5L967.9,501.7L970.1,510.8L970.7,519.9L977.5,525.9L983.2,540.7L991.7,546.6L1000.3,555.4L1004.8,558.3L1003.1,564.1L1008.8,569.9L1017.3,569.9L1025.9,567.0L1037.3,565.3L1049.8,561.8L1048.6,569.9L1045.8,578.6L1040.1,590.1L1034.4,601.5L1025.9,612.9L1017.3,618.6L1008.8,624.3L1000.3,632.8L994.6,640.2L988.9,645.4L984.9,653.9L981.5,661.3L980.4,667.1L983.2,672.8L983.2,681.4L987.8,690.1L989.5,701.7L990.0,713.4L986.1,722.2L977.5,729.4L969.0,734.1L963.3,740.1L957.6,746.2L959.3,755.3L960.5,767.6L954.8,775.7L946.2,780.1L945.1,789.6L943.4,799.3L937.7,805.8L932.0,815.6L923.5,825.7L912.1,835.9L872.3,842.8L860.9,835.9L860.9,825.7L856.9,815.6L854.1,802.5L846.7,792.8L843.8,786.4L841.0,770.7L840.4,761.4L835.3,752.2L829.6,740.1L825.6,734.1L825.6,725.2L828.5,716.3L835.3,701.7L837.0,693.0L833.6,681.4L829.6,667.1L826.8,658.5L821.1,652.8L812.5,644.2L809.7,635.7L811.4,627.2L813.7,618.6L814.3,610.1L808.6,604.4L798.3,605.5L789.8,601.5L784.1,594.7L772.7,594.1L764.2,595.8L752.8,600.4L744.3,602.1L735.7,600.4L724.4,602.7L715.8,604.9L707.3,601.5L698.8,594.1L693.1,590.7L687.4,587.2L682.8,581.5L680.6,575.7L674.9,568.8L672.0,565.9L664.6,559.5L662.9,553.6L658.9,545.4L664.6,537.8L665.8,525.9L666.3,518.1L661.8,508.4L662.4,503.5L668.0,492.4L674.3,483.0L681.7,469.1L685.7,464.0L694.2,458.8L701.6,452.3L703.3,444.4L705.6,434.3L713.0,427.5L719.8,422.7Z M1039.0,698.8L1044.7,716.3L1041.8,725.2L1040.1,734.1L1036.1,749.2L1030.4,764.5L1025.9,777.0L1017.3,780.1L1008.8,775.7L1004.8,761.4L1010.5,746.2L1008.8,731.1L1013.4,723.4L1023.0,719.3L1031.6,710.4L1036.1,701.7Z M726.6,410.2L722.7,404.6L716.4,401.7L707.9,403.1L708.4,392.4L704.5,390.2L707.3,381.3L709.0,370.1L707.9,362.4L705.6,357.8L713.0,352.3L724.4,353.8L738.6,354.6L748.3,355.4L751.1,346.7L751.7,336.2L751.1,333.0L746.0,324.7L741.4,321.3L732.9,318.8L731.8,313.6L741.4,311.1L749.4,311.9L748.8,304.1L751.7,305.8L759.1,305.0L767.0,298.8L767.6,292.5L772.7,290.7L778.4,287.1L782.4,280.6L785.8,273.1L789.8,270.3L798.3,268.4L806.9,266.5L808.6,261.6L807.4,253.8L804.6,247.8L805.1,235.5L806.9,232.4L814.3,228.2L818.2,226.0L817.1,236.5L819.9,240.7L815.4,248.8L813.7,253.8L815.4,258.7L821.1,263.6L826.8,261.6L835.3,259.7L839.9,264.5L849.5,260.7L860.9,255.8L864.9,259.7L871.1,259.7L872.3,254.8L878.0,250.8L878.0,235.5L881.9,227.1L887.1,226.0L891.1,233.4L896.2,231.3L897.3,219.6L892.2,215.2L892.2,209.7L900.7,206.4L912.1,206.4L920.6,204.1L930.3,201.9L923.5,198.5L917.8,195.0L906.4,196.2L897.9,200.7L888.2,201.9L880.8,193.8L879.7,179.7L879.1,167.4L886.5,157.3L897.9,144.3L902.4,136.3L897.9,128.0L889.3,128.0L883.7,132.2L879.7,143.0L875.1,154.8L863.7,166.2L857.5,177.3L856.3,191.5L864.9,200.7L866.0,207.5L858.1,215.2L852.9,225.0L851.8,237.6L848.4,242.7L841.0,243.7L839.9,248.8L832.5,249.8L830.7,241.7L827.9,231.3L825.1,222.8L822.2,211.9L818.2,207.5L812.5,214.2L804.0,221.8L797.2,221.8L790.4,213.1L787.5,200.7L786.9,189.2L788.1,177.3L795.5,167.4L804.0,158.6L814.3,154.8L819.9,145.6L826.8,132.2L832.5,118.2L838.1,106.6L843.8,96.1L849.5,86.9L858.1,75.8L866.6,66.0L878.0,61.0L889.3,52.5L900.7,47.3L912.1,45.5L920.6,50.8L929.2,55.9L934.9,59.3L932.0,67.7L940.5,67.7L949.1,74.2L963.3,77.4L974.7,88.4L986.1,99.1L992.9,112.4L986.1,122.4L974.7,123.9L957.6,118.2L946.2,113.9L943.4,109.5L951.9,122.4L956.5,139.0L957.6,148.3L967.9,153.5L974.7,149.6L971.8,139.0L984.9,132.2L988.9,144.3L991.7,128.0L997.4,119.6L1008.8,121.0L1010.5,103.6L1007.7,91.5L1008.8,88.4L1020.2,99.1L1023.0,112.4L1031.6,102.1L1042.9,94.6L1060.0,88.4L1065.7,91.5L1071.4,88.4L1082.8,86.9L1094.1,82.2L1102.7,67.7L1116.9,70.9L1134.0,83.8L1145.3,91.5L1139.7,72.6L1138.5,47.3L1148.2,20.0L1156.7,10.4L1159.6,4.6L1168.1,20.0L1172.7,47.3L1170.9,80.6L1176.6,103.6L1162.4,118.2L1179.5,99.1L1182.3,80.6L1176.6,55.9L1179.5,29.4L1185.2,14.3L1196.5,23.8L1202.2,29.4L1216.5,29.4L1225.0,47.3L1230.7,61.0L1233.5,38.4L1219.3,20.0L1216.5,0.6L1247.7,-20.1L1327.4,-78.0L1401.3,-9.6L1384.3,-3.5L1367.2,6.5L1384.3,4.6L1401.3,-1.4L1407.0,0.6L1441.2,10.4L1463.9,-3.5L1481.0,0.6L1492.4,29.4L1495.2,47.3L1509.4,38.4L1526.5,36.6L1537.9,40.2L1554.9,20.0L1583.4,20.0L1611.8,64.3L1611.8,206.4L1572.0,208.6L1554.9,225.0L1543.6,238.6L1537.9,258.7L1540.7,265.5L1552.1,261.6L1562.3,271.2L1561.8,282.5L1557.8,296.1L1556.7,313.6L1546.4,330.5L1532.2,346.7L1515.1,360.1L1503.7,362.4L1500.9,364.0L1495.2,373.8L1486.7,381.3L1483.8,385.0L1489.5,392.4L1494.6,403.1L1494.1,413.7L1489.5,418.6L1478.1,421.4L1477.0,413.7L1478.7,403.1L1469.6,397.4L1471.3,390.9L1466.8,382.8L1455.4,385.0L1448.6,389.4L1452.5,377.6L1446.9,374.6L1438.3,385.0L1429.8,387.2L1428.1,392.4L1435.5,401.0L1444.0,397.4L1455.4,400.3L1454.3,404.6L1444.0,410.2L1437.2,417.2L1442.9,424.1L1446.9,434.3L1451.4,441.0L1449.7,447.7L1452.5,452.3L1449.7,460.7L1444.0,467.2L1439.5,476.7L1432.6,484.3L1424.1,492.4L1415.6,496.7L1407.0,499.2L1401.3,501.7L1392.8,504.7L1387.1,506.5L1385.4,512.0L1383.1,504.7L1375.7,503.5L1367.2,507.8L1364.4,513.8L1360.4,519.9L1364.4,527.7L1370.1,534.8L1375.7,540.7L1379.7,549.6L1380.3,558.3L1378.6,564.1L1370.1,569.9L1365.5,572.8L1364.4,576.9L1355.8,580.3L1355.3,572.8L1347.3,569.4L1343.3,563.0L1338.8,559.5L1333.1,557.2L1330.2,552.5L1327.4,553.6L1326.3,561.2L1323.4,569.9L1323.4,576.9L1328.5,581.5L1330.2,588.4L1335.9,591.2L1341.6,595.8L1346.2,601.5L1347.3,607.2L1347.3,614.1L1351.3,621.5L1347.3,622.6L1338.8,616.9L1334.8,612.9L1331.4,607.2L1329.1,598.7L1329.1,592.9L1325.7,590.1L1320.0,584.3L1317.7,578.6L1319.4,569.9L1319.4,561.2L1317.1,549.6L1314.3,540.7L1313.7,534.8L1309.2,531.8L1301.2,539.0L1295.0,537.8L1296.1,528.9L1295.0,521.1L1290.4,515.0L1283.6,507.8L1280.7,499.8L1273.3,498.6L1264.8,502.9L1253.4,504.7L1252.3,510.8L1242.1,516.3L1233.5,525.9L1226.7,533.0L1215.3,540.7L1214.2,552.5L1213.0,561.2L1212.5,571.1L1207.9,576.9L1203.4,579.2L1199.4,583.8L1193.7,578.6L1190.9,569.9L1186.3,561.2L1182.3,549.6L1176.6,537.8L1173.8,525.9L1172.7,516.9L1172.1,507.8L1169.8,502.9L1168.1,506.5L1161.3,509.6L1152.2,501.7L1156.7,497.3L1149.9,494.3L1142.5,489.9L1139.7,484.3L1136.8,480.5L1125.4,481.8L1108.4,482.4L1094.1,480.5L1084.5,478.0L1081.6,470.4L1069.7,473.6L1057.2,467.2L1048.6,458.8L1044.1,451.0L1037.3,448.3L1031.6,451.0L1034.4,460.7L1040.1,469.1L1044.1,473.6L1047.5,479.9L1049.8,476.1L1052.0,483.0L1051.5,487.4L1057.2,488.0L1065.7,488.0L1074.2,480.5L1078.8,474.8L1079.9,483.0L1082.8,489.3L1091.3,491.8L1098.7,498.6L1094.1,507.8L1088.5,511.4L1086.7,519.9L1079.9,525.9L1071.4,531.8L1060.0,534.8L1054.3,540.1L1040.1,545.4L1028.7,551.9L1014.5,556.6L1006.0,557.2L1004.3,553.6L1002.0,544.9L1001.4,536.0L994.6,525.9L988.9,516.9L981.5,505.9L977.5,495.5L970.7,486.2L966.1,476.7L957.6,464.0L957.6,454.2L953.6,442.4L957.0,434.3L958.7,427.5L962.2,417.2L963.3,410.2L964.4,405.3L957.6,405.3L951.9,408.1L943.4,409.5L934.9,404.6L932.0,408.1L923.5,406.7L917.8,404.6L913.8,403.1L913.8,396.0L909.3,392.4L911.0,385.0L907.5,381.3L906.4,376.9L909.3,374.6L900.7,374.6L895.0,376.1L893.3,379.8L895.0,381.3L889.3,379.1L887.6,377.6L887.1,385.0L890.5,388.7L889.3,393.8L895.0,396.0L895.0,398.1L889.3,397.4L890.5,401.0L888.2,406.7L885.4,406.7L881.9,404.6L879.1,397.4L880.8,393.8L876.8,390.2L873.4,385.0L869.4,379.1L868.9,370.1L866.6,364.7L860.9,360.9L852.4,354.6L846.7,350.7L843.8,344.3L839.9,340.3L836.4,342.7L836.4,337.1L828.5,340.3L829.0,348.3L835.3,353.8L838.1,362.4L843.8,367.0L849.5,367.0L849.5,370.8L858.1,375.4L863.7,379.8L862.6,382.8L855.2,377.6L852.9,383.6L855.8,388.7L852.4,392.4L849.5,396.7L847.8,394.5L849.5,388.7L846.7,381.3L841.0,376.9L835.3,372.3L828.5,368.5L821.1,363.2L818.2,358.5L816.5,351.5L808.6,347.5L804.0,351.5L801.2,352.3L795.5,357.8L788.1,356.2L781.3,354.6L776.1,358.5L776.7,364.7L771.0,371.6L763.1,375.4L757.4,384.3L759.6,390.2L755.1,396.0L753.9,398.9L747.1,404.6L733.5,405.3L728.3,409.5Z M726.1,299.7L738.6,297.9L747.1,295.2L758.5,293.4L766.5,289.8L763.1,287.1L768.2,276.9L760.2,273.1L758.5,267.4L757.4,261.6L751.1,255.8L749.4,248.8L744.3,243.7L742.6,239.6L747.1,233.4L748.3,227.1L738.6,226.0L735.7,225.0L740.3,217.4L730.1,216.3L727.2,225.0L725.5,235.5L726.6,245.8L730.6,253.8L731.2,256.7L738.6,254.8L741.4,263.6L740.3,270.3L732.9,270.3L734.0,275.0L734.6,280.6L728.9,284.3L735.7,287.1L741.4,288.9L734.0,290.7L728.9,297.9Z M724.4,280.6L723.2,270.3L724.4,263.6L727.2,258.7L723.2,251.8L715.8,250.8L710.1,255.8L710.1,260.7L701.6,261.6L702.7,269.3L707.3,272.2L702.7,277.8L699.9,282.5L702.7,287.1L711.3,284.3L718.7,281.6Z M829.0,396.0L835.3,394.5L847.2,393.8L845.0,403.1L839.9,404.6L829.6,398.9Z M805.1,374.6L810.8,372.3L814.3,377.6L813.1,387.2L808.6,389.4L806.3,385.0Z M807.4,363.2L812.0,358.5L812.5,366.3L810.8,370.8L808.0,368.5Z M892.2,413.0L900.7,414.4L908.1,415.8L900.7,417.9L892.8,415.8Z M942.3,417.2L946.2,414.4L955.3,412.3L951.9,417.2L946.2,420.0Z M820.5,246.8L830.2,242.7L829.6,251.8L822.2,253.8Z M862.0,233.4L866.6,223.9L865.5,230.3Z M1051.5,38.4L1060.0,49.0L1074.2,54.2L1086.2,52.5L1079.9,38.4L1074.2,20.0L1077.1,4.6L1088.5,-13.7L1099.8,-42.1L1071.4,-42.1L1062.9,4.6L1057.2,23.8Z M1033.3,80.6L1040.1,72.6L1044.7,79.0L1038.4,85.3Z M1499.2,427.5L1498.1,434.3L1500.9,443.0L1505.5,441.0L1509.4,430.9L1503.7,425.5L1503.7,422.0L1512.3,422.0L1520.8,420.0L1527.6,420.0L1527.6,427.5L1532.2,427.5L1537.3,420.7L1544.7,420.0L1548.1,417.2L1553.8,417.2L1556.1,415.8L1559.5,411.6L1558.4,404.6L1560.6,396.0L1564.6,388.7L1566.3,381.3L1562.9,370.8L1557.8,373.8L1554.9,381.3L1553.8,388.7L1551.0,396.0L1546.4,401.0L1539.6,399.6L1536.7,404.6L1532.2,410.2L1529.3,413.7L1520.8,413.7L1513.4,414.4L1506.6,420.0L1503.2,423.4Z M1511.1,427.5L1518.0,422.7L1524.2,422.7L1522.5,426.8L1516.3,430.9L1513.4,432.3Z M1556.1,370.1L1560.6,367.8L1561.8,362.4L1572.0,366.3L1583.4,357.0L1583.4,350.7L1572.0,346.7L1565.2,339.5L1564.0,350.7L1562.3,357.0L1556.7,360.1L1553.8,366.3Z M1566.3,334.6L1574.9,330.5L1572.0,309.3L1577.7,305.0L1572.0,282.5L1572.0,261.6L1566.3,268.4L1565.2,291.6L1566.3,313.6Z M1446.9,481.8L1452.5,483.0L1449.7,492.4L1445.7,501.7L1441.7,495.5L1445.7,486.2Z M1376.9,518.1L1382.0,513.2L1389.4,513.8L1390.0,516.3L1384.3,523.5L1376.9,522.9Z M1213.0,574.6L1215.3,575.7L1220.4,581.5L1223.9,588.4L1222.1,593.5L1216.5,596.4L1213.0,592.9L1212.5,584.3Z M1444.0,522.9L1453.7,523.5L1454.3,531.8L1449.7,537.8L1451.4,546.6L1455.4,548.4L1463.9,555.4L1463.9,557.7L1459.4,554.2L1453.7,551.3L1446.9,551.3L1444.6,546.6L1442.3,543.7L1440.6,536.6L1443.4,528.9Z M1452.5,590.1L1461.1,580.9L1472.5,574.0L1477.0,581.5L1477.0,592.9L1472.5,597.5L1463.9,592.9L1455.4,587.2Z M1452.5,562.4L1459.4,564.1L1458.2,572.8L1454.3,575.7L1452.5,569.9Z M1465.6,558.3L1472.5,559.5L1472.5,567.0L1469.6,571.7L1466.8,567.0Z M1443.4,553.1L1449.1,553.6L1448.6,559.5L1445.7,558.9Z M1425.2,582.0L1432.6,575.7L1438.3,565.9L1436.6,571.7L1429.8,579.7Z M1378.6,621.5L1382.0,618.6L1390.0,621.5L1391.7,615.2L1401.3,611.8L1407.0,603.8L1415.6,598.7L1422.4,590.1L1428.1,594.7L1435.5,600.4L1429.8,605.5L1428.1,612.9L1434.3,624.3L1428.7,626.0L1426.9,632.8L1421.3,638.5L1420.1,647.1L1418.4,652.2L1410.4,652.8L1401.3,648.2L1394.5,649.4L1385.4,645.9L1384.3,638.5L1378.6,632.8L1378.6,625.4Z M1300.7,598.1L1313.2,600.4L1318.9,608.4L1329.1,615.8L1335.9,620.3L1344.5,626.0L1349.0,632.8L1353.0,640.2L1361.5,647.1L1360.4,663.1L1353.0,663.1L1344.5,657.3L1335.9,648.8L1330.2,640.2L1324.5,631.7L1320.6,621.5L1313.2,614.6L1304.6,607.2Z M1357.0,668.8L1364.4,664.2L1375.7,667.6L1388.8,666.5L1399.1,669.3L1409.9,673.9L1409.3,679.7L1395.7,678.0L1381.4,674.5L1364.4,672.2Z M1439.5,625.4L1445.7,622.6L1458.2,624.9L1469.6,620.9L1466.8,627.7L1458.2,627.7L1446.9,627.7L1442.3,634.6L1448.6,635.7L1459.9,635.1L1452.5,640.2L1449.7,645.9L1454.3,649.9L1457.1,655.6L1450.8,657.3L1446.9,648.8L1443.4,647.1L1443.4,661.3L1438.3,661.3L1438.3,649.9L1434.3,645.9L1437.2,637.4Z M1412.7,676.8L1422.4,677.4L1435.5,677.4L1435.5,680.3L1424.1,681.4L1413.9,680.3Z M1440.0,678.0L1457.1,676.8L1458.2,679.1L1441.2,680.8Z M1461.1,688.9L1469.6,681.4L1482.1,678.0L1478.1,682.6L1466.8,688.3Z M1435.5,684.9L1445.7,686.6L1441.2,688.9Z M1483.8,618.6L1489.5,621.5L1489.5,634.6L1485.0,630.0Z M1486.7,647.1L1502.6,648.2L1498.1,651.1L1486.7,649.9Z M1475.3,648.2L1482.1,648.8L1479.9,651.6L1475.3,650.5Z M1503.7,634.6L1512.3,632.3L1520.8,634.6L1521.9,643.1L1526.5,648.8L1535.0,642.5L1540.7,638.5L1552.1,642.5L1560.6,644.8L1583.4,652.8L1589.1,681.4L1572.0,682.6L1560.6,682.0L1552.1,676.2L1543.6,677.4L1548.1,669.9L1543.6,661.3L1532.2,656.2L1523.7,652.8L1515.1,652.8L1514.0,647.1L1520.8,644.8L1516.8,642.5L1509.4,642.5L1503.7,638.0Z M1405.3,786.4L1404.2,773.8L1405.3,761.4L1408.2,757.1L1418.4,751.0L1429.8,748.0L1438.3,746.2L1446.9,743.1L1454.3,734.1L1453.7,728.2L1461.1,729.9L1461.6,724.0L1469.6,718.1L1475.3,710.4L1483.8,710.4L1488.4,715.7L1495.2,715.7L1496.9,707.5L1502.6,701.1L1509.4,695.3L1513.4,695.9L1518.0,697.6L1526.5,699.9L1536.7,698.8L1535.0,707.5L1531.1,716.3L1537.9,721.0L1549.3,728.2L1557.8,731.7L1563.5,716.3L1564.6,703.4L1567.5,693.0L1570.3,691.8L1589.1,734.1L1611.8,764.5L1611.8,864.0L1418.4,864.0L1416.7,822.3L1412.7,812.3L1407.0,796.0Z" fill="#111"/>
<path d="M917.8,367.8L923.5,372.3L937.7,372.3L949.1,366.3L957.6,366.3L966.1,371.6L977.5,373.8L986.1,373.8L995.2,369.3L994.6,360.1L984.9,353.8L976.4,347.5L970.7,342.7L966.7,341.1L960.5,342.7L951.9,347.5L948.5,345.9L943.4,339.5L949.1,334.6L940.5,333.0L933.7,330.5L927.5,340.3L922.3,346.7L921.2,354.6L917.2,360.1Z M966.7,340.3L969.0,339.5L977.5,334.6L982.1,325.5L971.8,326.3L960.5,330.5L957.6,337.1Z M912.1,377.6L917.8,378.4L926.3,376.9L923.5,373.8L914.9,373.8Z M1040.1,399.6L1048.6,404.6L1062.9,403.9L1065.7,392.4L1060.0,381.3L1060.0,370.1L1057.2,362.4L1048.6,350.7L1051.5,342.7L1060.0,330.5L1048.6,326.3L1037.3,330.5L1028.7,338.7L1025.9,350.7L1030.4,360.1L1037.3,370.1L1041.8,379.1L1037.3,388.7L1037.3,396.0Z M1349.0,286.2L1355.8,286.2L1367.2,276.9L1378.6,265.5L1384.3,246.8L1378.6,247.8L1372.9,261.6L1361.5,274.1L1353.0,282.5Z M1176.6,337.9L1185.2,330.5L1196.5,329.7L1207.9,332.1L1207.9,328.8L1193.7,326.3L1182.3,328.0L1176.6,333.0Z M932.0,200.7L937.7,200.7L945.1,193.8L943.4,185.6L934.9,182.1L929.2,189.2Z M957.6,189.2L963.3,189.2L964.4,177.3L957.6,169.9L954.8,177.3Z M829.6,217.4L835.3,217.4L838.1,209.7L832.5,208.6Z M235.1,328.0L246.5,329.7L257.9,327.2L266.4,330.5L276.7,330.5L277.8,323.8L272.1,317.9L266.4,311.9L255.0,311.1L249.3,317.9L243.7,321.3Z M259.0,366.3L266.4,366.3L268.1,354.6L272.1,342.7L274.9,336.2L269.3,335.4L263.6,338.7L257.9,345.9L260.2,354.6Z M277.8,334.6L283.5,334.6L292.0,334.6L300.5,338.7L303.4,344.3L294.9,346.7L293.7,356.2L289.2,358.5L283.5,352.3L284.6,342.7L277.8,337.1Z M284.6,368.5L292.0,370.8L300.5,366.3L309.1,360.9L306.2,359.3L297.7,360.9L289.2,364.7Z M304.5,356.2L314.8,356.2L323.3,354.6L324.4,349.9L317.6,350.7L307.4,353.1Z M47.4,122.4L61.6,134.9L81.5,139.0L87.2,125.3L84.4,113.9L73.0,111.0L61.6,119.6Z M92.9,189.2L104.3,191.5L112.8,185.6L121.3,177.3L135.6,168.7L135.6,166.2L124.2,169.9L111.1,173.6L101.4,177.3Z M195.3,265.5L203.8,265.5L210.7,291.6L207.8,297.0L206.7,287.1L198.1,277.8Z M124.2,216.3L138.4,211.9L152.6,208.6L152.6,206.4L135.6,206.4Z M175.4,238.6L181.1,238.6L181.1,222.8L175.4,225.0Z M939.4,632.8L943.4,628.3L951.9,628.9L953.1,635.7L949.1,644.2L940.5,644.2L938.8,638.5Z M924.6,649.9L928.0,655.6L933.7,678.5L932.0,680.3L924.6,664.2Z M951.9,684.9L955.3,690.1L957.6,707.5L955.3,712.2L953.1,698.8Z M350.0,568.2L353.5,567.6L354.6,574.0L351.7,577.4L348.9,574.0Z M360.3,718.7L364.8,719.9L367.1,724.6L362.6,723.4Z" fill="#515151"/>
<path d="M57.1,309.3L217.2,309.3L217.2,305.8L220.3,311.9L229.4,312.8L238.0,317.1L249.3,317.9L255.6,315.4L276.1,327.2L277.8,330.5L283.5,333.8L283.5,336.2L289.2,340.3L291.4,353.8L289.7,358.5L289.2,361.6L285.8,364.7L285.8,366.3L289.2,368.5L300.5,364.0L309.1,360.1L308.5,356.2L307.9,354.6L310.8,353.8L321.6,353.8L324.4,349.1L331.8,342.7L351.7,342.7L355.2,340.3L358.6,335.4L359.1,331.3L364.8,322.6L369.9,323.4L372.8,325.5L372.8,337.1L375.1,341.1L377.3,343.5 M92.3,434.3L106.0,433.0L105.4,434.3L127.0,442.4L143.0,442.4L143.0,439.0L152.6,439.0L161.2,446.3L164.0,453.6L171.4,457.5L175.4,452.3L181.6,452.3L187.9,462.0L192.5,467.2L194.7,474.2L205.5,477.4 M234.0,546.6L234.0,542.5L236.8,537.2L243.7,537.2L244.2,535.4L238.5,530.6L240.8,530.3L240.8,527.1L251.3,527.1 M256.2,522.9L251.3,527.1L251.1,538.4L252.8,538.4 M256.7,539.5L251.1,544.3L250.2,547.2L245.9,551.0 M250.2,547.2L255.0,550.1L259.0,553.1 M261.9,555.4L265.3,550.7L270.4,550.1L276.1,544.9L285.2,543.7 M271.0,566.5L275.5,567.0L282.3,567.6 M286.9,583.8L287.5,578.6L288.6,575.7 M315.3,588.9L318.7,584.9L318.7,580.9 M350.6,515.7L350.6,521.7L348.9,522.3L350.6,525.9 M352.9,562.4L347.2,566.5L343.2,576.9L346.6,582.0L346.6,587.8L359.7,590.1L363.7,595.2L374.5,594.7L372.8,604.4L375.6,610.6L372.2,614.1L376.2,616.9L377.9,623.2 M377.9,623.2L376.8,620.3L361.4,620.3L361.4,623.7L364.8,624.3L363.7,626.6L360.3,626.9L360.3,631.1L363.7,636.3L360.6,653.9 M360.6,653.9L356.3,651.6L360.0,645.4L351.7,642.5L343.2,643.1L335.8,635.1L330.1,630.6 M330.1,630.6L324.4,627.7L318.2,627.7L310.2,622.0 M330.1,630.6L329.0,638.5L322.7,644.8L313.6,649.4L312.5,656.2L309.1,658.5L305.7,655.6L301.1,655.1L301.7,649.4 M360.6,653.9L343.8,659.6L342.1,664.8L337.5,672.8L343.8,682.0L347.8,687.2L356.9,684.3L356.9,693.0L362.6,692.7 M362.6,692.7L367.7,701.7L366.0,708.7L364.3,716.3L364.8,723.4L362.6,729.9L363.1,731.1 M363.1,731.1L358.0,736.2 M362.6,692.7L368.2,693.5L379.6,686.6L386.4,685.4L387.0,695.9L392.1,701.1L400.1,702.3L405.8,706.4L411.5,707.5L415.5,714.0L416.0,724.0L426.3,724.0L426.8,729.9L431.4,735.3L429.7,740.1L427.4,745.0 M363.1,731.1L366.5,740.1L368.8,749.2L370.5,755.3L372.8,763.3 M372.8,763.3L376.2,763.3L381.9,757.1L391.6,759.6L392.7,763.3L401.2,758.3L402.4,759.9 M402.4,759.9L404.1,749.2L406.9,743.7L422.3,741.9L427.4,745.0 M427.4,745.0L429.1,750.4L429.1,759.0L439.9,760.2L441.6,761.4L442.8,770.1L449.6,770.7L447.9,780.1 M402.4,759.9L411.5,769.5L422.9,775.7L430.8,780.1L425.1,790.9L434.2,792.2L439.9,791.5L447.9,780.1 M447.9,780.1L452.4,784.5L453.0,790.3L441.6,798.0L430.8,810.4 M430.8,810.4L439.9,815.0L451.3,821.0L454.7,833.8 M430.8,810.4L427.4,825.7 M372.8,763.3L377.3,764.5L375.6,770.7L369.4,773.8L368.8,785.2L365.4,790.9L361.4,798.0L360.8,805.8L357.4,819.0L358.6,829.1 M377.9,623.2L385.9,625.4L394.4,619.2L394.4,615.8L397.8,617.5L393.3,606.7L401.2,607.2L406.9,606.1L413.2,600.4 M413.2,600.4L409.2,596.4L410.9,591.8L415.5,589.5L417.2,584.3L417.2,581.5 M413.2,600.4L417.2,601.5L418.3,604.9L420.0,607.8L417.2,614.6L419.4,619.8L423.4,622.6L428.5,621.5L432.5,618.9L437.1,619.2 M437.1,619.2L432.5,611.2L428.5,607.2L433.1,601.5L433.7,596.4 M437.1,619.2L440.5,618.6L445.6,615.2L448.5,616.9 M448.5,616.9L451.3,609.5L449.0,602.1L451.3,597.5 M448.5,616.9L452.4,616.9L457.6,617.5L460.4,612.4L464.4,606.1 M746.0,416.5L748.8,420.7L748.3,427.5L751.7,437.0L738.0,444.4L730.1,451.0L721.5,453.6L709.0,459.4L709.0,466.2 M709.0,466.2L683.4,466.2 M709.0,466.2L709.0,476.7L690.2,476.7L690.2,492.7L684.5,495.5L684.5,505.8L661.8,505.8 M709.0,468.5L731.0,483.0L765.3,507.2L765.3,509.6L776.7,515.0L776.7,519.9L782.7,519.0L791.5,517.5L801.2,508.4L826.8,492.4 M731.0,483.0L721.5,483.0L726.6,540.7L705.6,540.7L697.6,541.3L693.1,540.1L689.1,544.9 M664.6,537.2L673.2,534.2L678.9,535.4L684.5,540.7L689.1,544.9 M689.1,544.9L693.6,558.9 M662.9,551.9L673.2,550.7L680.0,553.1L673.2,554.2L662.9,554.8 M663.5,559.2L673.2,557.7L680.6,557.7L693.6,558.9 M680.6,557.7L680.6,563.0L673.2,567.6 M682.8,578.6L688.0,573.4L695.9,572.8L699.9,581.5L698.2,584.3L693.1,590.7 M699.9,581.5L705.0,587.8L710.1,586.6L713.0,581.5L711.3,572.8L713.0,571.7L723.2,568.8L727.2,570.5L731.8,574.6L742.9,575.7 M693.6,558.9L701.6,561.2L707.3,558.9L711.3,567.0L713.0,571.7 M710.1,586.6L710.7,593.5L715.8,596.9L715.8,604.9 M742.9,575.7L744.3,583.2L740.3,591.2L742.6,600.9 M742.9,575.7L742.6,567.0L758.5,566.5 M758.5,566.5L760.8,571.1L761.9,583.2L761.3,587.2L765.3,595.2 M763.6,567.0L767.6,578.6L767.6,594.7 M779.0,563.0L780.1,569.9L773.9,578.6L773.9,593.5 M727.2,570.5L727.2,562.4L733.5,557.2L735.7,553.1L741.4,551.3L747.1,548.4L754.5,543.4L759.6,543.7 M759.6,543.7L764.2,553.1L771.0,558.9L772.2,561.8 M758.5,566.5L763.6,567.0L772.2,561.8L779.0,563.0 M782.7,519.0L782.7,532.4L778.4,541.3L765.9,541.9L759.6,543.7 M779.0,563.0L781.8,552.5L797.2,554.8L808.0,556.0L815.4,553.6L829.6,554.8L835.9,551.3 M835.9,551.3L835.3,546.6L846.7,532.4L846.7,513.8L849.5,511.4L843.8,495.5 M826.8,492.4L839.3,498.6L843.8,495.5L895.0,516.9 M826.8,492.4L824.5,487.4L817.1,485.5L812.5,474.8L814.8,462.0L812.5,449.6 M812.5,449.6L810.3,437.0L801.2,425.5L805.7,417.2L805.1,406.7L807.4,403.9 M812.5,449.6L817.1,439.7L823.9,435.0L824.5,429.6 M900.7,440.4L900.7,501.7 M900.7,501.7L968.4,501.7 M900.7,501.7L900.7,513.8L895.0,513.8L895.0,516.9 M895.0,516.9L895.0,539.5L888.8,540.7L884.8,552.5L882.5,557.2L888.8,567.0 M888.8,567.0L881.9,569.4L866.6,578.6L860.9,584.3L852.4,586.1L846.7,587.2 M835.9,551.3L839.3,556.0L843.3,560.1L844.4,567.0L847.8,572.8L838.1,573.4L846.7,587.2 M839.3,558.9L833.6,572.8L826.8,584.3L822.8,591.8L815.4,590.7L807.4,602.7 M846.7,587.2L841.0,595.8L842.1,603.8L850.1,617.5 M814.3,616.9L822.8,617.5L834.2,617.5L850.1,617.5 M814.3,624.3L822.8,624.3L822.8,617.5 M834.2,617.5L833.6,622.6L839.9,622.0L841.0,632.8L840.4,640.8L832.5,643.7L824.5,643.7L829.0,649.9L822.2,652.2 M850.1,617.5L852.4,610.1L864.3,610.1 M864.3,610.1L863.7,604.9L869.4,600.9L885.9,606.7L892.2,603.2L902.4,601.5L914.4,600.9 M888.8,567.0L893.3,578.6L897.9,580.3L901.9,585.5L908.7,592.4L914.4,600.9 M897.9,580.3L900.7,571.1L909.3,575.7L917.8,576.9L926.3,572.8L933.7,574.6L940.5,561.2L947.4,560.1L947.4,568.8L951.9,575.7 M951.9,575.7L953.6,569.4L957.6,561.8L963.9,557.2L966.1,547.8 M966.1,547.8L969.0,531.8L978.1,525.9 M966.1,547.8L974.1,544.3L980.4,546.0L990.6,549.0L999.7,558.3 M999.7,558.3L996.3,567.0L1002.6,567.2L1004.8,564.1 M1002.6,567.2L1003.1,575.1L1008.8,578.6L1025.9,584.3L1031.6,584.3L1014.5,601.5L1006.0,602.7L997.4,606.1L996.9,607.5 M996.9,607.5L990.6,606.1L983.8,610.1L975.2,609.5L968.4,604.9L963.3,604.7L962.7,603.8 M951.9,575.7L951.4,582.0L946.2,584.9L952.5,588.9L957.6,598.7L962.7,603.8 M996.9,607.5L991.7,614.1L991.7,634.6L995.2,639.7 M962.7,603.8L954.2,606.1L951.9,606.1L954.2,610.1L957.6,619.2L954.8,624.3L951.9,628.3L951.4,635.7 M951.4,635.7L972.4,647.1L973.0,649.9L981.5,656.8 M951.9,606.1L946.2,608.4L940.0,609.5L934.3,610.1 M934.3,610.1L933.7,616.9L936.6,618.1L928.6,626.6L926.9,635.1L926.9,638.0 M914.4,600.9L920.1,605.5L926.3,604.9L934.3,610.1 M926.9,638.0L932.0,635.7L951.4,635.7 M926.9,638.0L923.5,645.4L924.6,647.1L924.6,655.1 M932.0,635.7L933.7,643.7L931.4,646.5L933.7,648.8L929.2,654.5L925.8,655.3 M923.5,645.4L928.6,644.2L932.0,643.7 M925.8,655.3L926.9,665.9L933.7,677.4 M933.7,677.4L922.9,678.5L920.1,683.1L921.2,691.2L920.1,698.2L928.0,699.9L928.0,706.9L922.9,705.8L913.2,697.6L905.8,697.6L897.3,694.7L894.5,692.4 M894.5,692.4L884.8,694.1L885.4,690.1L882.5,684.3L882.5,671.6L875.1,671.6L875.1,669.3L869.4,669.9L866.6,675.7L858.6,676.2L852.9,663.6L834.7,663.6L827.9,663.1 M894.5,692.4L895.0,704.6L883.7,704.6L883.7,723.4L891.6,731.7 M825.6,729.9L838.1,730.5L863.7,730.5L880.2,734.1L891.6,731.7L902.4,732.9 M902.4,732.9L897.9,734.1L891.1,734.1L878.0,735.9L878.0,758.3L872.3,758.3L872.3,775.7 M872.3,775.7L872.3,798.6L866.6,801.9L858.1,800.6L852.4,799.9 M872.3,775.7L876.8,788.3L887.1,783.3L899.0,782.0L905.8,775.1L912.1,768.2L925.8,759.6 M902.4,732.9L907.5,743.7L916.1,749.2L925.8,759.6 M902.4,732.9L912.1,734.1L922.9,722.2L931.4,719.9 M931.4,719.9L936.6,722.2L945.7,726.4L946.2,740.1L944.5,749.2L936.6,760.8 M925.8,759.6L936.6,760.8 M936.6,760.8L940.5,773.2L940.0,782.6L941.1,788.3L945.7,788.7 M940.0,782.6L934.9,783.3L933.7,788.3L936.6,791.5L941.1,788.3 M912.1,806.4L921.2,799.9L925.8,805.8L919.5,813.0L913.2,810.4L912.1,806.4 M931.4,719.9L930.3,716.3L947.4,710.4L944.5,708.1L946.2,702.3L947.9,696.4L947.4,690.1L945.7,683.7 M933.7,677.4L940.5,682.0L945.7,683.7L951.9,684.3L955.3,695.9L962.2,695.3L974.7,694.7L988.3,690.1 M955.3,695.9L957.0,707.5L962.7,715.7L959.3,723.4L958.7,728.8L954.2,723.4L954.2,714.0L947.4,710.4 M827.9,658.5L831.3,655.1L833.0,656.2L827.9,663.1 M833.0,656.2L840.4,657.9L845.5,654.5L850.7,642.5L859.2,632.8L860.9,624.3L864.3,610.1 M707.9,367.0L711.9,365.5L721.5,367.0L723.2,369.3L719.2,373.8L718.7,383.6L715.8,384.3L718.7,394.5L716.4,401.7 M748.3,355.4L762.5,360.1L776.7,363.2 M801.2,352.3L798.3,349.1L798.3,342.7L797.2,336.2L798.3,335.4 M798.3,335.4L793.2,333.0L793.2,329.7L798.3,322.1L801.7,321.3 M801.7,321.3L801.7,317.1L805.1,309.3L794.9,305.0 M794.9,305.0L791.5,305.0L785.8,300.6L781.8,297.9L773.3,290.7 M777.8,288.0L786.9,287.1L791.5,289.8L792.6,293.4 M792.6,293.4L793.2,283.4L797.2,280.6L798.9,271.2L799.5,270.3 M792.6,293.4L794.9,297.9L793.2,299.7L794.9,305.0 M807.4,254.8L812.0,255.8 M839.9,264.5L840.4,270.3L838.7,275.0L842.1,281.6L842.7,291.6L843.8,292.5 M843.8,292.5L839.9,291.6L831.9,297.0L827.3,297.9L829.6,303.2L837.0,311.1 M837.0,311.1L832.5,315.4L832.5,322.1L827.9,321.3L818.2,322.1L813.1,322.1 M813.1,322.1L807.4,320.5L801.7,321.3 M813.1,322.1L812.5,325.5L818.2,327.2L817.7,330.5L811.4,330.5L809.7,336.2L806.3,331.3L803.4,335.4L798.3,335.4 M818.2,327.2L827.3,326.3L829.0,328.8L836.4,330.5 M837.0,311.1L843.8,309.3L854.6,311.9 M854.6,311.9L855.8,317.9L852.4,326.3L850.1,327.2 M836.4,330.5L843.8,329.7L850.1,327.2L852.4,330.5 M836.4,330.5L835.9,337.9 M835.9,338.7L845.5,338.7L847.8,333.0L852.4,330.5 M852.4,330.5L859.2,335.4L866.0,335.4 M855.8,317.9L865.5,319.6L872.3,316.2L884.2,314.5 M843.8,292.5L851.2,295.2L855.2,297.9L865.5,305.0 M865.5,305.0L872.3,307.6L886.5,308.5 M854.6,311.9L860.3,309.3L865.5,305.0 M884.2,314.5L886.5,308.5L887.6,304.1L895.0,296.1L892.8,287.1L892.8,276.9L894.5,276.0L892.2,264.5 M892.2,264.5L888.2,260.2L871.1,259.2 M888.2,260.2L887.6,253.8L879.1,250.8 M892.2,264.5L903.6,261.6L909.8,246.8 M878.3,242.7L895.0,240.7L909.8,246.8 M896.7,223.9L906.4,225.0L914.4,228.2 M914.4,228.2L914.9,218.5L917.8,207.5 M914.4,228.2L917.8,238.6L918.9,242.7L909.8,246.8 M918.9,242.7L934.3,247.8L933.7,255.8L944.5,269.3L936.6,272.2L939.4,281.6 M892.8,287.1L900.7,283.4L916.7,287.1L932.0,288.9L939.4,281.6 M939.4,281.6L953.1,279.7L960.5,291.6L961.0,297.0L974.7,301.5L986.6,304.1L984.3,318.8L975.8,325.5 M884.2,314.5L888.8,317.9L900.2,320.5L909.8,315.8L914.9,314.5L924.0,318.8L929.2,331.3 M909.8,315.8L918.4,327.2L918.9,338.7L927.5,341.1 M884.2,314.5L879.1,331.3L874.0,333.8L866.0,335.4 M874.0,333.8L880.8,341.9L886.5,345.1L887.6,349.1 M887.6,349.1L889.3,352.3L903.0,353.8L912.1,349.9L921.2,353.1 M887.6,349.1L885.9,357.0L889.3,360.9L885.9,364.0L889.3,371.6 M889.3,371.6L897.9,370.1L907.0,371.6L908.7,368.5L917.8,366.3 M907.0,371.6L908.7,374.6L906.4,376.1 M872.3,383.6L876.3,379.1L878.0,374.6L888.8,371.6L889.3,371.6 M868.9,367.0L875.1,364.7L875.7,373.1L878.0,374.6 M866.0,335.4L867.2,343.5L868.9,349.1L867.7,354.6L863.7,362.4 M866.6,343.5L854.6,341.1L848.4,341.1L850.7,349.1L858.6,358.5L863.7,362.4 M875.1,364.7L880.8,364.0L885.9,364.0 M916.7,194.4L926.3,183.3L936.6,166.2L929.2,154.8L928.0,141.7L929.7,129.4L924.0,112.4L929.2,100.6L921.8,93.1L922.9,79.8L933.7,72.6L934.3,67.7 M922.9,79.8L925.2,72.6L917.8,62.7L906.4,69.3L904.7,77.4L899.0,86.9L885.9,85.3L875.7,79.6 M875.7,79.6L893.3,97.6L892.8,118.2L895.6,128.0 M875.7,79.6L861.5,88.4L851.8,108.1L846.1,121.0L841.0,134.9L836.4,145.6L827.9,157.3L827.9,183.3L830.7,188.0L829.6,198.5L825.6,205.3L823.9,213.1 M717.0,253.8L713.0,258.7L717.0,262.6L722.7,262.6 M963.9,410.2L967.3,404.6L974.7,404.6L990.0,402.4L999.7,402.4L1013.4,402.1L1009.9,393.1L1011.7,383.6L1013.4,383.6 M994.9,370.1L1006.0,373.1L1007.1,379.8L1013.4,383.6 M986.1,355.4L1000.3,357.0L1011.7,360.9L1022.5,367.0L1030.4,372.3L1035.0,367.4 M1006.0,373.1L1014.5,371.6L1022.5,367.0 M1014.5,371.6L1017.9,375.4L1023.0,385.0L1020.8,389.4 M1013.4,383.6L1020.8,389.4L1031.6,384.3L1033.3,389.4L1036.7,393.1 M999.7,402.4L992.9,410.2L991.7,421.4L979.2,428.2 M979.2,428.2L967.9,435.7L962.2,433.0L962.7,428.9L966.7,422.7L963.3,420.0 M979.2,428.2L981.5,436.7L969.0,441.0L974.7,447.7L971.8,451.0L963.9,456.2L957.6,454.9 M961.0,433.0L960.5,441.0L957.6,454.2 M953.1,442.4L957.0,454.2 M981.5,436.7L988.3,438.3L998.0,443.7L1012.8,456.2L1022.5,456.8L1028.2,457.5L1029.9,460.7L1033.8,460.7 M1022.5,456.8L1028.2,451.0L1031.6,451.0 M1013.4,402.1L1016.8,410.2L1020.8,416.5L1016.8,424.1L1021.3,430.9L1029.9,439.0L1029.9,444.4L1035.0,451.6 M1065.1,400.6L1078.2,395.2L1084.5,396.0L1095.9,399.6L1106.7,406.0L1106.7,413.0 M1106.7,413.0L1103.2,422.0L1105.0,441.0L1109.5,441.7L1105.0,451.9 M1105.0,451.9L1114.1,454.9L1118.0,469.1L1115.8,472.9L1108.9,481.8 M1114.1,454.9L1135.7,451.6L1136.2,444.4L1145.3,439.0L1152.7,438.3L1153.9,430.9L1158.4,428.9L1156.7,424.1L1163.0,421.4L1165.8,413.7L1163.5,409.5L1178.3,403.9L1184.6,401.7 M1106.7,413.0L1116.9,414.4L1125.4,408.1L1136.8,400.3L1144.2,401.7L1152.7,402.4L1157.9,398.9L1161.3,393.1L1165.8,396.7L1165.8,405.3L1175.5,400.3L1184.6,401.7 M1136.8,400.3L1122.6,388.7L1113.5,381.3L1105.5,372.3L1100.4,370.8L1099.8,364.7L1091.3,360.9L1082.8,371.6L1077.1,371.6 M1077.1,371.6L1070.3,367.0L1060.0,365.5L1057.2,367.8 M1077.1,371.6L1077.1,342.7L1091.9,337.9L1105.5,348.3L1127.7,353.1L1134.5,358.5L1134.0,366.3L1145.3,373.8L1159.6,365.5L1162.4,364.0 M1162.4,364.0L1176.6,358.5L1183.5,357.0L1196.5,359.3L1209.1,360.1L1214.7,364.7 M1214.7,364.7L1202.2,373.8L1193.7,377.6L1184.0,377.6L1178.3,382.8L1177.8,385.8L1184.6,392.4L1184.6,401.7 M1162.4,364.0L1157.9,370.1L1166.4,370.1L1173.8,375.4L1166.4,379.8L1159.6,379.8L1160.1,384.3L1177.8,385.8 M1159.6,379.8L1152.7,376.1L1148.8,379.8L1144.2,384.3L1147.6,394.5L1144.2,401.7 M1037.8,331.3L1034.4,329.7L1032.1,319.6L1028.2,317.9L1023.0,313.6L1025.9,307.6L1024.7,305.8L1028.7,297.0L1036.1,300.6L1042.9,289.8L1047.5,285.2L1057.2,287.1L1062.9,290.7L1068.5,291.6L1075.4,295.2L1088.5,290.7L1097.6,296.1L1107.8,293.4L1109.5,288.9L1099.8,284.3L1102.7,280.6L1105.5,278.8L1106.7,273.1L1111.8,273.1L1106.7,267.4L1105.5,264.5L1118.0,261.6L1129.4,260.2L1146.5,253.8L1157.9,252.3L1162.4,261.6L1176.6,263.6L1176.1,268.4L1181.8,267.4L1193.7,261.6L1196.0,259.7L1201.7,270.3L1213.6,293.4L1217.6,288.9L1233.0,291.6L1243.2,304.1L1252.3,302.3L1255.1,308.5 M1255.1,308.5L1246.0,314.5L1244.9,325.5L1230.7,324.7L1226.7,338.7L1213.6,342.7L1218.2,357.0L1214.7,364.7 M1255.1,308.5L1258.0,307.6L1268.2,301.5L1284.7,293.4L1295.0,295.2L1312.0,302.3L1317.7,296.1L1316.0,287.1L1324.5,282.5L1339.9,288.9L1340.5,295.2L1347.3,298.8L1361.5,297.0L1372.3,301.5L1388.3,308.5L1401.3,304.1L1411.6,298.8L1422.4,302.3 M1258.0,307.6L1259.1,312.8L1270.5,318.8L1276.2,329.7L1275.6,341.1L1290.4,343.5L1301.2,348.3L1306.9,360.9L1333.1,362.4L1355.8,369.3L1370.1,363.2L1386.6,360.1L1395.7,352.3L1395.1,342.7L1404.8,344.3L1418.4,334.6L1426.4,331.3L1440.6,328.0L1432.6,318.8L1428.7,317.9L1415.6,318.8L1418.4,311.1L1422.4,302.3 M1422.4,302.3L1428.7,305.0L1436.6,297.9L1441.7,285.2L1445.1,276.9L1461.6,268.4L1473.0,273.1L1483.8,298.8L1483.8,302.3L1502.0,310.2L1503.7,320.5L1524.8,314.5L1525.4,320.5L1520.8,326.3L1515.1,341.9L1505.5,350.7L1505.5,355.4L1502.0,364.0 M1502.0,364.0L1496.9,359.3L1486.7,366.3L1480.4,367.8L1466.2,381.3 M1475.9,398.1L1481.0,393.8L1489.0,391.6 M1184.6,401.7L1190.9,411.6L1202.2,413.7L1207.4,422.0L1207.9,434.3L1206.2,441.0L1219.3,449.6L1222.1,448.3L1225.6,450.3L1236.4,458.1L1247.7,464.0L1259.7,464.6L1264.2,468.5L1269.4,462.7L1279.6,465.3L1282.4,465.3L1293.3,457.5L1304.6,454.9L1312.0,462.0 M1219.3,449.6L1214.2,458.8L1225.0,464.6L1232.4,467.8L1242.1,471.7L1247.7,472.9L1259.7,474.2L1259.7,464.6 M1264.2,468.5L1264.8,472.3L1282.4,471.0L1282.4,465.3 M1201.1,413.7L1195.4,419.3L1179.5,419.3L1181.2,430.9L1187.4,435.7L1182.9,438.3L1182.3,444.4L1178.9,450.3L1173.2,461.4L1167.5,464.6L1159.0,464.0L1154.4,469.1L1160.7,478.6L1162.4,486.8L1150.5,487.4L1146.5,491.2 M1259.7,474.2L1263.7,474.8L1269.4,476.7L1269.4,481.2L1284.2,483.0L1283.0,488.0L1277.3,488.7L1277.3,491.2L1278.5,494.9L1280.7,494.3L1283.6,491.2L1285.3,505.9L1283.6,509.6 M1259.7,474.2L1262.0,481.8L1259.7,483.7L1263.1,488.0L1263.7,494.3L1264.8,501.0L1265.4,502.9 M1312.0,462.0L1305.8,468.5L1300.1,472.9L1296.7,481.8L1297.2,489.3L1289.8,489.3L1289.3,495.5L1288.7,499.8L1285.3,505.9 M1312.0,462.0L1320.0,466.5L1320.0,477.4L1314.3,484.3L1313.7,489.9L1321.1,488.7L1321.1,494.3L1324.5,496.1L1322.8,501.0L1328.5,504.7L1334.2,504.1L1333.9,506.9L1328.0,511.7 M1328.0,511.7L1321.7,513.2L1316.0,515.0L1312.6,522.9L1319.4,537.2L1317.1,542.5L1322.3,550.7L1322.8,557.7L1325.1,562.4L1320.6,568.8L1320.3,572.8 M1333.9,506.9L1337.6,506.5L1337.6,498.6L1343.9,498.6L1350.1,498.6L1357.5,493.6L1365.5,496.7L1364.9,501.7L1372.9,504.7 M1339.3,499.2L1344.5,509.0L1353.0,511.4L1350.1,516.9L1357.0,522.3L1364.9,534.2L1370.1,542.5L1370.6,545.4 M1328.0,511.7L1330.2,513.2L1330.8,516.9L1334.8,516.9L1333.1,526.5L1339.3,524.7L1342.7,526.5L1350.1,524.1L1354.7,529.5L1354.7,535.4L1359.2,539.5L1359.2,547.2L1357.0,547.8 M1357.0,547.8L1361.5,550.1L1370.6,545.4 M1357.0,547.8L1344.5,548.4L1341.6,551.9L1340.5,555.4L1343.9,563.0 M1370.6,545.4L1370.1,559.5L1363.8,563.0L1360.4,563.6L1361.0,567.0L1352.4,570.5 M1328.0,593.5L1333.6,598.1L1337.6,596.9L1339.3,594.7 M1382.0,618.6L1382.0,624.3L1387.7,624.9L1394.5,624.3L1396.8,622.0L1404.8,623.2L1410.4,622.0L1412.7,614.1L1416.1,610.6L1416.1,606.1L1427.5,606.1 M1560.6,644.8L1560.6,682.0 M1002.0,535.4L1004.3,529.5L1009.4,529.5L1022.5,530.6L1025.9,532.4L1032.7,524.7L1037.8,522.3L1054.3,519.9L1071.4,513.8L1075.4,501.7L1072.5,497.3L1057.7,496.1L1052.0,488.7L1052.0,487.4 M1054.3,519.9L1060.6,533.9 M1072.5,497.3L1075.9,488.0L1077.6,484.9L1079.4,483.7 M1047.5,484.6L1049.8,485.5" fill="none" stroke="#6a6a6a" stroke-width="4.6" stroke-opacity="0.4" stroke-linejoin="round"/>
<path d="M57.1,309.3L217.2,309.3L217.2,305.8L220.3,311.9L229.4,312.8L238.0,317.1L249.3,317.9L255.6,315.4L276.1,327.2L277.8,330.5L283.5,333.8L283.5,336.2L289.2,340.3L291.4,353.8L289.7,358.5L289.2,361.6L285.8,364.7L285.8,366.3L289.2,368.5L300.5,364.0L309.1,360.1L308.5,356.2L307.9,354.6L310.8,353.8L321.6,353.8L324.4,349.1L331.8,342.7L351.7,342.7L355.2,340.3L358.6,335.4L359.1,331.3L364.8,322.6L369.9,323.4L372.8,325.5L372.8,337.1L375.1,341.1L377.3,343.5 M92.3,434.3L106.0,433.0L105.4,434.3L127.0,442.4L143.0,442.4L143.0,439.0L152.6,439.0L161.2,446.3L164.0,453.6L171.4,457.5L175.4,452.3L181.6,452.3L187.9,462.0L192.5,467.2L194.7,474.2L205.5,477.4 M234.0,546.6L234.0,542.5L236.8,537.2L243.7,537.2L244.2,535.4L238.5,530.6L240.8,530.3L240.8,527.1L251.3,527.1 M256.2,522.9L251.3,527.1L251.1,538.4L252.8,538.4 M256.7,539.5L251.1,544.3L250.2,547.2L245.9,551.0 M250.2,547.2L255.0,550.1L259.0,553.1 M261.9,555.4L265.3,550.7L270.4,550.1L276.1,544.9L285.2,543.7 M271.0,566.5L275.5,567.0L282.3,567.6 M286.9,583.8L287.5,578.6L288.6,575.7 M315.3,588.9L318.7,584.9L318.7,580.9 M350.6,515.7L350.6,521.7L348.9,522.3L350.6,525.9 M352.9,562.4L347.2,566.5L343.2,576.9L346.6,582.0L346.6,587.8L359.7,590.1L363.7,595.2L374.5,594.7L372.8,604.4L375.6,610.6L372.2,614.1L376.2,616.9L377.9,623.2 M377.9,623.2L376.8,620.3L361.4,620.3L361.4,623.7L364.8,624.3L363.7,626.6L360.3,626.9L360.3,631.1L363.7,636.3L360.6,653.9 M360.6,653.9L356.3,651.6L360.0,645.4L351.7,642.5L343.2,643.1L335.8,635.1L330.1,630.6 M330.1,630.6L324.4,627.7L318.2,627.7L310.2,622.0 M330.1,630.6L329.0,638.5L322.7,644.8L313.6,649.4L312.5,656.2L309.1,658.5L305.7,655.6L301.1,655.1L301.7,649.4 M360.6,653.9L343.8,659.6L342.1,664.8L337.5,672.8L343.8,682.0L347.8,687.2L356.9,684.3L356.9,693.0L362.6,692.7 M362.6,692.7L367.7,701.7L366.0,708.7L364.3,716.3L364.8,723.4L362.6,729.9L363.1,731.1 M363.1,731.1L358.0,736.2 M362.6,692.7L368.2,693.5L379.6,686.6L386.4,685.4L387.0,695.9L392.1,701.1L400.1,702.3L405.8,706.4L411.5,707.5L415.5,714.0L416.0,724.0L426.3,724.0L426.8,729.9L431.4,735.3L429.7,740.1L427.4,745.0 M363.1,731.1L366.5,740.1L368.8,749.2L370.5,755.3L372.8,763.3 M372.8,763.3L376.2,763.3L381.9,757.1L391.6,759.6L392.7,763.3L401.2,758.3L402.4,759.9 M402.4,759.9L404.1,749.2L406.9,743.7L422.3,741.9L427.4,745.0 M427.4,745.0L429.1,750.4L429.1,759.0L439.9,760.2L441.6,761.4L442.8,770.1L449.6,770.7L447.9,780.1 M402.4,759.9L411.5,769.5L422.9,775.7L430.8,780.1L425.1,790.9L434.2,792.2L439.9,791.5L447.9,780.1 M447.9,780.1L452.4,784.5L453.0,790.3L441.6,798.0L430.8,810.4 M430.8,810.4L439.9,815.0L451.3,821.0L454.7,833.8 M430.8,810.4L427.4,825.7 M372.8,763.3L377.3,764.5L375.6,770.7L369.4,773.8L368.8,785.2L365.4,790.9L361.4,798.0L360.8,805.8L357.4,819.0L358.6,829.1 M377.9,623.2L385.9,625.4L394.4,619.2L394.4,615.8L397.8,617.5L393.3,606.7L401.2,607.2L406.9,606.1L413.2,600.4 M413.2,600.4L409.2,596.4L410.9,591.8L415.5,589.5L417.2,584.3L417.2,581.5 M413.2,600.4L417.2,601.5L418.3,604.9L420.0,607.8L417.2,614.6L419.4,619.8L423.4,622.6L428.5,621.5L432.5,618.9L437.1,619.2 M437.1,619.2L432.5,611.2L428.5,607.2L433.1,601.5L433.7,596.4 M437.1,619.2L440.5,618.6L445.6,615.2L448.5,616.9 M448.5,616.9L451.3,609.5L449.0,602.1L451.3,597.5 M448.5,616.9L452.4,616.9L457.6,617.5L460.4,612.4L464.4,606.1 M746.0,416.5L748.8,420.7L748.3,427.5L751.7,437.0L738.0,444.4L730.1,451.0L721.5,453.6L709.0,459.4L709.0,466.2 M709.0,466.2L683.4,466.2 M709.0,466.2L709.0,476.7L690.2,476.7L690.2,492.7L684.5,495.5L684.5,505.8L661.8,505.8 M709.0,468.5L731.0,483.0L765.3,507.2L765.3,509.6L776.7,515.0L776.7,519.9L782.7,519.0L791.5,517.5L801.2,508.4L826.8,492.4 M731.0,483.0L721.5,483.0L726.6,540.7L705.6,540.7L697.6,541.3L693.1,540.1L689.1,544.9 M664.6,537.2L673.2,534.2L678.9,535.4L684.5,540.7L689.1,544.9 M689.1,544.9L693.6,558.9 M662.9,551.9L673.2,550.7L680.0,553.1L673.2,554.2L662.9,554.8 M663.5,559.2L673.2,557.7L680.6,557.7L693.6,558.9 M680.6,557.7L680.6,563.0L673.2,567.6 M682.8,578.6L688.0,573.4L695.9,572.8L699.9,581.5L698.2,584.3L693.1,590.7 M699.9,581.5L705.0,587.8L710.1,586.6L713.0,581.5L711.3,572.8L713.0,571.7L723.2,568.8L727.2,570.5L731.8,574.6L742.9,575.7 M693.6,558.9L701.6,561.2L707.3,558.9L711.3,567.0L713.0,571.7 M710.1,586.6L710.7,593.5L715.8,596.9L715.8,604.9 M742.9,575.7L744.3,583.2L740.3,591.2L742.6,600.9 M742.9,575.7L742.6,567.0L758.5,566.5 M758.5,566.5L760.8,571.1L761.9,583.2L761.3,587.2L765.3,595.2 M763.6,567.0L767.6,578.6L767.6,594.7 M779.0,563.0L780.1,569.9L773.9,578.6L773.9,593.5 M727.2,570.5L727.2,562.4L733.5,557.2L735.7,553.1L741.4,551.3L747.1,548.4L754.5,543.4L759.6,543.7 M759.6,543.7L764.2,553.1L771.0,558.9L772.2,561.8 M758.5,566.5L763.6,567.0L772.2,561.8L779.0,563.0 M782.7,519.0L782.7,532.4L778.4,541.3L765.9,541.9L759.6,543.7 M779.0,563.0L781.8,552.5L797.2,554.8L808.0,556.0L815.4,553.6L829.6,554.8L835.9,551.3 M835.9,551.3L835.3,546.6L846.7,532.4L846.7,513.8L849.5,511.4L843.8,495.5 M826.8,492.4L839.3,498.6L843.8,495.5L895.0,516.9 M826.8,492.4L824.5,487.4L817.1,485.5L812.5,474.8L814.8,462.0L812.5,449.6 M812.5,449.6L810.3,437.0L801.2,425.5L805.7,417.2L805.1,406.7L807.4,403.9 M812.5,449.6L817.1,439.7L823.9,435.0L824.5,429.6 M900.7,440.4L900.7,501.7 M900.7,501.7L968.4,501.7 M900.7,501.7L900.7,513.8L895.0,513.8L895.0,516.9 M895.0,516.9L895.0,539.5L888.8,540.7L884.8,552.5L882.5,557.2L888.8,567.0 M888.8,567.0L881.9,569.4L866.6,578.6L860.9,584.3L852.4,586.1L846.7,587.2 M835.9,551.3L839.3,556.0L843.3,560.1L844.4,567.0L847.8,572.8L838.1,573.4L846.7,587.2 M839.3,558.9L833.6,572.8L826.8,584.3L822.8,591.8L815.4,590.7L807.4,602.7 M846.7,587.2L841.0,595.8L842.1,603.8L850.1,617.5 M814.3,616.9L822.8,617.5L834.2,617.5L850.1,617.5 M814.3,624.3L822.8,624.3L822.8,617.5 M834.2,617.5L833.6,622.6L839.9,622.0L841.0,632.8L840.4,640.8L832.5,643.7L824.5,643.7L829.0,649.9L822.2,652.2 M850.1,617.5L852.4,610.1L864.3,610.1 M864.3,610.1L863.7,604.9L869.4,600.9L885.9,606.7L892.2,603.2L902.4,601.5L914.4,600.9 M888.8,567.0L893.3,578.6L897.9,580.3L901.9,585.5L908.7,592.4L914.4,600.9 M897.9,580.3L900.7,571.1L909.3,575.7L917.8,576.9L926.3,572.8L933.7,574.6L940.5,561.2L947.4,560.1L947.4,568.8L951.9,575.7 M951.9,575.7L953.6,569.4L957.6,561.8L963.9,557.2L966.1,547.8 M966.1,547.8L969.0,531.8L978.1,525.9 M966.1,547.8L974.1,544.3L980.4,546.0L990.6,549.0L999.7,558.3 M999.7,558.3L996.3,567.0L1002.6,567.2L1004.8,564.1 M1002.6,567.2L1003.1,575.1L1008.8,578.6L1025.9,584.3L1031.6,584.3L1014.5,601.5L1006.0,602.7L997.4,606.1L996.9,607.5 M996.9,607.5L990.6,606.1L983.8,610.1L975.2,609.5L968.4,604.9L963.3,604.7L962.7,603.8 M951.9,575.7L951.4,582.0L946.2,584.9L952.5,588.9L957.6,598.7L962.7,603.8 M996.9,607.5L991.7,614.1L991.7,634.6L995.2,639.7 M962.7,603.8L954.2,606.1L951.9,606.1L954.2,610.1L957.6,619.2L954.8,624.3L951.9,628.3L951.4,635.7 M951.4,635.7L972.4,647.1L973.0,649.9L981.5,656.8 M951.9,606.1L946.2,608.4L940.0,609.5L934.3,610.1 M934.3,610.1L933.7,616.9L936.6,618.1L928.6,626.6L926.9,635.1L926.9,638.0 M914.4,600.9L920.1,605.5L926.3,604.9L934.3,610.1 M926.9,638.0L932.0,635.7L951.4,635.7 M926.9,638.0L923.5,645.4L924.6,647.1L924.6,655.1 M932.0,635.7L933.7,643.7L931.4,646.5L933.7,648.8L929.2,654.5L925.8,655.3 M923.5,645.4L928.6,644.2L932.0,643.7 M925.8,655.3L926.9,665.9L933.7,677.4 M933.7,677.4L922.9,678.5L920.1,683.1L921.2,691.2L920.1,698.2L928.0,699.9L928.0,706.9L922.9,705.8L913.2,697.6L905.8,697.6L897.3,694.7L894.5,692.4 M894.5,692.4L884.8,694.1L885.4,690.1L882.5,684.3L882.5,671.6L875.1,671.6L875.1,669.3L869.4,669.9L866.6,675.7L858.6,676.2L852.9,663.6L834.7,663.6L827.9,663.1 M894.5,692.4L895.0,704.6L883.7,704.6L883.7,723.4L891.6,731.7 M825.6,729.9L838.1,730.5L863.7,730.5L880.2,734.1L891.6,731.7L902.4,732.9 M902.4,732.9L897.9,734.1L891.1,734.1L878.0,735.9L878.0,758.3L872.3,758.3L872.3,775.7 M872.3,775.7L872.3,798.6L866.6,801.9L858.1,800.6L852.4,799.9 M872.3,775.7L876.8,788.3L887.1,783.3L899.0,782.0L905.8,775.1L912.1,768.2L925.8,759.6 M902.4,732.9L907.5,743.7L916.1,749.2L925.8,759.6 M902.4,732.9L912.1,734.1L922.9,722.2L931.4,719.9 M931.4,719.9L936.6,722.2L945.7,726.4L946.2,740.1L944.5,749.2L936.6,760.8 M925.8,759.6L936.6,760.8 M936.6,760.8L940.5,773.2L940.0,782.6L941.1,788.3L945.7,788.7 M940.0,782.6L934.9,783.3L933.7,788.3L936.6,791.5L941.1,788.3 M912.1,806.4L921.2,799.9L925.8,805.8L919.5,813.0L913.2,810.4L912.1,806.4 M931.4,719.9L930.3,716.3L947.4,710.4L944.5,708.1L946.2,702.3L947.9,696.4L947.4,690.1L945.7,683.7 M933.7,677.4L940.5,682.0L945.7,683.7L951.9,684.3L955.3,695.9L962.2,695.3L974.7,694.7L988.3,690.1 M955.3,695.9L957.0,707.5L962.7,715.7L959.3,723.4L958.7,728.8L954.2,723.4L954.2,714.0L947.4,710.4 M827.9,658.5L831.3,655.1L833.0,656.2L827.9,663.1 M833.0,656.2L840.4,657.9L845.5,654.5L850.7,642.5L859.2,632.8L860.9,624.3L864.3,610.1 M707.9,367.0L711.9,365.5L721.5,367.0L723.2,369.3L719.2,373.8L718.7,383.6L715.8,384.3L718.7,394.5L716.4,401.7 M748.3,355.4L762.5,360.1L776.7,363.2 M801.2,352.3L798.3,349.1L798.3,342.7L797.2,336.2L798.3,335.4 M798.3,335.4L793.2,333.0L793.2,329.7L798.3,322.1L801.7,321.3 M801.7,321.3L801.7,317.1L805.1,309.3L794.9,305.0 M794.9,305.0L791.5,305.0L785.8,300.6L781.8,297.9L773.3,290.7 M777.8,288.0L786.9,287.1L791.5,289.8L792.6,293.4 M792.6,293.4L793.2,283.4L797.2,280.6L798.9,271.2L799.5,270.3 M792.6,293.4L794.9,297.9L793.2,299.7L794.9,305.0 M807.4,254.8L812.0,255.8 M839.9,264.5L840.4,270.3L838.7,275.0L842.1,281.6L842.7,291.6L843.8,292.5 M843.8,292.5L839.9,291.6L831.9,297.0L827.3,297.9L829.6,303.2L837.0,311.1 M837.0,311.1L832.5,315.4L832.5,322.1L827.9,321.3L818.2,322.1L813.1,322.1 M813.1,322.1L807.4,320.5L801.7,321.3 M813.1,322.1L812.5,325.5L818.2,327.2L817.7,330.5L811.4,330.5L809.7,336.2L806.3,331.3L803.4,335.4L798.3,335.4 M818.2,327.2L827.3,326.3L829.0,328.8L836.4,330.5 M837.0,311.1L843.8,309.3L854.6,311.9 M854.6,311.9L855.8,317.9L852.4,326.3L850.1,327.2 M836.4,330.5L843.8,329.7L850.1,327.2L852.4,330.5 M836.4,330.5L835.9,337.9 M835.9,338.7L845.5,338.7L847.8,333.0L852.4,330.5 M852.4,330.5L859.2,335.4L866.0,335.4 M855.8,317.9L865.5,319.6L872.3,316.2L884.2,314.5 M843.8,292.5L851.2,295.2L855.2,297.9L865.5,305.0 M865.5,305.0L872.3,307.6L886.5,308.5 M854.6,311.9L860.3,309.3L865.5,305.0 M884.2,314.5L886.5,308.5L887.6,304.1L895.0,296.1L892.8,287.1L892.8,276.9L894.5,276.0L892.2,264.5 M892.2,264.5L888.2,260.2L871.1,259.2 M888.2,260.2L887.6,253.8L879.1,250.8 M892.2,264.5L903.6,261.6L909.8,246.8 M878.3,242.7L895.0,240.7L909.8,246.8 M896.7,223.9L906.4,225.0L914.4,228.2 M914.4,228.2L914.9,218.5L917.8,207.5 M914.4,228.2L917.8,238.6L918.9,242.7L909.8,246.8 M918.9,242.7L934.3,247.8L933.7,255.8L944.5,269.3L936.6,272.2L939.4,281.6 M892.8,287.1L900.7,283.4L916.7,287.1L932.0,288.9L939.4,281.6 M939.4,281.6L953.1,279.7L960.5,291.6L961.0,297.0L974.7,301.5L986.6,304.1L984.3,318.8L975.8,325.5 M884.2,314.5L888.8,317.9L900.2,320.5L909.8,315.8L914.9,314.5L924.0,318.8L929.2,331.3 M909.8,315.8L918.4,327.2L918.9,338.7L927.5,341.1 M884.2,314.5L879.1,331.3L874.0,333.8L866.0,335.4 M874.0,333.8L880.8,341.9L886.5,345.1L887.6,349.1 M887.6,349.1L889.3,352.3L903.0,353.8L912.1,349.9L921.2,353.1 M887.6,349.1L885.9,357.0L889.3,360.9L885.9,364.0L889.3,371.6 M889.3,371.6L897.9,370.1L907.0,371.6L908.7,368.5L917.8,366.3 M907.0,371.6L908.7,374.6L906.4,376.1 M872.3,383.6L876.3,379.1L878.0,374.6L888.8,371.6L889.3,371.6 M868.9,367.0L875.1,364.7L875.7,373.1L878.0,374.6 M866.0,335.4L867.2,343.5L868.9,349.1L867.7,354.6L863.7,362.4 M866.6,343.5L854.6,341.1L848.4,341.1L850.7,349.1L858.6,358.5L863.7,362.4 M875.1,364.7L880.8,364.0L885.9,364.0 M916.7,194.4L926.3,183.3L936.6,166.2L929.2,154.8L928.0,141.7L929.7,129.4L924.0,112.4L929.2,100.6L921.8,93.1L922.9,79.8L933.7,72.6L934.3,67.7 M922.9,79.8L925.2,72.6L917.8,62.7L906.4,69.3L904.7,77.4L899.0,86.9L885.9,85.3L875.7,79.6 M875.7,79.6L893.3,97.6L892.8,118.2L895.6,128.0 M875.7,79.6L861.5,88.4L851.8,108.1L846.1,121.0L841.0,134.9L836.4,145.6L827.9,157.3L827.9,183.3L830.7,188.0L829.6,198.5L825.6,205.3L823.9,213.1 M717.0,253.8L713.0,258.7L717.0,262.6L722.7,262.6 M963.9,410.2L967.3,404.6L974.7,404.6L990.0,402.4L999.7,402.4L1013.4,402.1L1009.9,393.1L1011.7,383.6L1013.4,383.6 M994.9,370.1L1006.0,373.1L1007.1,379.8L1013.4,383.6 M986.1,355.4L1000.3,357.0L1011.7,360.9L1022.5,367.0L1030.4,372.3L1035.0,367.4 M1006.0,373.1L1014.5,371.6L1022.5,367.0 M1014.5,371.6L1017.9,375.4L1023.0,385.0L1020.8,389.4 M1013.4,383.6L1020.8,389.4L1031.6,384.3L1033.3,389.4L1036.7,393.1 M999.7,402.4L992.9,410.2L991.7,421.4L979.2,428.2 M979.2,428.2L967.9,435.7L962.2,433.0L962.7,428.9L966.7,422.7L963.3,420.0 M979.2,428.2L981.5,436.7L969.0,441.0L974.7,447.7L971.8,451.0L963.9,456.2L957.6,454.9 M961.0,433.0L960.5,441.0L957.6,454.2 M953.1,442.4L957.0,454.2 M981.5,436.7L988.3,438.3L998.0,443.7L1012.8,456.2L1022.5,456.8L1028.2,457.5L1029.9,460.7L1033.8,460.7 M1022.5,456.8L1028.2,451.0L1031.6,451.0 M1013.4,402.1L1016.8,410.2L1020.8,416.5L1016.8,424.1L1021.3,430.9L1029.9,439.0L1029.9,444.4L1035.0,451.6 M1065.1,400.6L1078.2,395.2L1084.5,396.0L1095.9,399.6L1106.7,406.0L1106.7,413.0 M1106.7,413.0L1103.2,422.0L1105.0,441.0L1109.5,441.7L1105.0,451.9 M1105.0,451.9L1114.1,454.9L1118.0,469.1L1115.8,472.9L1108.9,481.8 M1114.1,454.9L1135.7,451.6L1136.2,444.4L1145.3,439.0L1152.7,438.3L1153.9,430.9L1158.4,428.9L1156.7,424.1L1163.0,421.4L1165.8,413.7L1163.5,409.5L1178.3,403.9L1184.6,401.7 M1106.7,413.0L1116.9,414.4L1125.4,408.1L1136.8,400.3L1144.2,401.7L1152.7,402.4L1157.9,398.9L1161.3,393.1L1165.8,396.7L1165.8,405.3L1175.5,400.3L1184.6,401.7 M1136.8,400.3L1122.6,388.7L1113.5,381.3L1105.5,372.3L1100.4,370.8L1099.8,364.7L1091.3,360.9L1082.8,371.6L1077.1,371.6 M1077.1,371.6L1070.3,367.0L1060.0,365.5L1057.2,367.8 M1077.1,371.6L1077.1,342.7L1091.9,337.9L1105.5,348.3L1127.7,353.1L1134.5,358.5L1134.0,366.3L1145.3,373.8L1159.6,365.5L1162.4,364.0 M1162.4,364.0L1176.6,358.5L1183.5,357.0L1196.5,359.3L1209.1,360.1L1214.7,364.7 M1214.7,364.7L1202.2,373.8L1193.7,377.6L1184.0,377.6L1178.3,382.8L1177.8,385.8L1184.6,392.4L1184.6,401.7 M1162.4,364.0L1157.9,370.1L1166.4,370.1L1173.8,375.4L1166.4,379.8L1159.6,379.8L1160.1,384.3L1177.8,385.8 M1159.6,379.8L1152.7,376.1L1148.8,379.8L1144.2,384.3L1147.6,394.5L1144.2,401.7 M1037.8,331.3L1034.4,329.7L1032.1,319.6L1028.2,317.9L1023.0,313.6L1025.9,307.6L1024.7,305.8L1028.7,297.0L1036.1,300.6L1042.9,289.8L1047.5,285.2L1057.2,287.1L1062.9,290.7L1068.5,291.6L1075.4,295.2L1088.5,290.7L1097.6,296.1L1107.8,293.4L1109.5,288.9L1099.8,284.3L1102.7,280.6L1105.5,278.8L1106.7,273.1L1111.8,273.1L1106.7,267.4L1105.5,264.5L1118.0,261.6L1129.4,260.2L1146.5,253.8L1157.9,252.3L1162.4,261.6L1176.6,263.6L1176.1,268.4L1181.8,267.4L1193.7,261.6L1196.0,259.7L1201.7,270.3L1213.6,293.4L1217.6,288.9L1233.0,291.6L1243.2,304.1L1252.3,302.3L1255.1,308.5 M1255.1,308.5L1246.0,314.5L1244.9,325.5L1230.7,324.7L1226.7,338.7L1213.6,342.7L1218.2,357.0L1214.7,364.7 M1255.1,308.5L1258.0,307.6L1268.2,301.5L1284.7,293.4L1295.0,295.2L1312.0,302.3L1317.7,296.1L1316.0,287.1L1324.5,282.5L1339.9,288.9L1340.5,295.2L1347.3,298.8L1361.5,297.0L1372.3,301.5L1388.3,308.5L1401.3,304.1L1411.6,298.8L1422.4,302.3 M1258.0,307.6L1259.1,312.8L1270.5,318.8L1276.2,329.7L1275.6,341.1L1290.4,343.5L1301.2,348.3L1306.9,360.9L1333.1,362.4L1355.8,369.3L1370.1,363.2L1386.6,360.1L1395.7,352.3L1395.1,342.7L1404.8,344.3L1418.4,334.6L1426.4,331.3L1440.6,328.0L1432.6,318.8L1428.7,317.9L1415.6,318.8L1418.4,311.1L1422.4,302.3 M1422.4,302.3L1428.7,305.0L1436.6,297.9L1441.7,285.2L1445.1,276.9L1461.6,268.4L1473.0,273.1L1483.8,298.8L1483.8,302.3L1502.0,310.2L1503.7,320.5L1524.8,314.5L1525.4,320.5L1520.8,326.3L1515.1,341.9L1505.5,350.7L1505.5,355.4L1502.0,364.0 M1502.0,364.0L1496.9,359.3L1486.7,366.3L1480.4,367.8L1466.2,381.3 M1475.9,398.1L1481.0,393.8L1489.0,391.6 M1184.6,401.7L1190.9,411.6L1202.2,413.7L1207.4,422.0L1207.9,434.3L1206.2,441.0L1219.3,449.6L1222.1,448.3L1225.6,450.3L1236.4,458.1L1247.7,464.0L1259.7,464.6L1264.2,468.5L1269.4,462.7L1279.6,465.3L1282.4,465.3L1293.3,457.5L1304.6,454.9L1312.0,462.0 M1219.3,449.6L1214.2,458.8L1225.0,464.6L1232.4,467.8L1242.1,471.7L1247.7,472.9L1259.7,474.2L1259.7,464.6 M1264.2,468.5L1264.8,472.3L1282.4,471.0L1282.4,465.3 M1201.1,413.7L1195.4,419.3L1179.5,419.3L1181.2,430.9L1187.4,435.7L1182.9,438.3L1182.3,444.4L1178.9,450.3L1173.2,461.4L1167.5,464.6L1159.0,464.0L1154.4,469.1L1160.7,478.6L1162.4,486.8L1150.5,487.4L1146.5,491.2 M1259.7,474.2L1263.7,474.8L1269.4,476.7L1269.4,481.2L1284.2,483.0L1283.0,488.0L1277.3,488.7L1277.3,491.2L1278.5,494.9L1280.7,494.3L1283.6,491.2L1285.3,505.9L1283.6,509.6 M1259.7,474.2L1262.0,481.8L1259.7,483.7L1263.1,488.0L1263.7,494.3L1264.8,501.0L1265.4,502.9 M1312.0,462.0L1305.8,468.5L1300.1,472.9L1296.7,481.8L1297.2,489.3L1289.8,489.3L1289.3,495.5L1288.7,499.8L1285.3,505.9 M1312.0,462.0L1320.0,466.5L1320.0,477.4L1314.3,484.3L1313.7,489.9L1321.1,488.7L1321.1,494.3L1324.5,496.1L1322.8,501.0L1328.5,504.7L1334.2,504.1L1333.9,506.9L1328.0,511.7 M1328.0,511.7L1321.7,513.2L1316.0,515.0L1312.6,522.9L1319.4,537.2L1317.1,542.5L1322.3,550.7L1322.8,557.7L1325.1,562.4L1320.6,568.8L1320.3,572.8 M1333.9,506.9L1337.6,506.5L1337.6,498.6L1343.9,498.6L1350.1,498.6L1357.5,493.6L1365.5,496.7L1364.9,501.7L1372.9,504.7 M1339.3,499.2L1344.5,509.0L1353.0,511.4L1350.1,516.9L1357.0,522.3L1364.9,534.2L1370.1,542.5L1370.6,545.4 M1328.0,511.7L1330.2,513.2L1330.8,516.9L1334.8,516.9L1333.1,526.5L1339.3,524.7L1342.7,526.5L1350.1,524.1L1354.7,529.5L1354.7,535.4L1359.2,539.5L1359.2,547.2L1357.0,547.8 M1357.0,547.8L1361.5,550.1L1370.6,545.4 M1357.0,547.8L1344.5,548.4L1341.6,551.9L1340.5,555.4L1343.9,563.0 M1370.6,545.4L1370.1,559.5L1363.8,563.0L1360.4,563.6L1361.0,567.0L1352.4,570.5 M1328.0,593.5L1333.6,598.1L1337.6,596.9L1339.3,594.7 M1382.0,618.6L1382.0,624.3L1387.7,624.9L1394.5,624.3L1396.8,622.0L1404.8,623.2L1410.4,622.0L1412.7,614.1L1416.1,610.6L1416.1,606.1L1427.5,606.1 M1560.6,644.8L1560.6,682.0 M1002.0,535.4L1004.3,529.5L1009.4,529.5L1022.5,530.6L1025.9,532.4L1032.7,524.7L1037.8,522.3L1054.3,519.9L1071.4,513.8L1075.4,501.7L1072.5,497.3L1057.7,496.1L1052.0,488.7L1052.0,487.4 M1054.3,519.9L1060.6,533.9 M1072.5,497.3L1075.9,488.0L1077.6,484.9L1079.4,483.7 M1047.5,484.6L1049.8,485.5" fill="none" stroke="#a0a0a0" stroke-width="2.5" stroke-linejoin="round"/>
<circle cx="973.4" cy="245.5" r="21.5" fill="#800026" fill-opacity="0.82" stroke="#5a0a1e" stroke-width="3"/>
<circle cx="68.4" cy="323.5" r="17.9" fill="#fed976" fill-opacity="0.77" stroke="#bfa03c" stroke-width="3"/>
<circle cx="162.2" cy="381.7" r="16.1" fill="#fed976" fill-opacity="0.77" stroke="#bfa03c" stroke-width="3"/>
<circle cx="203.7" cy="397.3" r="16.1" fill="#fed976" fill-opacity="0.77" stroke="#bfa03c" stroke-width="3"/>
<circle cx="234.5" cy="375.1" r="16.1" fill="#fed976" fill-opacity="0.77" stroke="#bfa03c" stroke-width="3"/>
<circle cx="279.3" cy="363.5" r="17.6" fill="#fed976" fill-opacity="0.77" stroke="#bfa03c" stroke-width="3"/>
<circle cx="339.6" cy="339.0" r="17.9" fill="#fed976" fill-opacity="0.77" stroke="#bfa03c" stroke-width="3"/>
<circle cx="340.2" cy="372.8" r="15.8" fill="#fed976" fill-opacity="0.77" stroke="#bfa03c" stroke-width="3"/>
<circle cx="318.4" cy="393.4" r="15.8" fill="#fed976" fill-opacity="0.77" stroke="#bfa03c" stroke-width="3"/>
<circle cx="71.7" cy="408.1" r="15.8" fill="#fed976" fill-opacity="0.77" stroke="#bfa03c" stroke-width="3"/>
<circle cx="92.0" cy="429.9" r="15.8" fill="#fed976" fill-opacity="0.77" stroke="#bfa03c" stroke-width="3"/>
<circle cx="279.6" cy="423.3" r="16.1" fill="#fed976" fill-opacity="0.77" stroke="#bfa03c" stroke-width="3"/>
<circle cx="220.4" cy="441.8" r="14.0" fill="#fed976" fill-opacity="0.77" stroke="#bfa03c" stroke-width="3"/>
<circle cx="267.3" cy="442.7" r="14.0" fill="#fed976" fill-opacity="0.77" stroke="#bfa03c" stroke-width="3"/>
<circle cx="144.3" cy="477.4" r="14.0" fill="#fed976" fill-opacity="0.77" stroke="#bfa03c" stroke-width="3"/>
<circle cx="303.8" cy="477.4" r="14.0" fill="#fed976" fill-opacity="0.77" stroke="#bfa03c" stroke-width="3"/>
<circle cx="194.1" cy="516.2" r="14.0" fill="#fed976" fill-opacity="0.77" stroke="#bfa03c" stroke-width="3"/>
<circle cx="260.5" cy="541.3" r="14.0" fill="#fed976" fill-opacity="0.77" stroke="#bfa03c" stroke-width="3"/>
<circle cx="402.3" cy="529.0" r="14.0" fill="#fed976" fill-opacity="0.77" stroke="#bfa03c" stroke-width="3"/>
<circle cx="282.3" cy="573.5" r="12.2" fill="#fed976" fill-opacity="0.77" stroke="#bfa03c" stroke-width="3"/>
<circle cx="338.4" cy="603.4" r="12.2" fill="#fed976" fill-opacity="0.77" stroke="#bfa03c" stroke-width="3"/>
<circle cx="313.6" cy="633.0" r="11.9" fill="#fed976" fill-opacity="0.77" stroke="#bfa03c" stroke-width="3"/>
<circle cx="304.7" cy="641.9" r="11.9" fill="#fed976" fill-opacity="0.77" stroke="#bfa03c" stroke-width="3"/>
<circle cx="418.2" cy="647.3" r="12.2" fill="#fed976" fill-opacity="0.77" stroke="#bfa03c" stroke-width="3"/>
<circle cx="448.9" cy="643.4" r="12.2" fill="#fed976" fill-opacity="0.77" stroke="#bfa03c" stroke-width="3"/>
<circle cx="557.6" cy="672.4" r="12.2" fill="#fed976" fill-opacity="0.77" stroke="#bfa03c" stroke-width="3"/>
<circle cx="401.1" cy="686.7" r="12.2" fill="#fed976" fill-opacity="0.77" stroke="#bfa03c" stroke-width="3"/>
<circle cx="482.1" cy="715.4" r="14.0" fill="#fed976" fill-opacity="0.77" stroke="#bfa03c" stroke-width="3"/>
<circle cx="523.0" cy="721.1" r="14.0" fill="#fed976" fill-opacity="0.77" stroke="#bfa03c" stroke-width="3"/>
<circle cx="383.8" cy="730.0" r="14.0" fill="#fed976" fill-opacity="0.77" stroke="#bfa03c" stroke-width="3"/>
<circle cx="517.3" cy="744.4" r="14.0" fill="#fed976" fill-opacity="0.77" stroke="#bfa03c" stroke-width="3"/>
<circle cx="488.9" cy="751.9" r="13.4" fill="#fed976" fill-opacity="0.77" stroke="#bfa03c" stroke-width="3"/>
<circle cx="514.3" cy="764.4" r="13.4" fill="#fed976" fill-opacity="0.77" stroke="#bfa03c" stroke-width="3"/>
<circle cx="488.4" cy="771.3" r="13.4" fill="#fed976" fill-opacity="0.77" stroke="#bfa03c" stroke-width="3"/>
<circle cx="469.8" cy="803.8" r="14.0" fill="#fed976" fill-opacity="0.77" stroke="#bfa03c" stroke-width="3"/>
<circle cx="394.9" cy="816.7" r="15.8" fill="#fed976" fill-opacity="0.77" stroke="#bfa03c" stroke-width="3"/>
<circle cx="357.5" cy="827.1" r="12.2" fill="#fed976" fill-opacity="0.77" stroke="#bfa03c" stroke-width="3"/>
<circle cx="866.4" cy="158.9" r="23.6" fill="#fed976" fill-opacity="0.77" stroke="#bfa03c" stroke-width="3"/>
<circle cx="813.0" cy="202.5" r="24.5" fill="#fed976" fill-opacity="0.77" stroke="#bfa03c" stroke-width="3"/>
<circle cx="859.3" cy="208.5" r="25.4" fill="#fed976" fill-opacity="0.77" stroke="#bfa03c" stroke-width="3"/>
<circle cx="932.1" cy="200.7" r="25.4" fill="#fed976" fill-opacity="0.77" stroke="#bfa03c" stroke-width="3"/>
<circle cx="1008.6" cy="238.4" r="23.6" fill="#fed976" fill-opacity="0.77" stroke="#bfa03c" stroke-width="3"/>
<circle cx="1048.0" cy="255.4" r="21.8" fill="#fed976" fill-opacity="0.77" stroke="#bfa03c" stroke-width="3"/>
<circle cx="1118.8" cy="232.4" r="23.6" fill="#fed976" fill-opacity="0.77" stroke="#bfa03c" stroke-width="3"/>
<circle cx="790.0" cy="279.3" r="20.0" fill="#fed976" fill-opacity="0.77" stroke="#bfa03c" stroke-width="3"/>
<circle cx="757.7" cy="282.3" r="19.4" fill="#fed976" fill-opacity="0.77" stroke="#bfa03c" stroke-width="3"/>
<circle cx="864.0" cy="274.2" r="21.5" fill="#fed976" fill-opacity="0.77" stroke="#bfa03c" stroke-width="3"/>
<circle cx="901.1" cy="274.2" r="21.2" fill="#fed976" fill-opacity="0.77" stroke="#bfa03c" stroke-width="3"/>
<circle cx="782.8" cy="310.6" r="20.0" fill="#fed976" fill-opacity="0.77" stroke="#bfa03c" stroke-width="3"/>
<circle cx="756.5" cy="322.6" r="17.0" fill="#fed976" fill-opacity="0.77" stroke="#bfa03c" stroke-width="3"/>
<circle cx="848.5" cy="319.0" r="20.0" fill="#fed976" fill-opacity="0.77" stroke="#bfa03c" stroke-width="3"/>
<circle cx="926.2" cy="303.2" r="19.7" fill="#fed976" fill-opacity="0.77" stroke="#bfa03c" stroke-width="3"/>
<circle cx="974.3" cy="311.2" r="19.7" fill="#fed976" fill-opacity="0.77" stroke="#bfa03c" stroke-width="3"/>
<circle cx="788.2" cy="354.2" r="17.6" fill="#fed976" fill-opacity="0.77" stroke="#bfa03c" stroke-width="3"/>
<circle cx="841.9" cy="359.3" r="17.6" fill="#fed976" fill-opacity="0.77" stroke="#bfa03c" stroke-width="3"/>
<circle cx="987.4" cy="355.4" r="17.6" fill="#fed976" fill-opacity="0.77" stroke="#bfa03c" stroke-width="3"/>
<circle cx="923.8" cy="371.9" r="15.5" fill="#fed976" fill-opacity="0.77" stroke="#bfa03c" stroke-width="3"/>
<circle cx="1030.1" cy="376.3" r="15.5" fill="#fed976" fill-opacity="0.77" stroke="#bfa03c" stroke-width="3"/>
<circle cx="720.7" cy="380.8" r="15.8" fill="#fed976" fill-opacity="0.77" stroke="#bfa03c" stroke-width="3"/>
<circle cx="1015.8" cy="391.3" r="15.5" fill="#fed976" fill-opacity="0.77" stroke="#bfa03c" stroke-width="3"/>
<circle cx="925.6" cy="396.4" r="15.5" fill="#fed976" fill-opacity="0.77" stroke="#bfa03c" stroke-width="3"/>
<circle cx="734.4" cy="402.3" r="15.8" fill="#fed976" fill-opacity="0.77" stroke="#bfa03c" stroke-width="3"/>
<circle cx="865.8" cy="400.8" r="15.8" fill="#fed976" fill-opacity="0.77" stroke="#bfa03c" stroke-width="3"/>
<circle cx="1048.0" cy="410.7" r="15.8" fill="#fed976" fill-opacity="0.77" stroke="#bfa03c" stroke-width="3"/>
<circle cx="1097.3" cy="415.2" r="15.8" fill="#fed976" fill-opacity="0.77" stroke="#bfa03c" stroke-width="3"/>
<circle cx="1164.5" cy="421.1" r="15.8" fill="#fed976" fill-opacity="0.77" stroke="#bfa03c" stroke-width="3"/>
<circle cx="811.2" cy="423.3" r="16.1" fill="#fed976" fill-opacity="0.77" stroke="#bfa03c" stroke-width="3"/>
<circle cx="957.5" cy="438.8" r="16.1" fill="#fed976" fill-opacity="0.77" stroke="#bfa03c" stroke-width="3"/>
<circle cx="1051.6" cy="450.8" r="14.0" fill="#fed976" fill-opacity="0.77" stroke="#bfa03c" stroke-width="3"/>
<circle cx="1074.9" cy="480.6" r="14.0" fill="#fed976" fill-opacity="0.77" stroke="#bfa03c" stroke-width="3"/>
<circle cx="856.3" cy="482.7" r="14.0" fill="#fed976" fill-opacity="0.77" stroke="#bfa03c" stroke-width="3"/>
<circle cx="986.2" cy="504.5" r="14.0" fill="#fed976" fill-opacity="0.77" stroke="#bfa03c" stroke-width="3"/>
<circle cx="703.9" cy="581.6" r="12.2" fill="#fed976" fill-opacity="0.77" stroke="#bfa03c" stroke-width="3"/>
<circle cx="776.2" cy="584.0" r="12.2" fill="#fed976" fill-opacity="0.77" stroke="#bfa03c" stroke-width="3"/>
<circle cx="736.8" cy="599.5" r="12.2" fill="#fed976" fill-opacity="0.77" stroke="#bfa03c" stroke-width="3"/>
<circle cx="930.6" cy="650.0" r="12.2" fill="#fed976" fill-opacity="0.77" stroke="#bfa03c" stroke-width="3"/>
<circle cx="983.5" cy="668.8" r="12.2" fill="#fed976" fill-opacity="0.77" stroke="#bfa03c" stroke-width="3"/>
<circle cx="1076.4" cy="656.0" r="12.2" fill="#fed976" fill-opacity="0.77" stroke="#bfa03c" stroke-width="3"/>
<circle cx="1027.1" cy="745.9" r="14.0" fill="#fed976" fill-opacity="0.77" stroke="#bfa03c" stroke-width="3"/>
<circle cx="1087.5" cy="748.0" r="14.0" fill="#fed976" fill-opacity="0.77" stroke="#bfa03c" stroke-width="3"/>
<circle cx="916.6" cy="782.3" r="14.0" fill="#fed976" fill-opacity="0.77" stroke="#bfa03c" stroke-width="3"/>
<circle cx="864.3" cy="827.7" r="11.6" fill="#fed976" fill-opacity="0.77" stroke="#bfa03c" stroke-width="3"/>
<circle cx="1242.5" cy="236.0" r="23.6" fill="#fed976" fill-opacity="0.77" stroke="#bfa03c" stroke-width="3"/>
<circle cx="1231.5" cy="253.3" r="21.8" fill="#fed976" fill-opacity="0.77" stroke="#bfa03c" stroke-width="3"/>
<circle cx="1480.3" cy="336.6" r="17.6" fill="#fed976" fill-opacity="0.77" stroke="#bfa03c" stroke-width="3"/>
<circle cx="1512.8" cy="354.8" r="17.6" fill="#fed976" fill-opacity="0.77" stroke="#bfa03c" stroke-width="3"/>
<circle cx="1421.7" cy="381.4" r="15.8" fill="#fed976" fill-opacity="0.77" stroke="#bfa03c" stroke-width="3"/>
<circle cx="1488.4" cy="403.2" r="15.8" fill="#fed976" fill-opacity="0.77" stroke="#bfa03c" stroke-width="3"/>
<circle cx="1425.6" cy="413.7" r="15.8" fill="#fed976" fill-opacity="0.77" stroke="#bfa03c" stroke-width="3"/>
<circle cx="1379.9" cy="421.1" r="15.8" fill="#fed976" fill-opacity="0.77" stroke="#bfa03c" stroke-width="3"/>
<circle cx="1554.1" cy="410.7" r="15.8" fill="#fed976" fill-opacity="0.77" stroke="#bfa03c" stroke-width="3"/>
<circle cx="1199.5" cy="457.6" r="14.0" fill="#fed976" fill-opacity="0.77" stroke="#bfa03c" stroke-width="3"/>
<circle cx="1188.2" cy="473.8" r="14.0" fill="#fed976" fill-opacity="0.77" stroke="#bfa03c" stroke-width="3"/>
<circle cx="1248.8" cy="477.1" r="14.0" fill="#fed976" fill-opacity="0.77" stroke="#bfa03c" stroke-width="3"/>
<circle cx="1273.3" cy="489.6" r="12.8" fill="#fed976" fill-opacity="0.77" stroke="#bfa03c" stroke-width="3"/>
<circle cx="1282.3" cy="499.5" r="13.4" fill="#fed976" fill-opacity="0.77" stroke="#bfa03c" stroke-width="3"/>
<circle cx="1195.0" cy="512.6" r="14.0" fill="#fed976" fill-opacity="0.77" stroke="#bfa03c" stroke-width="3"/>
<circle cx="1197.7" cy="548.4" r="14.0" fill="#fed976" fill-opacity="0.77" stroke="#bfa03c" stroke-width="3"/>
<circle cx="1322.6" cy="460.3" r="14.0" fill="#fed976" fill-opacity="0.77" stroke="#bfa03c" stroke-width="3"/>
<circle cx="1365.0" cy="452.9" r="14.0" fill="#fed976" fill-opacity="0.77" stroke="#bfa03c" stroke-width="3"/>
<circle cx="1443.0" cy="447.2" r="14.0" fill="#fed976" fill-opacity="0.77" stroke="#bfa03c" stroke-width="3"/>
<circle cx="1405.3" cy="494.1" r="12.8" fill="#fed976" fill-opacity="0.77" stroke="#bfa03c" stroke-width="3"/>
<circle cx="1409.8" cy="500.1" r="13.4" fill="#fed976" fill-opacity="0.77" stroke="#bfa03c" stroke-width="3"/>
<circle cx="1330.0" cy="550.2" r="14.0" fill="#fed976" fill-opacity="0.77" stroke="#bfa03c" stroke-width="3"/>
<circle cx="1365.9" cy="555.3" r="13.4" fill="#fed976" fill-opacity="0.77" stroke="#bfa03c" stroke-width="3"/>
<circle cx="1356.9" cy="568.8" r="13.4" fill="#fed976" fill-opacity="0.77" stroke="#bfa03c" stroke-width="3"/>
<circle cx="1448.0" cy="545.8" r="14.0" fill="#fed976" fill-opacity="0.77" stroke="#bfa03c" stroke-width="3"/>
<circle cx="1474.3" cy="589.7" r="12.2" fill="#fed976" fill-opacity="0.77" stroke="#bfa03c" stroke-width="3"/>
<circle cx="1339.6" cy="613.0" r="11.9" fill="#fed976" fill-opacity="0.77" stroke="#bfa03c" stroke-width="3"/>
<circle cx="1367.4" cy="665.2" r="12.2" fill="#fed976" fill-opacity="0.77" stroke="#bfa03c" stroke-width="3"/>
<circle cx="1408.3" cy="675.4" r="12.2" fill="#fed976" fill-opacity="0.77" stroke="#bfa03c" stroke-width="3"/>
</svg>
<div style="position:absolute;background:#353535;border-radius:8px;box-shadow:0 2px 6px rgba(0,0,0,0.55);left:1780px;top:366.2px;width:51.8px;height:103px;"></div><div style="position:absolute;background:#353535;border-radius:8px;box-shadow:0 2px 6px rgba(0,0,0,0.55);left:1780px;top:490.1px;width:51.8px;height:51.2px;"></div><div style="position:absolute;background:#353535;border-radius:8px;box-shadow:0 2px 6px rgba(0,0,0,0.55);left:1780px;top:561.7px;width:51.8px;height:103.4px;"></div><div style="position:absolute;left:1780px;top:416.2px;width:51.8px;height:1.5px;background:#444"></div><div style="position:absolute;left:1780px;top:611.8px;width:51.8px;height:1.5px;background:#444"></div><svg style="position:absolute;left:0;top:0" width="3360" height="1834" viewBox="0 0 3360 1834"><path d="M1796,391.7 h8.3 v-8.3 h5 v8.3 h8.3 v5 h-8.3 v8.3 h-5 v-8.3 h-8.3z" fill="#e2e2e2"/><rect x="1798" y="442.6" width="17.7" height="5" fill="#e2e2e2"/><path d="M1798.4,504.9 h4.1 v15.2 h14.8 v4.1 h-18.9z M1794.5,508.7 h19.8 v18.2 h-4.1 v-14.1 h-15.7z" fill="#e2e2e2"/><path d="M1817.3,504.9 L1801.8,520.1" stroke="#e2e2e2" stroke-width="1"/><path d="M1805.2,575.3 L1818.2,582.1 L1816.6,596.9 L1800.7,599.6 L1793.9,586.7Z" fill="#e2e2e2"/><rect x="1796.1" y="629.9" width="20" height="19.7" fill="#e2e2e2"/></svg><div style="position:absolute;left:3088px;top:880px;width:220px;height:234px;border-radius:9px;background:rgba(34,34,34,0.28);box-shadow:0 2px 5px rgba(0,0,0,0.15)"></div><!--MAPTXT-->
<div id="t76" style="position:absolute;top:902.9px;font-size:20px;line-height:20px;color:#8a8a8a;white-space:nowrap;font-weight:bold;letter-spacing:1.686px;left:3105.0px;">Count</div>
<div style="position:absolute;left:3104.3px;top:934.5px;width:16.4px;height:16.4px;border-radius:50%;background:#fed976;border:1.5px solid #d9b44a;"></div>
<div id="t77" style="position:absolute;top:933.6px;font-size:22px;line-height:22px;color:#9c9c9c;white-space:nowrap;letter-spacing:-0.165px;left:3133.0px;">1 – 14,319</div>
<div style="position:absolute;left:3104.3px;top:968.5px;width:16.4px;height:16.4px;border-radius:50%;background:#fd9e45;border:1.5px solid #d9741a;"></div>
<div id="t78" style="position:absolute;top:967.6px;font-size:22px;line-height:22px;color:#9c9c9c;white-space:nowrap;letter-spacing:0.032px;left:3133.0px;">14,319 – 28,637</div>
<div style="position:absolute;left:3104.3px;top:1002.5px;width:16.4px;height:16.4px;border-radius:50%;background:#fc4e2a;border:1.5px solid #d41a0c;"></div>
<div id="t79" style="position:absolute;top:1001.6px;font-size:22px;line-height:22px;color:#9c9c9c;white-space:nowrap;letter-spacing:0.032px;left:3133.0px;">28,637 – 42,955</div>
<div style="position:absolute;left:3104.3px;top:1036.5px;width:16.4px;height:16.4px;border-radius:50%;background:#d41020;border:1.5px solid #b0000e;"></div>
<div id="t80" style="position:absolute;top:1035.6px;font-size:22px;line-height:22px;color:#9c9c9c;white-space:nowrap;letter-spacing:0.032px;left:3133.0px;">42,955 – 57,273</div>
<div style="position:absolute;left:3104.3px;top:1070.5px;width:16.4px;height:16.4px;border-radius:50%;background:#800026;border:1.5px solid #5c0010;"></div>
<div id="t81" style="position:absolute;top:1069.6px;font-size:22px;line-height:22px;color:#9c9c9c;white-space:nowrap;letter-spacing:-0.110px;left:3133.0px;">57,273 – 71,591</div>
<div style="position:absolute;left:2786.5px;top:1134.5px;width:541.5px;height:31.5px;background:rgba(34,34,34,0.58);"></div>
<div style="position:absolute;left:2819.5px;top:1137px;width:156.5px;height:27px;background:rgba(30,30,30,0.6);"></div>
<div style="position:absolute;left:3112.5px;top:1137px;width:206px;height:27px;background:rgba(30,30,30,0.6);"></div>
<div id="t82" style="position:absolute;top:1139.6px;font-size:22px;line-height:22px;color:#9a9a9a;white-space:nowrap;left:2795.5px;">©</div>
<div id="t83" style="position:absolute;top:1139.6px;font-size:22px;line-height:22px;color:#f0f0f0;white-space:nowrap;letter-spacing:-0.068px;left:2820.8px;">OpenStreetMap</div>
<div id="t84" style="position:absolute;top:1139.6px;font-size:22px;line-height:22px;color:#9a9a9a;white-space:nowrap;letter-spacing:0.286px;left:2982.5px;">contributors,</div>
<div id="t85" style="position:absolute;top:1139.6px;font-size:22px;line-height:22px;color:#f0f0f0;white-space:nowrap;letter-spacing:-0.036px;left:3114.5px;">Elastic Maps Service</div>
</body></html>
